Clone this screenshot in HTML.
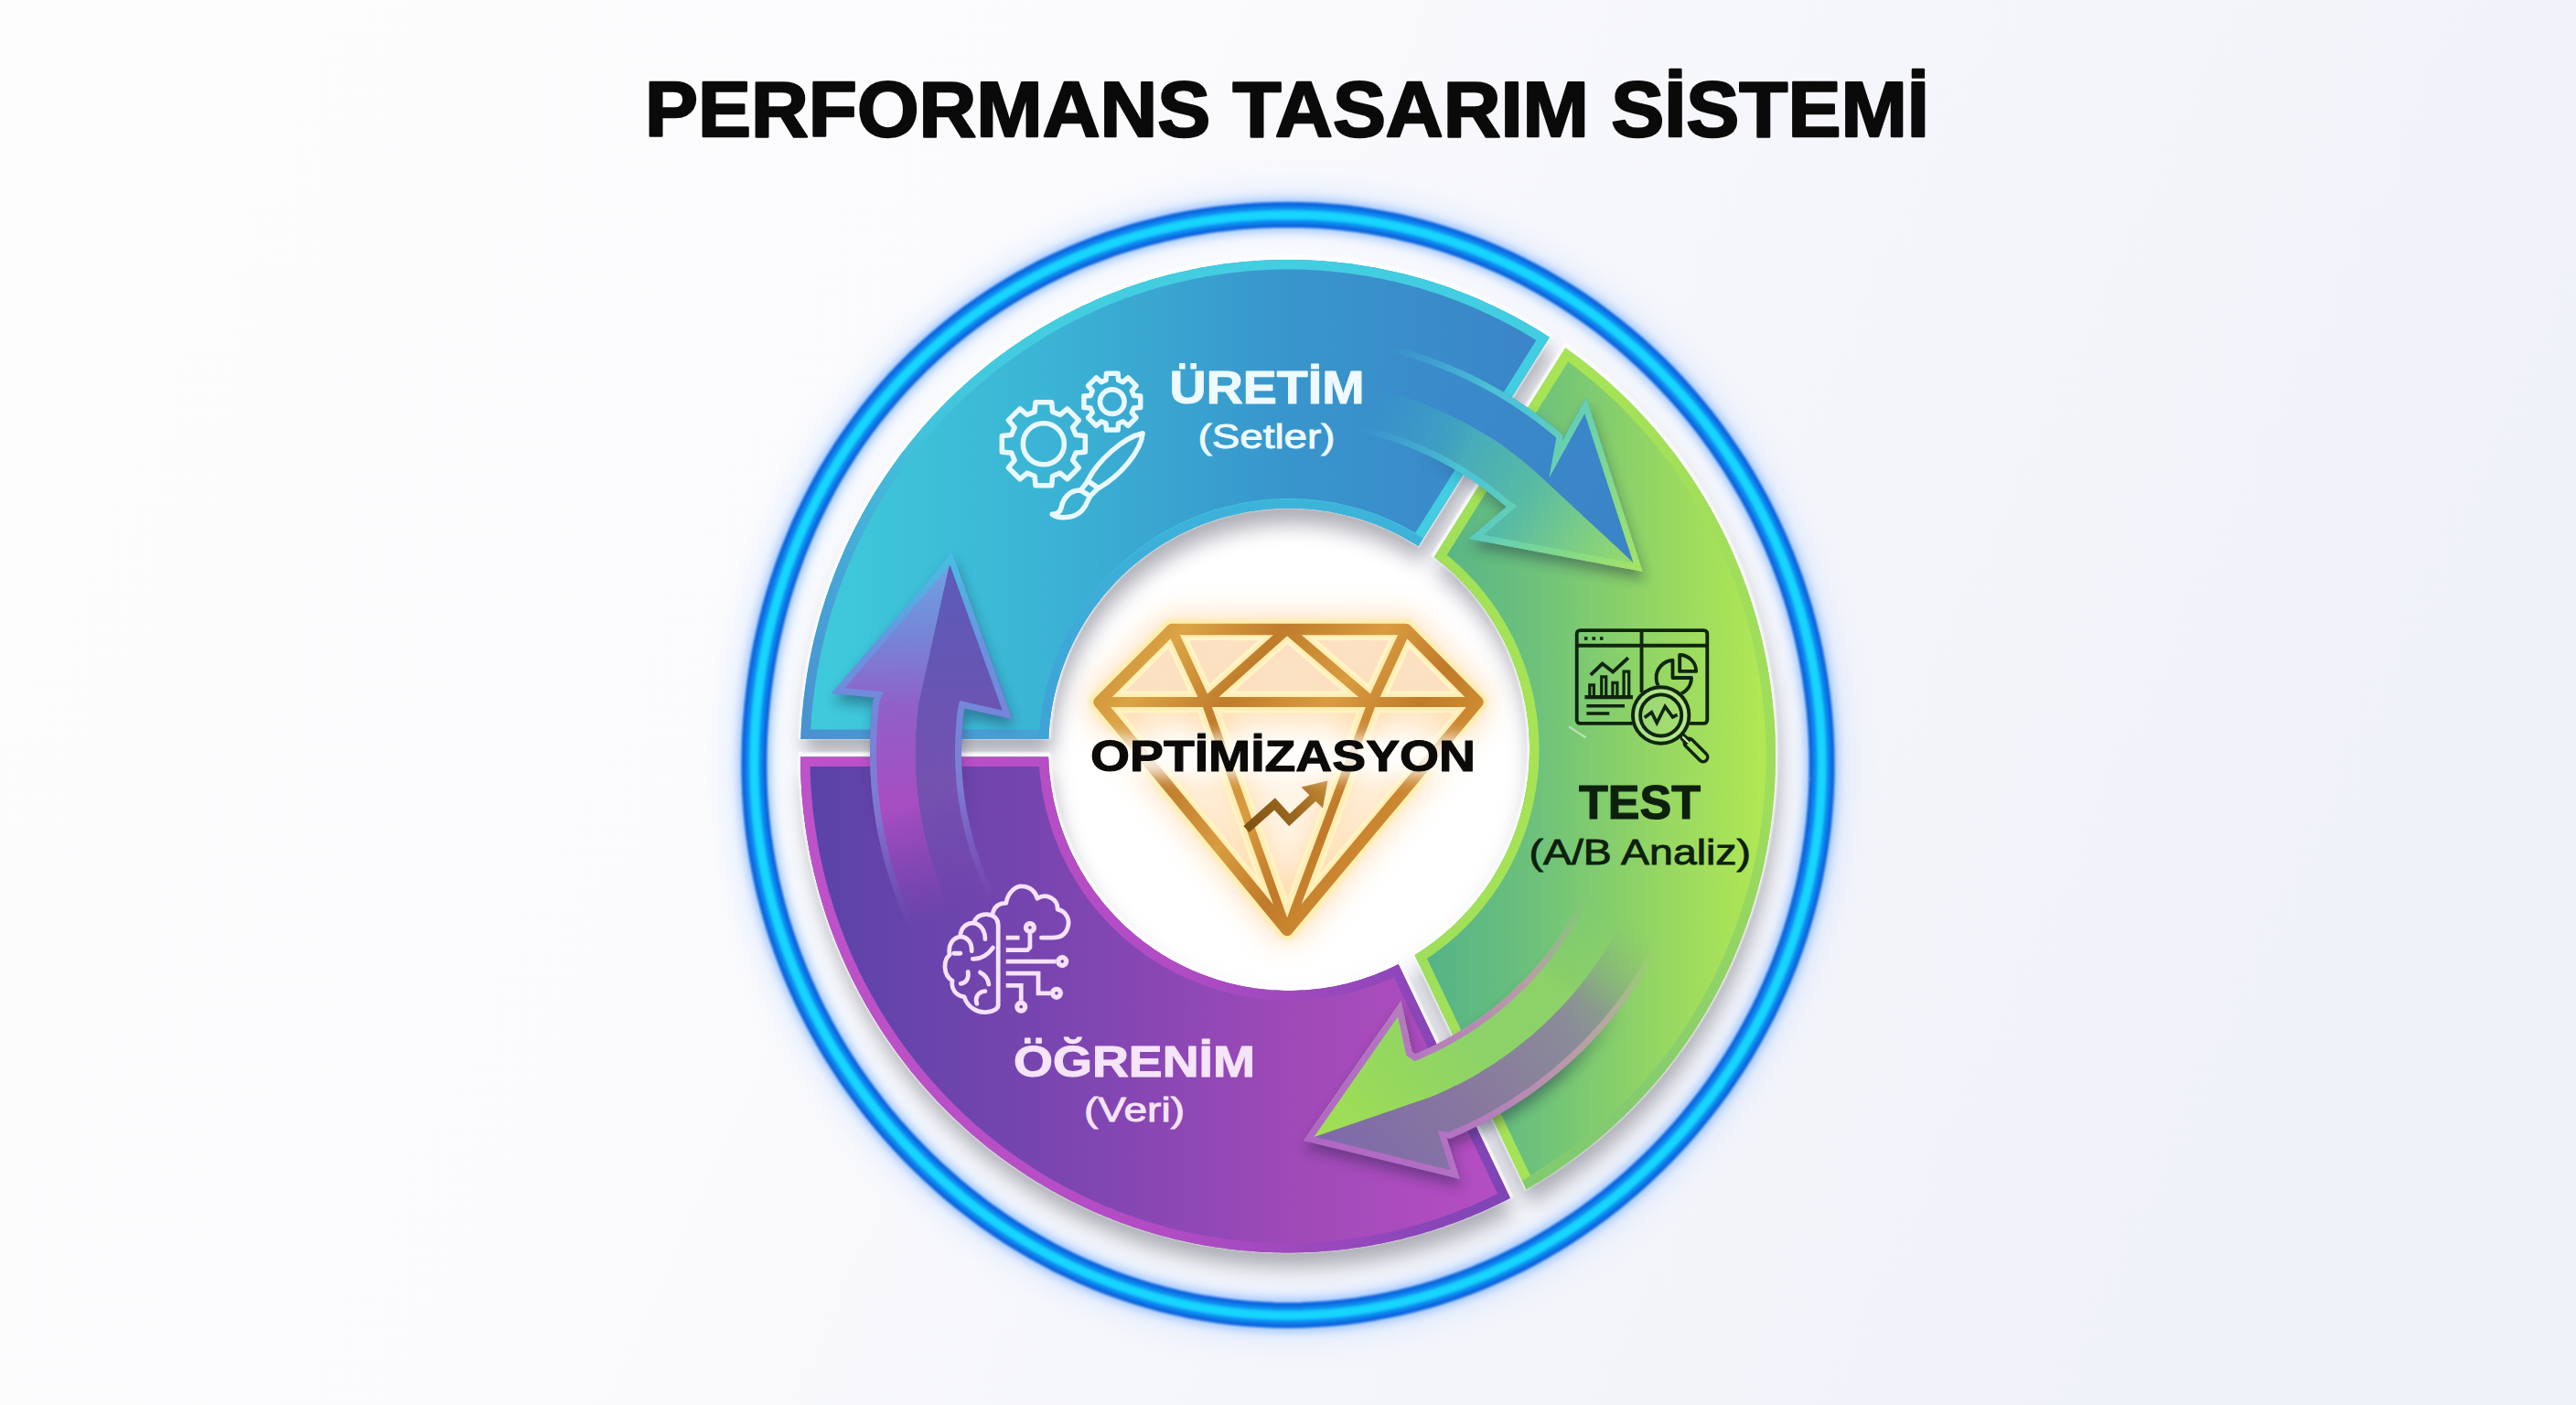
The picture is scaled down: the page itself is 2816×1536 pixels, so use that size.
<!DOCTYPE html><html><head><meta charset="utf-8"><title>Performans Tasarım Sistemi</title><style>html,body{margin:0;padding:0;background:#fafbfd;width:2816px;height:1536px;overflow:hidden;}svg{display:block;}text{font-family:"Liberation Sans",sans-serif;}</style></head><body><svg width="2816" height="1536" viewBox="0 0 2816 1536"><defs><linearGradient id="bg" x1="0" y1="0" x2="1" y2="0.25">
<stop offset="0" stop-color="#fdfdfe"/><stop offset="0.4" stop-color="#fbfbfd"/><stop offset="0.7" stop-color="#f5f6fb"/><stop offset="1" stop-color="#f0f2f9"/></linearGradient>
<filter id="glow" x="-20%" y="-20%" width="140%" height="140%"><feGaussianBlur stdDeviation="16"/></filter>
<filter id="glow2" x="-20%" y="-20%" width="140%" height="140%"><feGaussianBlur stdDeviation="5"/></filter>
<filter id="soft1" x="-5%" y="-5%" width="110%" height="110%"><feGaussianBlur stdDeviation="1.2"/></filter>
<filter id="blur8" x="-10%" y="-10%" width="120%" height="120%"><feGaussianBlur stdDeviation="9"/></filter>
<filter id="segsh" x="-10%" y="-10%" width="120%" height="125%"><feGaussianBlur stdDeviation="11"/></filter>
<linearGradient id="gTeal" gradientUnits="userSpaceOnUse" x1="880" y1="0" x2="1720" y2="0">
<stop offset="0" stop-color="#3fcbdb"/><stop offset="0.3" stop-color="#3bb5d5"/><stop offset="0.62" stop-color="#3896cc"/><stop offset="1" stop-color="#3b82c8"/></linearGradient>
<linearGradient id="gTealB" gradientUnits="userSpaceOnUse" x1="880" y1="830" x2="1180" y2="380">
<stop offset="0" stop-color="#4a8fd0"/><stop offset="0.3" stop-color="#47a2d6"/><stop offset="0.7" stop-color="#42c4dc"/><stop offset="1" stop-color="#43cde0"/></linearGradient>
<linearGradient id="gGreen" gradientUnits="userSpaceOnUse" x1="1540" y1="0" x2="1945" y2="0">
<stop offset="0" stop-color="#4fb08a"/><stop offset="0.35" stop-color="#6ec27a"/><stop offset="0.7" stop-color="#98d862"/><stop offset="1" stop-color="#b4ea52"/></linearGradient>
<linearGradient id="gGreenB" gradientUnits="userSpaceOnUse" x1="1540" y1="0" x2="1945" y2="0">
<stop offset="0" stop-color="#9ede5a"/><stop offset="0.4" stop-color="#a8e454"/><stop offset="1" stop-color="#9fdc5c"/></linearGradient>
<linearGradient id="gPurp" gradientUnits="userSpaceOnUse" x1="880" y1="0" x2="1660" y2="0">
<stop offset="0" stop-color="#5943a8"/><stop offset="0.35" stop-color="#7a45b0"/><stop offset="0.7" stop-color="#a04ab8"/><stop offset="1" stop-color="#b84ec4"/></linearGradient>
<linearGradient id="gPurpB" gradientUnits="userSpaceOnUse" x1="880" y1="0" x2="1660" y2="0">
<stop offset="0" stop-color="#be52c8"/><stop offset="0.5" stop-color="#b24cc4"/><stop offset="1" stop-color="#7c44b4"/></linearGradient>
<radialGradient id="gCentre" gradientUnits="userSpaceOnUse" cx="1409" cy="830" r="290">
<stop offset="0" stop-color="#ffffff"/><stop offset="0.8" stop-color="#ffffff"/><stop offset="1" stop-color="#f7f8fc"/></radialGradient>
<clipPath id="cp_teal"><path d="M1690.4,366.5 1686.5,364 1682.5,361.5 1678.5,359.1 1674.5,356.7 1670.5,354.4 1666.4,352 1662.3,349.8 1658.2,347.5 1654.1,345.3 1650,343.2 1645.8,341 1641.7,338.9 1637.5,336.9 1633.3,334.8 1629,332.9 1624.8,330.9 1620.5,329 1616.3,327.1 1612,325.3 1607.7,323.5 1603.3,321.8 1599,320 1594.7,318.4 1590.3,316.7 1585.9,315.1 1581.5,313.6 1577.1,312 1572.7,310.6 1568.3,309.1 1563.8,307.7 1559.4,306.3 1554.9,305 1550.4,303.7 1546,302.5 1541.5,301.3 1536.9,300.1 1532.4,299 1527.9,297.9 1523.4,296.9 1518.8,295.9 1514.3,294.9 1509.7,294 1505.1,293.1 1500.6,292.2 1496,291.4 1491.4,290.7 1486.8,290 1482.2,289.3 1477.6,288.6 1473,288 1468.3,287.5 1463.7,287 1459.1,286.5 1454.5,286.1 1449.8,285.7 1445.2,285.3 1440.5,285 1435.9,284.7 1431.2,284.5 1426.6,284.3 1422,284.2 1417.3,284.1 1412.7,284 1408,284 1403.3,284 1398.7,284.1 1394,284.2 1389.4,284.3 1384.8,284.5 1380.1,284.7 1375.5,285 1370.8,285.3 1366.2,285.7 1361.5,286.1 1356.9,286.5 1352.3,287 1347.7,287.5 1343,288 1338.4,288.6 1333.8,289.3 1329.2,290 1324.6,290.7 1320,291.4 1315.4,292.2 1310.9,293.1 1306.3,294 1301.7,294.9 1297.2,295.9 1292.6,296.9 1288.1,297.9 1283.6,299 1279.1,300.1 1274.5,301.3 1270,302.5 1265.6,303.7 1261.1,305 1256.6,306.3 1252.2,307.7 1247.7,309.1 1243.3,310.6 1238.9,312 1234.5,313.6 1230.1,315.1 1225.7,316.7 1221.3,318.4 1217,320 1212.7,321.8 1208.3,323.5 1204,325.3 1199.7,327.1 1195.5,329 1191.2,330.9 1187,332.9 1182.7,334.8 1178.5,336.9 1174.3,338.9 1170.2,341 1166,343.2 1161.9,345.3 1157.8,347.5 1153.7,349.8 1149.6,352 1145.5,354.4 1141.5,356.7 1137.5,359.1 1133.5,361.5 1129.5,364 1125.6,366.5 1121.6,369 1117.7,371.6 1113.8,374.2 1110,376.8 1106.1,379.4 1102.3,382.1 1098.5,384.9 1094.7,387.6 1091,390.4 1087.2,393.3 1083.5,396.1 1079.9,399 1076.2,402 1072.6,404.9 1069,407.9 1065.4,411 1061.8,414 1058.3,417.1 1054.8,420.2 1051.4,423.4 1047.9,426.6 1044.5,429.8 1041.1,433 1037.7,436.3 1034.4,439.6 1031.1,443 1027.8,446.3 1024.6,449.7 1021.4,453.1 1018.2,456.6 1015,460.1 1011.9,463.6 1008.8,467.1 1005.7,470.7 1002.7,474.2 999.7,477.9 996.7,481.5 993.8,485.2 990.9,488.9 988,492.6 985.1,496.3 982.3,500.1 979.5,503.9 976.8,507.7 974.1,511.6 971.4,515.4 968.7,519.3 966.1,523.2 963.5,527.2 961,531.1 958.5,535.1 956,539.1 953.5,543.1 951.1,547.2 948.8,551.3 946.4,555.3 944.1,559.5 941.8,563.6 939.6,567.7 937.4,571.9 935.2,576.1 933.1,580.3 931,584.5 928.9,588.8 926.9,593.1 924.9,597.3 923,601.6 921.1,606 919.2,610.3 917.4,614.7 915.6,619 913.8,623.4 912.1,627.8 910.4,632.2 908.8,636.6 907.1,641.1 905.6,645.5 904,650 902.5,654.5 901.1,659 899.7,663.5 898.3,668 896.9,672.6 895.6,677.1 894.4,681.7 893.2,686.2 892,690.8 890.8,695.4 889.7,700 888.7,704.6 887.6,709.2 886.6,713.9 885.7,718.5 884.8,723.1 883.9,727.8 883.1,732.5 882.3,737.1 881.6,741.8 880.9,746.5 880.2,751.2 879.6,755.9 879,760.6 878.4,765.3 877.9,770 877.5,774.7 877,779.4 876.6,784.1 876.3,788.8 876,793.6 875.7,798.3 875.5,803 875.3,807.8 875.3,808 1146.3,808 1146.4,805.5 1146.6,800.9 1147,796.3 1147.4,791.7 1148,787.2 1148.6,782.6 1149.2,778 1150,773.5 1150.8,769 1151.7,764.5 1152.7,760 1153.8,755.5 1155,751 1156.2,746.6 1157.5,742.2 1158.9,737.8 1160.3,733.4 1161.9,729.1 1163.5,724.8 1165.2,720.5 1166.9,716.3 1168.7,712 1170.6,707.9 1172.6,703.7 1174.7,699.6 1176.8,695.5 1179,691.5 1181.2,687.4 1183.6,683.5 1186,679.6 1188.4,675.7 1191,671.8 1193.6,668 1196.2,664.3 1199,660.6 1201.8,657 1204.6,653.3 1207.5,649.8 1210.5,646.3 1213.6,642.9 1216.7,639.5 1219.8,636.1 1223,632.8 1226.3,629.6 1229.6,626.4 1233,623.3 1236.5,620.3 1239.9,617.3 1243.5,614.4 1247.1,611.5 1250.7,608.7 1254.4,606 1258.1,603.3 1261.9,600.7 1265.8,598.1 1269.6,595.7 1273.5,593.3 1277.5,590.9 1281.5,588.7 1285.5,586.5 1289.6,584.3 1293.7,582.3 1297.9,580.3 1302,578.4 1306.2,576.6 1310.5,574.8 1314.7,573.1 1319,571.5 1323.4,570 1327.7,568.5 1332.1,567.1 1336.5,565.8 1340.9,564.6 1345.4,563.4 1349.8,562.4 1354.3,561.4 1358.8,560.4 1363.3,559.6 1367.9,558.8 1372.4,558.2 1376.9,557.6 1381.5,557 1386.1,556.6 1390.7,556.2 1395.2,556 1399.8,555.8 1404.4,555.6 1409,555.6 1413.6,555.6 1418.2,555.8 1422.8,556 1427.3,556.2 1431.9,556.6 1436.5,557 1441.1,557.6 1445.6,558.2 1450.1,558.8 1454.7,559.6 1459.2,560.4 1463.7,561.4 1468.2,562.4 1472.6,563.4 1477.1,564.6 1481.5,565.8 1485.9,567.1 1490.3,568.5 1494.6,570 1499,571.5 1503.3,573.1 1507.5,574.8 1511.8,576.6 1516,578.4 1520.1,580.3 1524.3,582.3 1528.4,584.3 1532.5,586.5 1536.5,588.7 1540.5,590.9 1544.5,593.3 1548.4,595.7 1550.5,597.1 1693.9,368.7Z"/></clipPath>
<clipPath id="cp_green"><path d="M1940.9,817.2 1940.8,812.5 1940.7,807.8 1940.5,803 1940.3,798.3 1940,793.6 1939.7,788.8 1939.4,784.1 1939,779.4 1938.5,774.7 1938.1,770 1937.6,765.3 1937,760.6 1936.4,755.9 1935.8,751.2 1935.1,746.5 1934.4,741.8 1933.7,737.1 1932.9,732.5 1932.1,727.8 1931.2,723.1 1930.3,718.5 1929.4,713.9 1928.4,709.2 1927.3,704.6 1926.3,700 1925.2,695.4 1924,690.8 1922.8,686.2 1921.6,681.7 1920.4,677.1 1919.1,672.6 1917.7,668 1916.3,663.5 1914.9,659 1913.5,654.5 1912,650 1910.4,645.5 1908.9,641.1 1907.2,636.6 1905.6,632.2 1903.9,627.8 1902.2,623.4 1900.4,619 1898.6,614.7 1896.8,610.3 1894.9,606 1893,601.6 1891.1,597.3 1889.1,593.1 1887.1,588.8 1885,584.5 1882.9,580.3 1880.8,576.1 1878.6,571.9 1876.4,567.7 1874.2,563.6 1871.9,559.5 1869.6,555.3 1867.2,551.3 1864.9,547.2 1862.5,543.1 1860,539.1 1857.5,535.1 1855,531.1 1852.5,527.2 1849.9,523.2 1847.3,519.3 1844.6,515.4 1841.9,511.6 1839.2,507.7 1836.5,503.9 1833.7,500.1 1830.9,496.3 1828,492.6 1825.1,488.9 1822.2,485.2 1819.3,481.5 1816.3,477.9 1813.3,474.2 1810.3,470.7 1807.2,467.1 1804.1,463.6 1801,460.1 1797.8,456.6 1794.6,453.1 1791.4,449.7 1788.2,446.3 1784.9,443 1781.6,439.6 1778.3,436.3 1774.9,433 1771.5,429.8 1768.1,426.6 1764.6,423.4 1761.2,420.2 1757.7,417.1 1754.2,414 1750.6,411 1747,407.9 1743.4,404.9 1739.8,402 1736.1,399 1732.5,396.1 1728.8,393.3 1725,390.4 1721.3,387.6 1717.5,384.9 1713.7,382.1 1711.2,380.3 1567.8,609.1 1570.9,611.5 1574.5,614.4 1578.1,617.3 1581.5,620.3 1585,623.3 1588.4,626.4 1591.7,629.6 1595,632.8 1598.2,636.1 1601.3,639.5 1604.4,642.9 1607.5,646.3 1610.5,649.8 1613.4,653.3 1616.2,657 1619,660.6 1621.8,664.3 1624.4,668 1627,671.8 1629.6,675.7 1632,679.6 1634.4,683.5 1636.8,687.4 1639,691.5 1641.2,695.5 1643.3,699.6 1645.4,703.7 1647.4,707.9 1649.3,712 1651.1,716.3 1652.8,720.5 1654.5,724.8 1656.1,729.1 1657.7,733.4 1659.1,737.8 1660.5,742.2 1661.8,746.6 1663,751 1664.2,755.5 1665.3,760 1666.3,764.5 1667.2,769 1668,773.5 1668.8,778 1669.4,782.6 1670,787.2 1670.6,791.7 1671,796.3 1671.4,800.9 1671.6,805.5 1671.8,810.1 1672,814.7 1672,819.3 1672,823.9 1671.8,828.5 1671.6,833.1 1671.4,837.7 1671,842.3 1670.6,846.9 1670,851.4 1669.4,856 1668.8,860.6 1668,865.1 1667.2,869.6 1666.3,874.1 1665.3,878.6 1664.2,883.1 1663,887.6 1661.8,892 1660.5,896.4 1659.1,900.8 1657.7,905.2 1656.1,909.5 1654.5,913.8 1652.8,918.1 1651.1,922.3 1649.3,926.6 1647.4,930.7 1645.4,934.9 1643.3,939 1641.2,943.1 1639,947.1 1636.8,951.1 1634.4,955.1 1632,959 1629.6,962.9 1627,966.8 1624.4,970.6 1621.8,974.3 1619,978 1616.2,981.6 1613.4,985.3 1610.5,988.8 1607.5,992.3 1604.4,995.7 1601.3,999.1 1598.2,1002.5 1595,1005.8 1591.7,1009 1588.4,1012.2 1585,1015.3 1581.5,1018.3 1578.1,1021.3 1574.5,1024.2 1570.9,1027.1 1567.3,1029.9 1563.6,1032.6 1559.9,1035.3 1556.1,1037.9 1552.2,1040.5 1548.4,1042.9 1546.5,1044.1 1668.5,1300.2 1670.5,1299 1674.5,1296.7 1678.5,1294.3 1682.5,1291.9 1686.5,1289.4 1690.4,1286.9 1694.4,1284.4 1698.3,1281.8 1702.2,1279.2 1706,1276.6 1709.9,1274 1713.7,1271.3 1717.5,1268.5 1721.3,1265.8 1725,1263 1728.8,1260.1 1732.5,1257.3 1736.1,1254.4 1739.8,1251.4 1743.4,1248.5 1747,1245.5 1750.6,1242.4 1754.2,1239.4 1757.7,1236.3 1761.2,1233.2 1764.6,1230 1768.1,1226.8 1771.5,1223.6 1774.9,1220.4 1778.3,1217.1 1781.6,1213.8 1784.9,1210.4 1788.2,1207.1 1791.4,1203.7 1794.6,1200.3 1797.8,1196.8 1801,1193.3 1804.1,1189.8 1807.2,1186.3 1810.3,1182.7 1813.3,1179.2 1816.3,1175.5 1819.3,1171.9 1822.2,1168.2 1825.1,1164.5 1828,1160.8 1830.9,1157.1 1833.7,1153.3 1836.5,1149.5 1839.2,1145.7 1841.9,1141.8 1844.6,1138 1847.3,1134.1 1849.9,1130.2 1852.5,1126.2 1855,1122.3 1857.5,1118.3 1860,1114.3 1862.5,1110.3 1864.9,1106.2 1867.2,1102.1 1869.6,1098 1871.9,1093.9 1874.2,1089.8 1876.4,1085.7 1878.6,1081.5 1880.8,1077.3 1882.9,1073.1 1885,1068.9 1887.1,1064.6 1889.1,1060.3 1891.1,1056.1 1893,1051.8 1894.9,1047.4 1896.8,1043.1 1898.6,1038.7 1900.4,1034.4 1902.2,1030 1903.9,1025.6 1905.6,1021.2 1907.2,1016.8 1908.9,1012.3 1910.4,1007.9 1912,1003.4 1913.5,998.9 1914.9,994.4 1916.3,989.9 1917.7,985.4 1919.1,980.8 1920.4,976.3 1921.6,971.7 1922.8,967.2 1924,962.6 1925.2,958 1926.3,953.4 1927.3,948.8 1928.4,944.2 1929.4,939.5 1930.3,934.9 1931.2,930.3 1932.1,925.6 1932.9,920.9 1933.7,916.3 1934.4,911.6 1935.1,906.9 1935.8,902.2 1936.4,897.5 1937,892.8 1937.6,888.1 1938.1,883.4 1938.5,878.7 1939,874 1939.4,869.3 1939.7,864.6 1940,859.8 1940.3,855.1 1940.5,850.4 1940.7,845.6 1940.8,840.9 1940.9,836.2 1941,831.4 1941,826.7 1941,822Z"/></clipPath>
<linearGradient id="gGreenLo" gradientUnits="userSpaceOnUse" x1="0" y1="880" x2="0" y2="1220"><stop offset="0" stop-color="#7cc674" stop-opacity="0"/><stop offset="1" stop-color="#7cc674" stop-opacity="0.85"/></linearGradient>
<clipPath id="cp_purp"><path d="M875,831.4 875.1,836.2 875.2,840.9 875.3,845.6 875.5,850.4 875.7,855.1 876,859.8 876.3,864.6 876.6,869.3 877,874 877.5,878.7 877.9,883.4 878.4,888.1 879,892.8 879.6,897.5 880.2,902.2 880.9,906.9 881.6,911.6 882.3,916.3 883.1,920.9 883.9,925.6 884.8,930.3 885.7,934.9 886.6,939.5 887.6,944.2 888.7,948.8 889.7,953.4 890.8,958 892,962.6 893.2,967.2 894.4,971.7 895.6,976.3 896.9,980.8 898.3,985.4 899.7,989.9 901.1,994.4 902.5,998.9 904,1003.4 905.6,1007.9 907.1,1012.3 908.8,1016.8 910.4,1021.2 912.1,1025.6 913.8,1030 915.6,1034.4 917.4,1038.7 919.2,1043.1 921.1,1047.4 923,1051.8 924.9,1056.1 926.9,1060.3 928.9,1064.6 931,1068.9 933.1,1073.1 935.2,1077.3 937.4,1081.5 939.6,1085.7 941.8,1089.8 944.1,1093.9 946.4,1098 948.8,1102.1 951.1,1106.2 953.5,1110.3 956,1114.3 958.5,1118.3 961,1122.3 963.5,1126.2 966.1,1130.2 968.7,1134.1 971.4,1138 974.1,1141.8 976.8,1145.7 979.5,1149.5 982.3,1153.3 985.1,1157.1 988,1160.8 990.9,1164.5 993.8,1168.2 996.7,1171.9 999.7,1175.5 1002.7,1179.2 1005.7,1182.7 1008.8,1186.3 1011.9,1189.8 1015,1193.3 1018.2,1196.8 1021.4,1200.3 1024.6,1203.7 1027.8,1207.1 1031.1,1210.4 1034.4,1213.8 1037.7,1217.1 1041.1,1220.4 1044.5,1223.6 1047.9,1226.8 1051.4,1230 1054.8,1233.2 1058.3,1236.3 1061.8,1239.4 1065.4,1242.4 1069,1245.5 1072.6,1248.5 1076.2,1251.4 1079.9,1254.4 1083.5,1257.3 1087.2,1260.1 1091,1263 1094.7,1265.8 1098.5,1268.5 1102.3,1271.3 1106.1,1274 1110,1276.6 1113.8,1279.2 1117.7,1281.8 1121.6,1284.4 1125.6,1286.9 1129.5,1289.4 1133.5,1291.9 1137.5,1294.3 1141.5,1296.7 1145.5,1299 1149.6,1301.4 1153.7,1303.6 1157.8,1305.9 1161.9,1308.1 1166,1310.2 1170.2,1312.4 1174.3,1314.5 1178.5,1316.5 1182.7,1318.6 1187,1320.5 1191.2,1322.5 1195.5,1324.4 1199.7,1326.3 1204,1328.1 1208.3,1329.9 1212.7,1331.6 1217,1333.4 1221.3,1335 1225.7,1336.7 1230.1,1338.3 1234.5,1339.8 1238.9,1341.4 1243.3,1342.8 1247.7,1344.3 1252.2,1345.7 1256.6,1347.1 1261.1,1348.4 1265.6,1349.7 1270,1350.9 1274.5,1352.1 1279.1,1353.3 1283.6,1354.4 1288.1,1355.5 1292.6,1356.5 1297.2,1357.5 1301.7,1358.5 1306.3,1359.4 1310.9,1360.3 1315.4,1361.2 1320,1362 1324.6,1362.7 1329.2,1363.4 1333.8,1364.1 1338.4,1364.8 1343,1365.4 1347.7,1365.9 1352.3,1366.4 1356.9,1366.9 1361.5,1367.3 1366.2,1367.7 1370.8,1368.1 1375.5,1368.4 1380.1,1368.7 1384.8,1368.9 1389.4,1369.1 1394,1369.2 1398.7,1369.3 1403.3,1369.4 1408,1369.4 1412.7,1369.4 1417.3,1369.3 1422,1369.2 1426.6,1369.1 1431.2,1368.9 1435.9,1368.7 1440.5,1368.4 1445.2,1368.1 1449.8,1367.7 1454.5,1367.3 1459.1,1366.9 1463.7,1366.4 1468.3,1365.9 1473,1365.4 1477.6,1364.8 1482.2,1364.1 1486.8,1363.4 1491.4,1362.7 1496,1362 1500.6,1361.2 1505.1,1360.3 1509.7,1359.4 1514.3,1358.5 1518.8,1357.5 1523.4,1356.5 1527.9,1355.5 1532.4,1354.4 1536.9,1353.3 1541.5,1352.1 1546,1350.9 1550.4,1349.7 1554.9,1348.4 1559.4,1347.1 1563.8,1345.7 1568.3,1344.3 1572.7,1342.8 1577.1,1341.4 1581.5,1339.8 1585.9,1338.3 1590.3,1336.7 1594.7,1335 1599,1333.4 1603.3,1331.6 1607.7,1329.9 1612,1328.1 1616.3,1326.3 1620.5,1324.4 1624.8,1322.5 1629,1320.5 1633.3,1318.6 1637.5,1316.5 1641.7,1314.5 1645.8,1312.4 1650,1310.2 1651,1309.7 1528.7,1054.1 1528.4,1054.3 1524.3,1056.3 1520.1,1058.3 1516,1060.2 1511.8,1062 1507.5,1063.8 1503.3,1065.5 1499,1067.1 1494.6,1068.6 1490.3,1070.1 1485.9,1071.5 1481.5,1072.8 1477.1,1074 1472.6,1075.2 1468.2,1076.2 1463.7,1077.2 1459.2,1078.2 1454.7,1079 1450.1,1079.8 1445.6,1080.4 1441.1,1081 1436.5,1081.6 1431.9,1082 1427.3,1082.4 1422.8,1082.6 1418.2,1082.8 1413.6,1083 1409,1083 1404.4,1083 1399.8,1082.8 1395.2,1082.6 1390.7,1082.4 1386.1,1082 1381.5,1081.6 1376.9,1081 1372.4,1080.4 1367.9,1079.8 1363.3,1079 1358.8,1078.2 1354.3,1077.2 1349.8,1076.2 1345.4,1075.2 1340.9,1074 1336.5,1072.8 1332.1,1071.5 1327.7,1070.1 1323.4,1068.6 1319,1067.1 1314.7,1065.5 1310.5,1063.8 1306.2,1062 1302,1060.2 1297.9,1058.3 1293.7,1056.3 1289.6,1054.3 1285.5,1052.1 1281.5,1049.9 1277.5,1047.7 1273.5,1045.3 1269.6,1042.9 1265.8,1040.5 1261.9,1037.9 1258.1,1035.3 1254.4,1032.6 1250.7,1029.9 1247.1,1027.1 1243.5,1024.2 1239.9,1021.3 1236.5,1018.3 1233,1015.3 1229.6,1012.2 1226.3,1009 1223,1005.8 1219.8,1002.5 1216.7,999.1 1213.6,995.7 1210.5,992.3 1207.5,988.8 1204.6,985.3 1201.8,981.6 1199,978 1196.2,974.3 1193.6,970.6 1191,966.8 1188.4,962.9 1186,959 1183.6,955.1 1181.2,951.1 1179,947.1 1176.8,943.1 1174.7,939 1172.6,934.9 1170.6,930.7 1168.7,926.6 1166.9,922.3 1165.2,918.1 1163.5,913.8 1161.9,909.5 1160.3,905.2 1158.9,900.8 1157.5,896.4 1156.2,892 1155,887.6 1153.8,883.1 1152.7,878.6 1151.7,874.1 1150.8,869.6 1150,865.1 1149.2,860.6 1148.6,856 1148,851.4 1147.4,846.9 1147,842.3 1146.6,837.7 1146.4,833.1 1146.2,828.5 1146.1,827.5 875,827.5Z"/></clipPath>
<filter id="arsh" x="-20%" y="-20%" width="140%" height="140%"><feGaussianBlur stdDeviation="7"/></filter>
<linearGradient id="ao_a1" gradientUnits="userSpaceOnUse" x1="1479.8" y1="420.2" x2="1796" y2="625"><stop offset="0" stop-color="#3c8fce"/><stop offset="0.5" stop-color="#3a87c9"/><stop offset="1" stop-color="#3a84c6"/></linearGradient>
<linearGradient id="ai_a1" gradientUnits="userSpaceOnUse" x1="1479.8" y1="420.2" x2="1796" y2="625"><stop offset="0" stop-color="#3c9ccc"/><stop offset="0.3" stop-color="#41a6c2"/><stop offset="0.6" stop-color="#58bba4"/><stop offset="0.85" stop-color="#86d27c"/><stop offset="1" stop-color="#9cdc66"/></linearGradient>
<linearGradient id="ab_a1" gradientUnits="userSpaceOnUse" x1="1479.8" y1="420.2" x2="1796" y2="625"><stop offset="0" stop-color="#45b8d8"/><stop offset="0.45" stop-color="#4cc6d4"/><stop offset="0.75" stop-color="#7fd890"/><stop offset="1" stop-color="#a8e460"/></linearGradient>
<linearGradient id="am_a1" gradientUnits="userSpaceOnUse" x1="1479.8" y1="420.2" x2="1613" y2="468.7"><stop offset="0" stop-color="#000"/><stop offset="0.15" stop-color="#000"/><stop offset="1" stop-color="#fff"/></linearGradient>
<linearGradient id="as_a1" gradientUnits="userSpaceOnUse" x1="1581.4" y1="452.2" x2="1682" y2="518.8"><stop offset="0" stop-color="#000"/><stop offset="1" stop-color="#fff"/></linearGradient>
<mask id="ms_a1" maskUnits="userSpaceOnUse" x="0" y="0" width="2816" height="1536"><rect width="2816" height="1536" fill="url(#as_a1)"/></mask>
<mask id="mk_a1" maskUnits="userSpaceOnUse" x="0" y="0" width="2816" height="1536"><rect width="2816" height="1536" fill="url(#am_a1)"/></mask>
<clipPath id="cpa_a1"><path d="M1488.5,371 1496.6,372.5 1504.7,374.1 1512.7,375.9 1520.7,377.8 1528.7,379.9 1536.6,382.1 1544.5,384.5 1552.4,387 1560.2,389.7 1567.9,392.5 1575.6,395.4 1583.3,398.4 1590.9,401.7 1598.4,405 1605.8,408.5 1613.3,412.1 1620.6,415.8 1627.9,419.7 1635.1,423.7 1642.2,427.8 1649.2,432.1 1656.2,436.4 1663.1,441 1669.9,445.6 1676.6,450.3 1683.3,455.2 1689.8,460.2 1696.3,465.3 1702.7,470.5 1708.9,475.9 1707.8,482 1734,434.6 1796,625 1605.7,589 1646.8,554 1644.7,552.6 1640,548.5 1635.1,544.5 1630.2,540.5 1625.2,536.7 1620.2,532.9 1615.1,529.3 1609.9,525.7 1604.7,522.2 1599.4,518.8 1594,515.5 1588.6,512.3 1583.2,509.2 1577.7,506.2 1572.1,503.3 1566.5,500.5 1560.8,497.8 1555.1,495.2 1549.3,492.6 1543.5,490.2 1537.7,487.9 1531.8,485.7 1525.9,483.6 1519.9,481.6 1513.9,479.7 1507.9,477.9 1501.8,476.2 1495.8,474.7 1489.6,473.2 1483.5,471.8 1477.3,470.6 1471.2,469.4Z"/></clipPath>
<linearGradient id="ao_a2" gradientUnits="userSpaceOnUse" x1="1781.7" y1="987.9" x2="1425" y2="1247"><stop offset="0" stop-color="#8cc070"/><stop offset="0.3" stop-color="#8a8c98"/><stop offset="0.6" stop-color="#88789e"/><stop offset="1" stop-color="#7d68ac"/></linearGradient>
<linearGradient id="ai_a2" gradientUnits="userSpaceOnUse" x1="1781.7" y1="987.9" x2="1425" y2="1247"><stop offset="0" stop-color="#8ed268"/><stop offset="0.5" stop-color="#8cd268"/><stop offset="1" stop-color="#a2e052"/></linearGradient>
<linearGradient id="ab_a2" gradientUnits="userSpaceOnUse" x1="1781.7" y1="987.9" x2="1425" y2="1247"><stop offset="0" stop-color="#b0c090"/><stop offset="0.35" stop-color="#b89aa8"/><stop offset="0.7" stop-color="#b472c4"/><stop offset="1" stop-color="#b066c4"/></linearGradient>
<linearGradient id="am_a2" gradientUnits="userSpaceOnUse" x1="1781.7" y1="987.9" x2="1716.9" y2="1089.7"><stop offset="0" stop-color="#000"/><stop offset="0.15" stop-color="#000"/><stop offset="1" stop-color="#fff"/></linearGradient>
<linearGradient id="as_a2" gradientUnits="userSpaceOnUse" x1="1735.9" y1="1066.1" x2="1664.7" y2="1140"><stop offset="0" stop-color="#000"/><stop offset="1" stop-color="#fff"/></linearGradient>
<mask id="ms_a2" maskUnits="userSpaceOnUse" x="0" y="0" width="2816" height="1536"><rect width="2816" height="1536" fill="url(#as_a2)"/></mask>
<mask id="mk_a2" maskUnits="userSpaceOnUse" x="0" y="0" width="2816" height="1536"><rect width="2816" height="1536" fill="url(#am_a2)"/></mask>
<clipPath id="cpa_a2"><path d="M1827.4,1008.3 1824.1,1015.6 1820.6,1022.9 1817,1030.1 1813.3,1037.3 1809.4,1044.3 1805.4,1051.4 1801.3,1058.3 1797.1,1065.2 1792.8,1072 1788.3,1078.7 1783.7,1085.3 1779.1,1091.9 1774.2,1098.3 1769.3,1104.7 1764.3,1111 1759.2,1117.2 1753.9,1123.3 1748.5,1129.4 1743.1,1135.3 1737.5,1141.1 1731.9,1146.9 1726.1,1152.5 1720.2,1158 1714.3,1163.4 1708.2,1168.8 1702.1,1174 1695.8,1179.1 1689.5,1184.1 1683.1,1188.9 1676.6,1193.7 1670,1198.4 1663.3,1202.9 1656.6,1207.3 1649.8,1211.6 1642.9,1215.8 1635.9,1219.8 1628.9,1223.8 1621.8,1227.6 1614.6,1231.3 1607.3,1234.8 1600.1,1238.2 1592.7,1241.5 1585.3,1244.7 1581.7,1244.4 1596,1289 1425,1247 1531.6,1094.3 1543.5,1149.6 1547.3,1152.2 1553.1,1149.7 1558.8,1147.2 1564.5,1144.5 1570.1,1141.7 1575.7,1138.8 1581.2,1135.8 1586.7,1132.8 1592.2,1129.6 1597.5,1126.3 1602.9,1123 1608.1,1119.5 1613.3,1116 1618.4,1112.3 1623.5,1108.6 1628.5,1104.8 1633.4,1100.9 1638.3,1096.9 1643.1,1092.8 1647.8,1088.7 1652.5,1084.5 1657,1080.1 1661.5,1075.7 1666,1071.3 1670.3,1066.7 1674.6,1062.1 1678.7,1057.4 1682.8,1052.6 1686.8,1047.8 1690.8,1042.9 1694.6,1037.9 1698.3,1032.8 1702,1027.7 1705.6,1022.5 1709,1017.3 1712.4,1012 1715.7,1006.6 1718.9,1001.2 1722,995.7 1725,990.2 1727.9,984.6 1730.7,979 1733.4,973.3 1736,967.6Z"/></clipPath>
<linearGradient id="ao_a3" gradientUnits="userSpaceOnUse" x1="1052.2" y1="1019.8" x2="1041" y2="604"><stop offset="0" stop-color="#9a48b8"/><stop offset="0.35" stop-color="#a64ec2"/><stop offset="0.6" stop-color="#9060c8"/><stop offset="0.8" stop-color="#7488d8"/><stop offset="1" stop-color="#6ea6e4"/></linearGradient>
<linearGradient id="ai_a3" gradientUnits="userSpaceOnUse" x1="1052.2" y1="1019.8" x2="1041" y2="604"><stop offset="0" stop-color="#7a4ab0"/><stop offset="0.4" stop-color="#7452b0"/><stop offset="0.7" stop-color="#6656b4"/><stop offset="1" stop-color="#5a5cba"/></linearGradient>
<linearGradient id="ab_a3" gradientUnits="userSpaceOnUse" x1="1052.2" y1="1019.8" x2="1041" y2="604"><stop offset="0" stop-color="#8c60c8"/><stop offset="0.4" stop-color="#7c7cd4"/><stop offset="0.75" stop-color="#6a92e0"/><stop offset="1" stop-color="#46c0e2"/></linearGradient>
<linearGradient id="am_a3" gradientUnits="userSpaceOnUse" x1="1052.2" y1="1019.8" x2="1005" y2="878.8"><stop offset="0" stop-color="#000"/><stop offset="0.15" stop-color="#000"/><stop offset="1" stop-color="#fff"/></linearGradient>
<linearGradient id="as_a3" gradientUnits="userSpaceOnUse" x1="1011.9" y1="915.5" x2="1002.3" y2="789.3"><stop offset="0" stop-color="#000"/><stop offset="1" stop-color="#fff"/></linearGradient>
<mask id="ms_a3" maskUnits="userSpaceOnUse" x="0" y="0" width="2816" height="1536"><rect width="2816" height="1536" fill="url(#as_a3)"/></mask>
<mask id="mk_a3" maskUnits="userSpaceOnUse" x="0" y="0" width="2816" height="1536"><rect width="2816" height="1536" fill="url(#am_a3)"/></mask>
<clipPath id="cpa_a3"><path d="M1008.4,1044 1004.6,1037 1000.9,1029.9 997.3,1022.7 993.9,1015.5 990.6,1008.2 987.4,1000.8 984.3,993.4 981.4,986 978.6,978.5 975.9,970.9 973.3,963.3 970.9,955.7 968.7,948 966.5,940.3 964.5,932.5 962.7,924.7 960.9,916.9 959.3,909 957.9,901.2 956.6,893.3 955.4,885.3 954.4,877.4 953.5,869.4 952.7,861.4 952.1,853.4 951.6,845.4 951.3,837.4 951.1,829.4 951,821.4 951.1,813.4 951.3,805.4 951.7,797.4 952.2,789.4 952.8,781.4 953.6,773.4 954.5,765.5 955.7,762.4 909.3,758 1041,604 1106.7,786.3 1054.4,774.4 1053.9,776.8 1053.1,783.1 1052.5,789.4 1052,795.6 1051.6,801.9 1051.3,808.2 1051.1,814.5 1051,820.8 1051,827.1 1051.2,833.3 1051.4,839.6 1051.8,845.9 1052.3,852.2 1052.9,858.4 1053.6,864.7 1054.4,870.9 1055.3,877.2 1056.3,883.4 1057.4,889.6 1058.7,895.7 1060,901.9 1061.5,908 1063,914.1 1064.7,920.1 1066.5,926.2 1068.4,932.2 1070.4,938.2 1072.5,944.1 1074.7,950 1077,955.8 1079.4,961.6 1081.9,967.4 1084.5,973.1 1087.2,978.8 1090,984.5 1092.9,990 1095.9,995.6Z"/></clipPath>
<filter id="dglow" x="-30%" y="-30%" width="160%" height="160%"><feGaussianBlur stdDeviation="17"/></filter>
<filter id="dglow2" x="-30%" y="-30%" width="160%" height="160%"><feGaussianBlur stdDeviation="1.6"/></filter>
<linearGradient id="gold" gradientUnits="userSpaceOnUse" x1="1200" y1="690" x2="1620" y2="1010">
<stop offset="0" stop-color="#c98a34"/><stop offset="0.14" stop-color="#dba444"/><stop offset="0.3" stop-color="#bf7c2c"/><stop offset="0.47" stop-color="#d99c40"/>
<stop offset="0.62" stop-color="#c07a2a"/><stop offset="0.8" stop-color="#d89636"/><stop offset="1" stop-color="#c6842e"/></linearGradient>
<linearGradient id="gold2" gradientUnits="userSpaceOnUse" x1="1360" y1="908" x2="1452" y2="854">
<stop offset="0" stop-color="#7c5014"/><stop offset="0.55" stop-color="#9a6820"/><stop offset="1" stop-color="#c48a32"/></linearGradient>
<mask id="mkMag" maskUnits="userSpaceOnUse" x="0" y="0" width="1405" height="1405"><rect width="1405" height="1405" fill="#fff"/><circle cx="825" cy="835" r="255" fill="#000"/></mask>
<filter id="thalo" x="-10%" y="-60%" width="120%" height="220%"><feGaussianBlur stdDeviation="9"/></filter></defs>
<rect width="2816" height="1536" fill="url(#bg)"/>
<path d="M824.4,836.3 824.6,820.6 825.1,804.8 826.1,789.1 827.4,773.4 829.1,757.7 831.1,742.1 833.5,726.5 836.3,711 839.5,695.6 843.1,680.3 847,665 851.3,649.8 856,634.8 861.1,619.9 866.5,605.1 872.3,590.5 878.5,576 885.1,561.7 892.1,547.5 899.4,533.6 907,519.8 915.1,506.3 923.5,493 932.2,480 941.3,467.2 950.8,454.6 960.6,442.4 970.7,430.4 981.1,418.7 991.9,407.3 1002.9,396.2 1014.2,385.5 1025.9,375.1 1037.8,365 1049.9,355.3 1062.4,345.9 1075,336.9 1087.9,328.2 1101,319.9 1114.4,312 1127.9,304.5 1141.6,297.3 1155.5,290.6 1169.5,284.2 1183.7,278.2 1198.1,272.6 1212.5,267.3 1227.1,262.5 1241.8,258 1256.6,254 1271.5,250.3 1286.5,247 1301.5,244.1 1316.6,241.6 1331.8,239.5 1347,237.8 1362.2,236.4 1377.5,235.5 1392.7,234.9 1408,234.7 1423.3,234.9 1438.5,235.5 1453.8,236.6 1469,238 1484.2,239.9 1499.3,242.2 1514.3,244.9 1529.3,248 1544.2,251.5 1559,255.4 1573.7,259.8 1588.2,264.5 1602.7,269.6 1617,275.1 1631.1,281 1645.2,287.2 1659,293.9 1672.7,300.9 1686.1,308.2 1699.4,316 1712.5,324 1725.4,332.5 1738.1,341.2 1750.5,350.3 1762.7,359.8 1774.7,369.5 1786.4,379.6 1797.9,390 1809,400.6 1820,411.6 1830.6,422.9 1841,434.4 1851,446.2 1860.8,458.3 1870.3,470.6 1879.4,483.2 1888.2,496.1 1896.8,509.1 1904.9,522.4 1912.8,535.9 1920.3,549.6 1927.4,563.5 1934.2,577.6 1940.6,591.8 1946.7,606.3 1952.4,620.9 1957.8,635.6 1962.7,650.5 1967.3,665.5 1971.5,680.7 1975.3,695.9 1978.7,711.3 1981.7,726.7 1984.3,742.2 1986.5,757.8 1988.4,773.4 1989.8,789.1 1990.8,804.8 1991.4,820.6 1991.6,836.3 1991.4,852 1990.8,867.8 1989.7,883.5 1988.3,899.2 1986.4,914.8 1984.1,930.4 1981.4,945.9 1978.4,961.3 1974.9,976.6 1971,991.8 1966.7,1006.9 1962.1,1021.9 1957,1036.7 1951.6,1051.4 1945.8,1065.9 1939.6,1080.3 1933.1,1094.5 1926.3,1108.5 1919,1122.3 1911.5,1135.9 1903.6,1149.4 1895.4,1162.6 1886.8,1175.5 1878,1188.3 1868.8,1200.8 1859.3,1213.1 1849.6,1225.1 1839.5,1236.8 1829.2,1248.3 1818.6,1259.5 1807.7,1270.5 1796.6,1281.1 1785.2,1291.5 1773.5,1301.6 1761.6,1311.3 1749.5,1320.8 1737.1,1329.9 1724.5,1338.7 1711.7,1347.2 1698.7,1355.3 1685.5,1363.1 1672.1,1370.6 1658.5,1377.7 1644.7,1384.4 1630.8,1390.7 1616.7,1396.7 1602.4,1402.3 1588,1407.5 1573.5,1412.3 1558.9,1416.7 1544.1,1420.7 1529.2,1424.3 1514.3,1427.4 1499.3,1430.2 1484.1,1432.6 1469,1434.5 1453.8,1436 1438.5,1437 1423.3,1437.7 1408,1437.9 1392.7,1437.7 1377.5,1437 1362.2,1436 1347,1434.5 1331.9,1432.5 1316.8,1430.2 1301.7,1427.4 1286.8,1424.2 1271.9,1420.6 1257.2,1416.6 1242.5,1412.1 1228,1407.3 1213.6,1402.1 1199.4,1396.5 1185.3,1390.5 1171.4,1384.1 1157.6,1377.4 1144.1,1370.3 1130.7,1362.8 1117.5,1355 1104.5,1346.9 1091.7,1338.4 1079.1,1329.6 1066.8,1320.4 1054.7,1311 1042.8,1301.2 1031.2,1291.1 1019.8,1280.8 1008.6,1270.1 997.8,1259.2 987.2,1248 976.8,1236.5 966.8,1224.8 957,1212.8 947.6,1200.5 938.4,1188 929.5,1175.3 921,1162.3 912.7,1149.2 904.8,1135.8 897.3,1122.2 890,1108.4 883.1,1094.4 876.6,1080.2 870.4,1065.8 864.6,1051.3 859.2,1036.6 854.1,1021.8 849.4,1006.9 845.1,991.8 841.2,976.6 837.7,961.3 834.6,945.8 831.9,930.4 829.6,914.8 827.7,899.2 826.3,883.5 825.2,867.8 824.6,852Z" fill="none" stroke="#a4c8ff" stroke-width="54" opacity="0.3" filter="url(#glow)"/>
<ellipse cx="1408" cy="827" rx="549" ry="558" fill="none" stroke="#ffffff" stroke-width="34" opacity="0.4" filter="url(#blur8)"/>
<path d="M824.4,836.3 824.6,820.6 825.1,804.8 826.1,789.1 827.4,773.4 829.1,757.7 831.1,742.1 833.5,726.5 836.3,711 839.5,695.6 843.1,680.3 847,665 851.3,649.8 856,634.8 861.1,619.9 866.5,605.1 872.3,590.5 878.5,576 885.1,561.7 892.1,547.5 899.4,533.6 907,519.8 915.1,506.3 923.5,493 932.2,480 941.3,467.2 950.8,454.6 960.6,442.4 970.7,430.4 981.1,418.7 991.9,407.3 1002.9,396.2 1014.2,385.5 1025.9,375.1 1037.8,365 1049.9,355.3 1062.4,345.9 1075,336.9 1087.9,328.2 1101,319.9 1114.4,312 1127.9,304.5 1141.6,297.3 1155.5,290.6 1169.5,284.2 1183.7,278.2 1198.1,272.6 1212.5,267.3 1227.1,262.5 1241.8,258 1256.6,254 1271.5,250.3 1286.5,247 1301.5,244.1 1316.6,241.6 1331.8,239.5 1347,237.8 1362.2,236.4 1377.5,235.5 1392.7,234.9 1408,234.7 1423.3,234.9 1438.5,235.5 1453.8,236.6 1469,238 1484.2,239.9 1499.3,242.2 1514.3,244.9 1529.3,248 1544.2,251.5 1559,255.4 1573.7,259.8 1588.2,264.5 1602.7,269.6 1617,275.1 1631.1,281 1645.2,287.2 1659,293.9 1672.7,300.9 1686.1,308.2 1699.4,316 1712.5,324 1725.4,332.5 1738.1,341.2 1750.5,350.3 1762.7,359.8 1774.7,369.5 1786.4,379.6 1797.9,390 1809,400.6 1820,411.6 1830.6,422.9 1841,434.4 1851,446.2 1860.8,458.3 1870.3,470.6 1879.4,483.2 1888.2,496.1 1896.8,509.1 1904.9,522.4 1912.8,535.9 1920.3,549.6 1927.4,563.5 1934.2,577.6 1940.6,591.8 1946.7,606.3 1952.4,620.9 1957.8,635.6 1962.7,650.5 1967.3,665.5 1971.5,680.7 1975.3,695.9 1978.7,711.3 1981.7,726.7 1984.3,742.2 1986.5,757.8 1988.4,773.4 1989.8,789.1 1990.8,804.8 1991.4,820.6 1991.6,836.3 1991.4,852 1990.8,867.8 1989.7,883.5 1988.3,899.2 1986.4,914.8 1984.1,930.4 1981.4,945.9 1978.4,961.3 1974.9,976.6 1971,991.8 1966.7,1006.9 1962.1,1021.9 1957,1036.7 1951.6,1051.4 1945.8,1065.9 1939.6,1080.3 1933.1,1094.5 1926.3,1108.5 1919,1122.3 1911.5,1135.9 1903.6,1149.4 1895.4,1162.6 1886.8,1175.5 1878,1188.3 1868.8,1200.8 1859.3,1213.1 1849.6,1225.1 1839.5,1236.8 1829.2,1248.3 1818.6,1259.5 1807.7,1270.5 1796.6,1281.1 1785.2,1291.5 1773.5,1301.6 1761.6,1311.3 1749.5,1320.8 1737.1,1329.9 1724.5,1338.7 1711.7,1347.2 1698.7,1355.3 1685.5,1363.1 1672.1,1370.6 1658.5,1377.7 1644.7,1384.4 1630.8,1390.7 1616.7,1396.7 1602.4,1402.3 1588,1407.5 1573.5,1412.3 1558.9,1416.7 1544.1,1420.7 1529.2,1424.3 1514.3,1427.4 1499.3,1430.2 1484.1,1432.6 1469,1434.5 1453.8,1436 1438.5,1437 1423.3,1437.7 1408,1437.9 1392.7,1437.7 1377.5,1437 1362.2,1436 1347,1434.5 1331.9,1432.5 1316.8,1430.2 1301.7,1427.4 1286.8,1424.2 1271.9,1420.6 1257.2,1416.6 1242.5,1412.1 1228,1407.3 1213.6,1402.1 1199.4,1396.5 1185.3,1390.5 1171.4,1384.1 1157.6,1377.4 1144.1,1370.3 1130.7,1362.8 1117.5,1355 1104.5,1346.9 1091.7,1338.4 1079.1,1329.6 1066.8,1320.4 1054.7,1311 1042.8,1301.2 1031.2,1291.1 1019.8,1280.8 1008.6,1270.1 997.8,1259.2 987.2,1248 976.8,1236.5 966.8,1224.8 957,1212.8 947.6,1200.5 938.4,1188 929.5,1175.3 921,1162.3 912.7,1149.2 904.8,1135.8 897.3,1122.2 890,1108.4 883.1,1094.4 876.6,1080.2 870.4,1065.8 864.6,1051.3 859.2,1036.6 854.1,1021.8 849.4,1006.9 845.1,991.8 841.2,976.6 837.7,961.3 834.6,945.8 831.9,930.4 829.6,914.8 827.7,899.2 826.3,883.5 825.2,867.8 824.6,852Z" fill="none" stroke="#7fb2ff" stroke-width="36" opacity="0.65" filter="url(#glow2)"/>
<g filter="url(#soft1)"><path d="M824.4,836.3 824.6,820.6 825.1,804.8 826.1,789.1 827.4,773.4 829.1,757.7 831.1,742.1 833.5,726.5 836.3,711 839.5,695.6 843.1,680.3 847,665 851.3,649.8 856,634.8 861.1,619.9 866.5,605.1 872.3,590.5 878.5,576 885.1,561.7 892.1,547.5 899.4,533.6 907,519.8 915.1,506.3 923.5,493 932.2,480 941.3,467.2 950.8,454.6 960.6,442.4 970.7,430.4 981.1,418.7 991.9,407.3 1002.9,396.2 1014.2,385.5 1025.9,375.1 1037.8,365 1049.9,355.3 1062.4,345.9 1075,336.9 1087.9,328.2 1101,319.9 1114.4,312 1127.9,304.5 1141.6,297.3 1155.5,290.6 1169.5,284.2 1183.7,278.2 1198.1,272.6 1212.5,267.3 1227.1,262.5 1241.8,258 1256.6,254 1271.5,250.3 1286.5,247 1301.5,244.1 1316.6,241.6 1331.8,239.5 1347,237.8 1362.2,236.4 1377.5,235.5 1392.7,234.9 1408,234.7 1423.3,234.9 1438.5,235.5 1453.8,236.6 1469,238 1484.2,239.9 1499.3,242.2 1514.3,244.9 1529.3,248 1544.2,251.5 1559,255.4 1573.7,259.8 1588.2,264.5 1602.7,269.6 1617,275.1 1631.1,281 1645.2,287.2 1659,293.9 1672.7,300.9 1686.1,308.2 1699.4,316 1712.5,324 1725.4,332.5 1738.1,341.2 1750.5,350.3 1762.7,359.8 1774.7,369.5 1786.4,379.6 1797.9,390 1809,400.6 1820,411.6 1830.6,422.9 1841,434.4 1851,446.2 1860.8,458.3 1870.3,470.6 1879.4,483.2 1888.2,496.1 1896.8,509.1 1904.9,522.4 1912.8,535.9 1920.3,549.6 1927.4,563.5 1934.2,577.6 1940.6,591.8 1946.7,606.3 1952.4,620.9 1957.8,635.6 1962.7,650.5 1967.3,665.5 1971.5,680.7 1975.3,695.9 1978.7,711.3 1981.7,726.7 1984.3,742.2 1986.5,757.8 1988.4,773.4 1989.8,789.1 1990.8,804.8 1991.4,820.6 1991.6,836.3 1991.4,852 1990.8,867.8 1989.7,883.5 1988.3,899.2 1986.4,914.8 1984.1,930.4 1981.4,945.9 1978.4,961.3 1974.9,976.6 1971,991.8 1966.7,1006.9 1962.1,1021.9 1957,1036.7 1951.6,1051.4 1945.8,1065.9 1939.6,1080.3 1933.1,1094.5 1926.3,1108.5 1919,1122.3 1911.5,1135.9 1903.6,1149.4 1895.4,1162.6 1886.8,1175.5 1878,1188.3 1868.8,1200.8 1859.3,1213.1 1849.6,1225.1 1839.5,1236.8 1829.2,1248.3 1818.6,1259.5 1807.7,1270.5 1796.6,1281.1 1785.2,1291.5 1773.5,1301.6 1761.6,1311.3 1749.5,1320.8 1737.1,1329.9 1724.5,1338.7 1711.7,1347.2 1698.7,1355.3 1685.5,1363.1 1672.1,1370.6 1658.5,1377.7 1644.7,1384.4 1630.8,1390.7 1616.7,1396.7 1602.4,1402.3 1588,1407.5 1573.5,1412.3 1558.9,1416.7 1544.1,1420.7 1529.2,1424.3 1514.3,1427.4 1499.3,1430.2 1484.1,1432.6 1469,1434.5 1453.8,1436 1438.5,1437 1423.3,1437.7 1408,1437.9 1392.7,1437.7 1377.5,1437 1362.2,1436 1347,1434.5 1331.9,1432.5 1316.8,1430.2 1301.7,1427.4 1286.8,1424.2 1271.9,1420.6 1257.2,1416.6 1242.5,1412.1 1228,1407.3 1213.6,1402.1 1199.4,1396.5 1185.3,1390.5 1171.4,1384.1 1157.6,1377.4 1144.1,1370.3 1130.7,1362.8 1117.5,1355 1104.5,1346.9 1091.7,1338.4 1079.1,1329.6 1066.8,1320.4 1054.7,1311 1042.8,1301.2 1031.2,1291.1 1019.8,1280.8 1008.6,1270.1 997.8,1259.2 987.2,1248 976.8,1236.5 966.8,1224.8 957,1212.8 947.6,1200.5 938.4,1188 929.5,1175.3 921,1162.3 912.7,1149.2 904.8,1135.8 897.3,1122.2 890,1108.4 883.1,1094.4 876.6,1080.2 870.4,1065.8 864.6,1051.3 859.2,1036.6 854.1,1021.8 849.4,1006.9 845.1,991.8 841.2,976.6 837.7,961.3 834.6,945.8 831.9,930.4 829.6,914.8 827.7,899.2 826.3,883.5 825.2,867.8 824.6,852Z" fill="none" stroke="#0c68de" stroke-width="28"/>
<path d="M824.4,836.3 824.6,820.6 825.1,804.8 826.1,789.1 827.4,773.4 829.1,757.7 831.1,742.1 833.5,726.5 836.3,711 839.5,695.6 843.1,680.3 847,665 851.3,649.8 856,634.8 861.1,619.9 866.5,605.1 872.3,590.5 878.5,576 885.1,561.7 892.1,547.5 899.4,533.6 907,519.8 915.1,506.3 923.5,493 932.2,480 941.3,467.2 950.8,454.6 960.6,442.4 970.7,430.4 981.1,418.7 991.9,407.3 1002.9,396.2 1014.2,385.5 1025.9,375.1 1037.8,365 1049.9,355.3 1062.4,345.9 1075,336.9 1087.9,328.2 1101,319.9 1114.4,312 1127.9,304.5 1141.6,297.3 1155.5,290.6 1169.5,284.2 1183.7,278.2 1198.1,272.6 1212.5,267.3 1227.1,262.5 1241.8,258 1256.6,254 1271.5,250.3 1286.5,247 1301.5,244.1 1316.6,241.6 1331.8,239.5 1347,237.8 1362.2,236.4 1377.5,235.5 1392.7,234.9 1408,234.7 1423.3,234.9 1438.5,235.5 1453.8,236.6 1469,238 1484.2,239.9 1499.3,242.2 1514.3,244.9 1529.3,248 1544.2,251.5 1559,255.4 1573.7,259.8 1588.2,264.5 1602.7,269.6 1617,275.1 1631.1,281 1645.2,287.2 1659,293.9 1672.7,300.9 1686.1,308.2 1699.4,316 1712.5,324 1725.4,332.5 1738.1,341.2 1750.5,350.3 1762.7,359.8 1774.7,369.5 1786.4,379.6 1797.9,390 1809,400.6 1820,411.6 1830.6,422.9 1841,434.4 1851,446.2 1860.8,458.3 1870.3,470.6 1879.4,483.2 1888.2,496.1 1896.8,509.1 1904.9,522.4 1912.8,535.9 1920.3,549.6 1927.4,563.5 1934.2,577.6 1940.6,591.8 1946.7,606.3 1952.4,620.9 1957.8,635.6 1962.7,650.5 1967.3,665.5 1971.5,680.7 1975.3,695.9 1978.7,711.3 1981.7,726.7 1984.3,742.2 1986.5,757.8 1988.4,773.4 1989.8,789.1 1990.8,804.8 1991.4,820.6 1991.6,836.3 1991.4,852 1990.8,867.8 1989.7,883.5 1988.3,899.2 1986.4,914.8 1984.1,930.4 1981.4,945.9 1978.4,961.3 1974.9,976.6 1971,991.8 1966.7,1006.9 1962.1,1021.9 1957,1036.7 1951.6,1051.4 1945.8,1065.9 1939.6,1080.3 1933.1,1094.5 1926.3,1108.5 1919,1122.3 1911.5,1135.9 1903.6,1149.4 1895.4,1162.6 1886.8,1175.5 1878,1188.3 1868.8,1200.8 1859.3,1213.1 1849.6,1225.1 1839.5,1236.8 1829.2,1248.3 1818.6,1259.5 1807.7,1270.5 1796.6,1281.1 1785.2,1291.5 1773.5,1301.6 1761.6,1311.3 1749.5,1320.8 1737.1,1329.9 1724.5,1338.7 1711.7,1347.2 1698.7,1355.3 1685.5,1363.1 1672.1,1370.6 1658.5,1377.7 1644.7,1384.4 1630.8,1390.7 1616.7,1396.7 1602.4,1402.3 1588,1407.5 1573.5,1412.3 1558.9,1416.7 1544.1,1420.7 1529.2,1424.3 1514.3,1427.4 1499.3,1430.2 1484.1,1432.6 1469,1434.5 1453.8,1436 1438.5,1437 1423.3,1437.7 1408,1437.9 1392.7,1437.7 1377.5,1437 1362.2,1436 1347,1434.5 1331.9,1432.5 1316.8,1430.2 1301.7,1427.4 1286.8,1424.2 1271.9,1420.6 1257.2,1416.6 1242.5,1412.1 1228,1407.3 1213.6,1402.1 1199.4,1396.5 1185.3,1390.5 1171.4,1384.1 1157.6,1377.4 1144.1,1370.3 1130.7,1362.8 1117.5,1355 1104.5,1346.9 1091.7,1338.4 1079.1,1329.6 1066.8,1320.4 1054.7,1311 1042.8,1301.2 1031.2,1291.1 1019.8,1280.8 1008.6,1270.1 997.8,1259.2 987.2,1248 976.8,1236.5 966.8,1224.8 957,1212.8 947.6,1200.5 938.4,1188 929.5,1175.3 921,1162.3 912.7,1149.2 904.8,1135.8 897.3,1122.2 890,1108.4 883.1,1094.4 876.6,1080.2 870.4,1065.8 864.6,1051.3 859.2,1036.6 854.1,1021.8 849.4,1006.9 845.1,991.8 841.2,976.6 837.7,961.3 834.6,945.8 831.9,930.4 829.6,914.8 827.7,899.2 826.3,883.5 825.2,867.8 824.6,852Z" fill="none" stroke="#0b86ee" stroke-width="19"/>
<path d="M824.4,836.3 824.6,820.6 825.1,804.8 826.1,789.1 827.4,773.4 829.1,757.7 831.1,742.1 833.5,726.5 836.3,711 839.5,695.6 843.1,680.3 847,665 851.3,649.8 856,634.8 861.1,619.9 866.5,605.1 872.3,590.5 878.5,576 885.1,561.7 892.1,547.5 899.4,533.6 907,519.8 915.1,506.3 923.5,493 932.2,480 941.3,467.2 950.8,454.6 960.6,442.4 970.7,430.4 981.1,418.7 991.9,407.3 1002.9,396.2 1014.2,385.5 1025.9,375.1 1037.8,365 1049.9,355.3 1062.4,345.9 1075,336.9 1087.9,328.2 1101,319.9 1114.4,312 1127.9,304.5 1141.6,297.3 1155.5,290.6 1169.5,284.2 1183.7,278.2 1198.1,272.6 1212.5,267.3 1227.1,262.5 1241.8,258 1256.6,254 1271.5,250.3 1286.5,247 1301.5,244.1 1316.6,241.6 1331.8,239.5 1347,237.8 1362.2,236.4 1377.5,235.5 1392.7,234.9 1408,234.7 1423.3,234.9 1438.5,235.5 1453.8,236.6 1469,238 1484.2,239.9 1499.3,242.2 1514.3,244.9 1529.3,248 1544.2,251.5 1559,255.4 1573.7,259.8 1588.2,264.5 1602.7,269.6 1617,275.1 1631.1,281 1645.2,287.2 1659,293.9 1672.7,300.9 1686.1,308.2 1699.4,316 1712.5,324 1725.4,332.5 1738.1,341.2 1750.5,350.3 1762.7,359.8 1774.7,369.5 1786.4,379.6 1797.9,390 1809,400.6 1820,411.6 1830.6,422.9 1841,434.4 1851,446.2 1860.8,458.3 1870.3,470.6 1879.4,483.2 1888.2,496.1 1896.8,509.1 1904.9,522.4 1912.8,535.9 1920.3,549.6 1927.4,563.5 1934.2,577.6 1940.6,591.8 1946.7,606.3 1952.4,620.9 1957.8,635.6 1962.7,650.5 1967.3,665.5 1971.5,680.7 1975.3,695.9 1978.7,711.3 1981.7,726.7 1984.3,742.2 1986.5,757.8 1988.4,773.4 1989.8,789.1 1990.8,804.8 1991.4,820.6 1991.6,836.3 1991.4,852 1990.8,867.8 1989.7,883.5 1988.3,899.2 1986.4,914.8 1984.1,930.4 1981.4,945.9 1978.4,961.3 1974.9,976.6 1971,991.8 1966.7,1006.9 1962.1,1021.9 1957,1036.7 1951.6,1051.4 1945.8,1065.9 1939.6,1080.3 1933.1,1094.5 1926.3,1108.5 1919,1122.3 1911.5,1135.9 1903.6,1149.4 1895.4,1162.6 1886.8,1175.5 1878,1188.3 1868.8,1200.8 1859.3,1213.1 1849.6,1225.1 1839.5,1236.8 1829.2,1248.3 1818.6,1259.5 1807.7,1270.5 1796.6,1281.1 1785.2,1291.5 1773.5,1301.6 1761.6,1311.3 1749.5,1320.8 1737.1,1329.9 1724.5,1338.7 1711.7,1347.2 1698.7,1355.3 1685.5,1363.1 1672.1,1370.6 1658.5,1377.7 1644.7,1384.4 1630.8,1390.7 1616.7,1396.7 1602.4,1402.3 1588,1407.5 1573.5,1412.3 1558.9,1416.7 1544.1,1420.7 1529.2,1424.3 1514.3,1427.4 1499.3,1430.2 1484.1,1432.6 1469,1434.5 1453.8,1436 1438.5,1437 1423.3,1437.7 1408,1437.9 1392.7,1437.7 1377.5,1437 1362.2,1436 1347,1434.5 1331.9,1432.5 1316.8,1430.2 1301.7,1427.4 1286.8,1424.2 1271.9,1420.6 1257.2,1416.6 1242.5,1412.1 1228,1407.3 1213.6,1402.1 1199.4,1396.5 1185.3,1390.5 1171.4,1384.1 1157.6,1377.4 1144.1,1370.3 1130.7,1362.8 1117.5,1355 1104.5,1346.9 1091.7,1338.4 1079.1,1329.6 1066.8,1320.4 1054.7,1311 1042.8,1301.2 1031.2,1291.1 1019.8,1280.8 1008.6,1270.1 997.8,1259.2 987.2,1248 976.8,1236.5 966.8,1224.8 957,1212.8 947.6,1200.5 938.4,1188 929.5,1175.3 921,1162.3 912.7,1149.2 904.8,1135.8 897.3,1122.2 890,1108.4 883.1,1094.4 876.6,1080.2 870.4,1065.8 864.6,1051.3 859.2,1036.6 854.1,1021.8 849.4,1006.9 845.1,991.8 841.2,976.6 837.7,961.3 834.6,945.8 831.9,930.4 829.6,914.8 827.7,899.2 826.3,883.5 825.2,867.8 824.6,852Z" fill="none" stroke="#12b4f8" stroke-width="12"/>
<path d="M824.4,836.3 824.6,820.6 825.1,804.8 826.1,789.1 827.4,773.4 829.1,757.7 831.1,742.1 833.5,726.5 836.3,711 839.5,695.6 843.1,680.3 847,665 851.3,649.8 856,634.8 861.1,619.9 866.5,605.1 872.3,590.5 878.5,576 885.1,561.7 892.1,547.5 899.4,533.6 907,519.8 915.1,506.3 923.5,493 932.2,480 941.3,467.2 950.8,454.6 960.6,442.4 970.7,430.4 981.1,418.7 991.9,407.3 1002.9,396.2 1014.2,385.5 1025.9,375.1 1037.8,365 1049.9,355.3 1062.4,345.9 1075,336.9 1087.9,328.2 1101,319.9 1114.4,312 1127.9,304.5 1141.6,297.3 1155.5,290.6 1169.5,284.2 1183.7,278.2 1198.1,272.6 1212.5,267.3 1227.1,262.5 1241.8,258 1256.6,254 1271.5,250.3 1286.5,247 1301.5,244.1 1316.6,241.6 1331.8,239.5 1347,237.8 1362.2,236.4 1377.5,235.5 1392.7,234.9 1408,234.7 1423.3,234.9 1438.5,235.5 1453.8,236.6 1469,238 1484.2,239.9 1499.3,242.2 1514.3,244.9 1529.3,248 1544.2,251.5 1559,255.4 1573.7,259.8 1588.2,264.5 1602.7,269.6 1617,275.1 1631.1,281 1645.2,287.2 1659,293.9 1672.7,300.9 1686.1,308.2 1699.4,316 1712.5,324 1725.4,332.5 1738.1,341.2 1750.5,350.3 1762.7,359.8 1774.7,369.5 1786.4,379.6 1797.9,390 1809,400.6 1820,411.6 1830.6,422.9 1841,434.4 1851,446.2 1860.8,458.3 1870.3,470.6 1879.4,483.2 1888.2,496.1 1896.8,509.1 1904.9,522.4 1912.8,535.9 1920.3,549.6 1927.4,563.5 1934.2,577.6 1940.6,591.8 1946.7,606.3 1952.4,620.9 1957.8,635.6 1962.7,650.5 1967.3,665.5 1971.5,680.7 1975.3,695.9 1978.7,711.3 1981.7,726.7 1984.3,742.2 1986.5,757.8 1988.4,773.4 1989.8,789.1 1990.8,804.8 1991.4,820.6 1991.6,836.3 1991.4,852 1990.8,867.8 1989.7,883.5 1988.3,899.2 1986.4,914.8 1984.1,930.4 1981.4,945.9 1978.4,961.3 1974.9,976.6 1971,991.8 1966.7,1006.9 1962.1,1021.9 1957,1036.7 1951.6,1051.4 1945.8,1065.9 1939.6,1080.3 1933.1,1094.5 1926.3,1108.5 1919,1122.3 1911.5,1135.9 1903.6,1149.4 1895.4,1162.6 1886.8,1175.5 1878,1188.3 1868.8,1200.8 1859.3,1213.1 1849.6,1225.1 1839.5,1236.8 1829.2,1248.3 1818.6,1259.5 1807.7,1270.5 1796.6,1281.1 1785.2,1291.5 1773.5,1301.6 1761.6,1311.3 1749.5,1320.8 1737.1,1329.9 1724.5,1338.7 1711.7,1347.2 1698.7,1355.3 1685.5,1363.1 1672.1,1370.6 1658.5,1377.7 1644.7,1384.4 1630.8,1390.7 1616.7,1396.7 1602.4,1402.3 1588,1407.5 1573.5,1412.3 1558.9,1416.7 1544.1,1420.7 1529.2,1424.3 1514.3,1427.4 1499.3,1430.2 1484.1,1432.6 1469,1434.5 1453.8,1436 1438.5,1437 1423.3,1437.7 1408,1437.9 1392.7,1437.7 1377.5,1437 1362.2,1436 1347,1434.5 1331.9,1432.5 1316.8,1430.2 1301.7,1427.4 1286.8,1424.2 1271.9,1420.6 1257.2,1416.6 1242.5,1412.1 1228,1407.3 1213.6,1402.1 1199.4,1396.5 1185.3,1390.5 1171.4,1384.1 1157.6,1377.4 1144.1,1370.3 1130.7,1362.8 1117.5,1355 1104.5,1346.9 1091.7,1338.4 1079.1,1329.6 1066.8,1320.4 1054.7,1311 1042.8,1301.2 1031.2,1291.1 1019.8,1280.8 1008.6,1270.1 997.8,1259.2 987.2,1248 976.8,1236.5 966.8,1224.8 957,1212.8 947.6,1200.5 938.4,1188 929.5,1175.3 921,1162.3 912.7,1149.2 904.8,1135.8 897.3,1122.2 890,1108.4 883.1,1094.4 876.6,1080.2 870.4,1065.8 864.6,1051.3 859.2,1036.6 854.1,1021.8 849.4,1006.9 845.1,991.8 841.2,976.6 837.7,961.3 834.6,945.8 831.9,930.4 829.6,914.8 827.7,899.2 826.3,883.5 825.2,867.8 824.6,852Z" fill="none" stroke="#18d6ff" stroke-width="7.5"/></g>
<circle cx="1409" cy="820" r="285" fill="url(#gCentre)"/>
<path d="M1690.4,366.5 1686.5,364 1682.5,361.5 1678.5,359.1 1674.5,356.7 1670.5,354.4 1666.4,352 1662.3,349.8 1658.2,347.5 1654.1,345.3 1650,343.2 1645.8,341 1641.7,338.9 1637.5,336.9 1633.3,334.8 1629,332.9 1624.8,330.9 1620.5,329 1616.3,327.1 1612,325.3 1607.7,323.5 1603.3,321.8 1599,320 1594.7,318.4 1590.3,316.7 1585.9,315.1 1581.5,313.6 1577.1,312 1572.7,310.6 1568.3,309.1 1563.8,307.7 1559.4,306.3 1554.9,305 1550.4,303.7 1546,302.5 1541.5,301.3 1536.9,300.1 1532.4,299 1527.9,297.9 1523.4,296.9 1518.8,295.9 1514.3,294.9 1509.7,294 1505.1,293.1 1500.6,292.2 1496,291.4 1491.4,290.7 1486.8,290 1482.2,289.3 1477.6,288.6 1473,288 1468.3,287.5 1463.7,287 1459.1,286.5 1454.5,286.1 1449.8,285.7 1445.2,285.3 1440.5,285 1435.9,284.7 1431.2,284.5 1426.6,284.3 1422,284.2 1417.3,284.1 1412.7,284 1408,284 1403.3,284 1398.7,284.1 1394,284.2 1389.4,284.3 1384.8,284.5 1380.1,284.7 1375.5,285 1370.8,285.3 1366.2,285.7 1361.5,286.1 1356.9,286.5 1352.3,287 1347.7,287.5 1343,288 1338.4,288.6 1333.8,289.3 1329.2,290 1324.6,290.7 1320,291.4 1315.4,292.2 1310.9,293.1 1306.3,294 1301.7,294.9 1297.2,295.9 1292.6,296.9 1288.1,297.9 1283.6,299 1279.1,300.1 1274.5,301.3 1270,302.5 1265.6,303.7 1261.1,305 1256.6,306.3 1252.2,307.7 1247.7,309.1 1243.3,310.6 1238.9,312 1234.5,313.6 1230.1,315.1 1225.7,316.7 1221.3,318.4 1217,320 1212.7,321.8 1208.3,323.5 1204,325.3 1199.7,327.1 1195.5,329 1191.2,330.9 1187,332.9 1182.7,334.8 1178.5,336.9 1174.3,338.9 1170.2,341 1166,343.2 1161.9,345.3 1157.8,347.5 1153.7,349.8 1149.6,352 1145.5,354.4 1141.5,356.7 1137.5,359.1 1133.5,361.5 1129.5,364 1125.6,366.5 1121.6,369 1117.7,371.6 1113.8,374.2 1110,376.8 1106.1,379.4 1102.3,382.1 1098.5,384.9 1094.7,387.6 1091,390.4 1087.2,393.3 1083.5,396.1 1079.9,399 1076.2,402 1072.6,404.9 1069,407.9 1065.4,411 1061.8,414 1058.3,417.1 1054.8,420.2 1051.4,423.4 1047.9,426.6 1044.5,429.8 1041.1,433 1037.7,436.3 1034.4,439.6 1031.1,443 1027.8,446.3 1024.6,449.7 1021.4,453.1 1018.2,456.6 1015,460.1 1011.9,463.6 1008.8,467.1 1005.7,470.7 1002.7,474.2 999.7,477.9 996.7,481.5 993.8,485.2 990.9,488.9 988,492.6 985.1,496.3 982.3,500.1 979.5,503.9 976.8,507.7 974.1,511.6 971.4,515.4 968.7,519.3 966.1,523.2 963.5,527.2 961,531.1 958.5,535.1 956,539.1 953.5,543.1 951.1,547.2 948.8,551.3 946.4,555.3 944.1,559.5 941.8,563.6 939.6,567.7 937.4,571.9 935.2,576.1 933.1,580.3 931,584.5 928.9,588.8 926.9,593.1 924.9,597.3 923,601.6 921.1,606 919.2,610.3 917.4,614.7 915.6,619 913.8,623.4 912.1,627.8 910.4,632.2 908.8,636.6 907.1,641.1 905.6,645.5 904,650 902.5,654.5 901.1,659 899.7,663.5 898.3,668 896.9,672.6 895.6,677.1 894.4,681.7 893.2,686.2 892,690.8 890.8,695.4 889.7,700 888.7,704.6 887.6,709.2 886.6,713.9 885.7,718.5 884.8,723.1 883.9,727.8 883.1,732.5 882.3,737.1 881.6,741.8 880.9,746.5 880.2,751.2 879.6,755.9 879,760.6 878.4,765.3 877.9,770 877.5,774.7 877,779.4 876.6,784.1 876.3,788.8 876,793.6 875.7,798.3 875.5,803 875.3,807.8 875.3,808 1146.3,808 1146.4,805.5 1146.6,800.9 1147,796.3 1147.4,791.7 1148,787.2 1148.6,782.6 1149.2,778 1150,773.5 1150.8,769 1151.7,764.5 1152.7,760 1153.8,755.5 1155,751 1156.2,746.6 1157.5,742.2 1158.9,737.8 1160.3,733.4 1161.9,729.1 1163.5,724.8 1165.2,720.5 1166.9,716.3 1168.7,712 1170.6,707.9 1172.6,703.7 1174.7,699.6 1176.8,695.5 1179,691.5 1181.2,687.4 1183.6,683.5 1186,679.6 1188.4,675.7 1191,671.8 1193.6,668 1196.2,664.3 1199,660.6 1201.8,657 1204.6,653.3 1207.5,649.8 1210.5,646.3 1213.6,642.9 1216.7,639.5 1219.8,636.1 1223,632.8 1226.3,629.6 1229.6,626.4 1233,623.3 1236.5,620.3 1239.9,617.3 1243.5,614.4 1247.1,611.5 1250.7,608.7 1254.4,606 1258.1,603.3 1261.9,600.7 1265.8,598.1 1269.6,595.7 1273.5,593.3 1277.5,590.9 1281.5,588.7 1285.5,586.5 1289.6,584.3 1293.7,582.3 1297.9,580.3 1302,578.4 1306.2,576.6 1310.5,574.8 1314.7,573.1 1319,571.5 1323.4,570 1327.7,568.5 1332.1,567.1 1336.5,565.8 1340.9,564.6 1345.4,563.4 1349.8,562.4 1354.3,561.4 1358.8,560.4 1363.3,559.6 1367.9,558.8 1372.4,558.2 1376.9,557.6 1381.5,557 1386.1,556.6 1390.7,556.2 1395.2,556 1399.8,555.8 1404.4,555.6 1409,555.6 1413.6,555.6 1418.2,555.8 1422.8,556 1427.3,556.2 1431.9,556.6 1436.5,557 1441.1,557.6 1445.6,558.2 1450.1,558.8 1454.7,559.6 1459.2,560.4 1463.7,561.4 1468.2,562.4 1472.6,563.4 1477.1,564.6 1481.5,565.8 1485.9,567.1 1490.3,568.5 1494.6,570 1499,571.5 1503.3,573.1 1507.5,574.8 1511.8,576.6 1516,578.4 1520.1,580.3 1524.3,582.3 1528.4,584.3 1532.5,586.5 1536.5,588.7 1540.5,590.9 1544.5,593.3 1548.4,595.7 1550.5,597.1 1693.9,368.7Z" fill="#70707c" opacity="0.55" transform="translate(3,17)" filter="url(#segsh)"/>
<path d="M1940.9,817.2 1940.8,812.5 1940.7,807.8 1940.5,803 1940.3,798.3 1940,793.6 1939.7,788.8 1939.4,784.1 1939,779.4 1938.5,774.7 1938.1,770 1937.6,765.3 1937,760.6 1936.4,755.9 1935.8,751.2 1935.1,746.5 1934.4,741.8 1933.7,737.1 1932.9,732.5 1932.1,727.8 1931.2,723.1 1930.3,718.5 1929.4,713.9 1928.4,709.2 1927.3,704.6 1926.3,700 1925.2,695.4 1924,690.8 1922.8,686.2 1921.6,681.7 1920.4,677.1 1919.1,672.6 1917.7,668 1916.3,663.5 1914.9,659 1913.5,654.5 1912,650 1910.4,645.5 1908.9,641.1 1907.2,636.6 1905.6,632.2 1903.9,627.8 1902.2,623.4 1900.4,619 1898.6,614.7 1896.8,610.3 1894.9,606 1893,601.6 1891.1,597.3 1889.1,593.1 1887.1,588.8 1885,584.5 1882.9,580.3 1880.8,576.1 1878.6,571.9 1876.4,567.7 1874.2,563.6 1871.9,559.5 1869.6,555.3 1867.2,551.3 1864.9,547.2 1862.5,543.1 1860,539.1 1857.5,535.1 1855,531.1 1852.5,527.2 1849.9,523.2 1847.3,519.3 1844.6,515.4 1841.9,511.6 1839.2,507.7 1836.5,503.9 1833.7,500.1 1830.9,496.3 1828,492.6 1825.1,488.9 1822.2,485.2 1819.3,481.5 1816.3,477.9 1813.3,474.2 1810.3,470.7 1807.2,467.1 1804.1,463.6 1801,460.1 1797.8,456.6 1794.6,453.1 1791.4,449.7 1788.2,446.3 1784.9,443 1781.6,439.6 1778.3,436.3 1774.9,433 1771.5,429.8 1768.1,426.6 1764.6,423.4 1761.2,420.2 1757.7,417.1 1754.2,414 1750.6,411 1747,407.9 1743.4,404.9 1739.8,402 1736.1,399 1732.5,396.1 1728.8,393.3 1725,390.4 1721.3,387.6 1717.5,384.9 1713.7,382.1 1711.2,380.3 1567.8,609.1 1570.9,611.5 1574.5,614.4 1578.1,617.3 1581.5,620.3 1585,623.3 1588.4,626.4 1591.7,629.6 1595,632.8 1598.2,636.1 1601.3,639.5 1604.4,642.9 1607.5,646.3 1610.5,649.8 1613.4,653.3 1616.2,657 1619,660.6 1621.8,664.3 1624.4,668 1627,671.8 1629.6,675.7 1632,679.6 1634.4,683.5 1636.8,687.4 1639,691.5 1641.2,695.5 1643.3,699.6 1645.4,703.7 1647.4,707.9 1649.3,712 1651.1,716.3 1652.8,720.5 1654.5,724.8 1656.1,729.1 1657.7,733.4 1659.1,737.8 1660.5,742.2 1661.8,746.6 1663,751 1664.2,755.5 1665.3,760 1666.3,764.5 1667.2,769 1668,773.5 1668.8,778 1669.4,782.6 1670,787.2 1670.6,791.7 1671,796.3 1671.4,800.9 1671.6,805.5 1671.8,810.1 1672,814.7 1672,819.3 1672,823.9 1671.8,828.5 1671.6,833.1 1671.4,837.7 1671,842.3 1670.6,846.9 1670,851.4 1669.4,856 1668.8,860.6 1668,865.1 1667.2,869.6 1666.3,874.1 1665.3,878.6 1664.2,883.1 1663,887.6 1661.8,892 1660.5,896.4 1659.1,900.8 1657.7,905.2 1656.1,909.5 1654.5,913.8 1652.8,918.1 1651.1,922.3 1649.3,926.6 1647.4,930.7 1645.4,934.9 1643.3,939 1641.2,943.1 1639,947.1 1636.8,951.1 1634.4,955.1 1632,959 1629.6,962.9 1627,966.8 1624.4,970.6 1621.8,974.3 1619,978 1616.2,981.6 1613.4,985.3 1610.5,988.8 1607.5,992.3 1604.4,995.7 1601.3,999.1 1598.2,1002.5 1595,1005.8 1591.7,1009 1588.4,1012.2 1585,1015.3 1581.5,1018.3 1578.1,1021.3 1574.5,1024.2 1570.9,1027.1 1567.3,1029.9 1563.6,1032.6 1559.9,1035.3 1556.1,1037.9 1552.2,1040.5 1548.4,1042.9 1546.5,1044.1 1668.5,1300.2 1670.5,1299 1674.5,1296.7 1678.5,1294.3 1682.5,1291.9 1686.5,1289.4 1690.4,1286.9 1694.4,1284.4 1698.3,1281.8 1702.2,1279.2 1706,1276.6 1709.9,1274 1713.7,1271.3 1717.5,1268.5 1721.3,1265.8 1725,1263 1728.8,1260.1 1732.5,1257.3 1736.1,1254.4 1739.8,1251.4 1743.4,1248.5 1747,1245.5 1750.6,1242.4 1754.2,1239.4 1757.7,1236.3 1761.2,1233.2 1764.6,1230 1768.1,1226.8 1771.5,1223.6 1774.9,1220.4 1778.3,1217.1 1781.6,1213.8 1784.9,1210.4 1788.2,1207.1 1791.4,1203.7 1794.6,1200.3 1797.8,1196.8 1801,1193.3 1804.1,1189.8 1807.2,1186.3 1810.3,1182.7 1813.3,1179.2 1816.3,1175.5 1819.3,1171.9 1822.2,1168.2 1825.1,1164.5 1828,1160.8 1830.9,1157.1 1833.7,1153.3 1836.5,1149.5 1839.2,1145.7 1841.9,1141.8 1844.6,1138 1847.3,1134.1 1849.9,1130.2 1852.5,1126.2 1855,1122.3 1857.5,1118.3 1860,1114.3 1862.5,1110.3 1864.9,1106.2 1867.2,1102.1 1869.6,1098 1871.9,1093.9 1874.2,1089.8 1876.4,1085.7 1878.6,1081.5 1880.8,1077.3 1882.9,1073.1 1885,1068.9 1887.1,1064.6 1889.1,1060.3 1891.1,1056.1 1893,1051.8 1894.9,1047.4 1896.8,1043.1 1898.6,1038.7 1900.4,1034.4 1902.2,1030 1903.9,1025.6 1905.6,1021.2 1907.2,1016.8 1908.9,1012.3 1910.4,1007.9 1912,1003.4 1913.5,998.9 1914.9,994.4 1916.3,989.9 1917.7,985.4 1919.1,980.8 1920.4,976.3 1921.6,971.7 1922.8,967.2 1924,962.6 1925.2,958 1926.3,953.4 1927.3,948.8 1928.4,944.2 1929.4,939.5 1930.3,934.9 1931.2,930.3 1932.1,925.6 1932.9,920.9 1933.7,916.3 1934.4,911.6 1935.1,906.9 1935.8,902.2 1936.4,897.5 1937,892.8 1937.6,888.1 1938.1,883.4 1938.5,878.7 1939,874 1939.4,869.3 1939.7,864.6 1940,859.8 1940.3,855.1 1940.5,850.4 1940.7,845.6 1940.8,840.9 1940.9,836.2 1941,831.4 1941,826.7 1941,822Z" fill="#70707c" opacity="0.55" transform="translate(3,17)" filter="url(#segsh)"/>
<path d="M875,831.4 875.1,836.2 875.2,840.9 875.3,845.6 875.5,850.4 875.7,855.1 876,859.8 876.3,864.6 876.6,869.3 877,874 877.5,878.7 877.9,883.4 878.4,888.1 879,892.8 879.6,897.5 880.2,902.2 880.9,906.9 881.6,911.6 882.3,916.3 883.1,920.9 883.9,925.6 884.8,930.3 885.7,934.9 886.6,939.5 887.6,944.2 888.7,948.8 889.7,953.4 890.8,958 892,962.6 893.2,967.2 894.4,971.7 895.6,976.3 896.9,980.8 898.3,985.4 899.7,989.9 901.1,994.4 902.5,998.9 904,1003.4 905.6,1007.9 907.1,1012.3 908.8,1016.8 910.4,1021.2 912.1,1025.6 913.8,1030 915.6,1034.4 917.4,1038.7 919.2,1043.1 921.1,1047.4 923,1051.8 924.9,1056.1 926.9,1060.3 928.9,1064.6 931,1068.9 933.1,1073.1 935.2,1077.3 937.4,1081.5 939.6,1085.7 941.8,1089.8 944.1,1093.9 946.4,1098 948.8,1102.1 951.1,1106.2 953.5,1110.3 956,1114.3 958.5,1118.3 961,1122.3 963.5,1126.2 966.1,1130.2 968.7,1134.1 971.4,1138 974.1,1141.8 976.8,1145.7 979.5,1149.5 982.3,1153.3 985.1,1157.1 988,1160.8 990.9,1164.5 993.8,1168.2 996.7,1171.9 999.7,1175.5 1002.7,1179.2 1005.7,1182.7 1008.8,1186.3 1011.9,1189.8 1015,1193.3 1018.2,1196.8 1021.4,1200.3 1024.6,1203.7 1027.8,1207.1 1031.1,1210.4 1034.4,1213.8 1037.7,1217.1 1041.1,1220.4 1044.5,1223.6 1047.9,1226.8 1051.4,1230 1054.8,1233.2 1058.3,1236.3 1061.8,1239.4 1065.4,1242.4 1069,1245.5 1072.6,1248.5 1076.2,1251.4 1079.9,1254.4 1083.5,1257.3 1087.2,1260.1 1091,1263 1094.7,1265.8 1098.5,1268.5 1102.3,1271.3 1106.1,1274 1110,1276.6 1113.8,1279.2 1117.7,1281.8 1121.6,1284.4 1125.6,1286.9 1129.5,1289.4 1133.5,1291.9 1137.5,1294.3 1141.5,1296.7 1145.5,1299 1149.6,1301.4 1153.7,1303.6 1157.8,1305.9 1161.9,1308.1 1166,1310.2 1170.2,1312.4 1174.3,1314.5 1178.5,1316.5 1182.7,1318.6 1187,1320.5 1191.2,1322.5 1195.5,1324.4 1199.7,1326.3 1204,1328.1 1208.3,1329.9 1212.7,1331.6 1217,1333.4 1221.3,1335 1225.7,1336.7 1230.1,1338.3 1234.5,1339.8 1238.9,1341.4 1243.3,1342.8 1247.7,1344.3 1252.2,1345.7 1256.6,1347.1 1261.1,1348.4 1265.6,1349.7 1270,1350.9 1274.5,1352.1 1279.1,1353.3 1283.6,1354.4 1288.1,1355.5 1292.6,1356.5 1297.2,1357.5 1301.7,1358.5 1306.3,1359.4 1310.9,1360.3 1315.4,1361.2 1320,1362 1324.6,1362.7 1329.2,1363.4 1333.8,1364.1 1338.4,1364.8 1343,1365.4 1347.7,1365.9 1352.3,1366.4 1356.9,1366.9 1361.5,1367.3 1366.2,1367.7 1370.8,1368.1 1375.5,1368.4 1380.1,1368.7 1384.8,1368.9 1389.4,1369.1 1394,1369.2 1398.7,1369.3 1403.3,1369.4 1408,1369.4 1412.7,1369.4 1417.3,1369.3 1422,1369.2 1426.6,1369.1 1431.2,1368.9 1435.9,1368.7 1440.5,1368.4 1445.2,1368.1 1449.8,1367.7 1454.5,1367.3 1459.1,1366.9 1463.7,1366.4 1468.3,1365.9 1473,1365.4 1477.6,1364.8 1482.2,1364.1 1486.8,1363.4 1491.4,1362.7 1496,1362 1500.6,1361.2 1505.1,1360.3 1509.7,1359.4 1514.3,1358.5 1518.8,1357.5 1523.4,1356.5 1527.9,1355.5 1532.4,1354.4 1536.9,1353.3 1541.5,1352.1 1546,1350.9 1550.4,1349.7 1554.9,1348.4 1559.4,1347.1 1563.8,1345.7 1568.3,1344.3 1572.7,1342.8 1577.1,1341.4 1581.5,1339.8 1585.9,1338.3 1590.3,1336.7 1594.7,1335 1599,1333.4 1603.3,1331.6 1607.7,1329.9 1612,1328.1 1616.3,1326.3 1620.5,1324.4 1624.8,1322.5 1629,1320.5 1633.3,1318.6 1637.5,1316.5 1641.7,1314.5 1645.8,1312.4 1650,1310.2 1651,1309.7 1528.7,1054.1 1528.4,1054.3 1524.3,1056.3 1520.1,1058.3 1516,1060.2 1511.8,1062 1507.5,1063.8 1503.3,1065.5 1499,1067.1 1494.6,1068.6 1490.3,1070.1 1485.9,1071.5 1481.5,1072.8 1477.1,1074 1472.6,1075.2 1468.2,1076.2 1463.7,1077.2 1459.2,1078.2 1454.7,1079 1450.1,1079.8 1445.6,1080.4 1441.1,1081 1436.5,1081.6 1431.9,1082 1427.3,1082.4 1422.8,1082.6 1418.2,1082.8 1413.6,1083 1409,1083 1404.4,1083 1399.8,1082.8 1395.2,1082.6 1390.7,1082.4 1386.1,1082 1381.5,1081.6 1376.9,1081 1372.4,1080.4 1367.9,1079.8 1363.3,1079 1358.8,1078.2 1354.3,1077.2 1349.8,1076.2 1345.4,1075.2 1340.9,1074 1336.5,1072.8 1332.1,1071.5 1327.7,1070.1 1323.4,1068.6 1319,1067.1 1314.7,1065.5 1310.5,1063.8 1306.2,1062 1302,1060.2 1297.9,1058.3 1293.7,1056.3 1289.6,1054.3 1285.5,1052.1 1281.5,1049.9 1277.5,1047.7 1273.5,1045.3 1269.6,1042.9 1265.8,1040.5 1261.9,1037.9 1258.1,1035.3 1254.4,1032.6 1250.7,1029.9 1247.1,1027.1 1243.5,1024.2 1239.9,1021.3 1236.5,1018.3 1233,1015.3 1229.6,1012.2 1226.3,1009 1223,1005.8 1219.8,1002.5 1216.7,999.1 1213.6,995.7 1210.5,992.3 1207.5,988.8 1204.6,985.3 1201.8,981.6 1199,978 1196.2,974.3 1193.6,970.6 1191,966.8 1188.4,962.9 1186,959 1183.6,955.1 1181.2,951.1 1179,947.1 1176.8,943.1 1174.7,939 1172.6,934.9 1170.6,930.7 1168.7,926.6 1166.9,922.3 1165.2,918.1 1163.5,913.8 1161.9,909.5 1160.3,905.2 1158.9,900.8 1157.5,896.4 1156.2,892 1155,887.6 1153.8,883.1 1152.7,878.6 1151.7,874.1 1150.8,869.6 1150,865.1 1149.2,860.6 1148.6,856 1148,851.4 1147.4,846.9 1147,842.3 1146.6,837.7 1146.4,833.1 1146.2,828.5 1146.1,827.5 875,827.5Z" fill="#70707c" opacity="0.55" transform="translate(3,17)" filter="url(#segsh)"/>
<path d="M1690.4,366.5 1686.5,364 1682.5,361.5 1678.5,359.1 1674.5,356.7 1670.5,354.4 1666.4,352 1662.3,349.8 1658.2,347.5 1654.1,345.3 1650,343.2 1645.8,341 1641.7,338.9 1637.5,336.9 1633.3,334.8 1629,332.9 1624.8,330.9 1620.5,329 1616.3,327.1 1612,325.3 1607.7,323.5 1603.3,321.8 1599,320 1594.7,318.4 1590.3,316.7 1585.9,315.1 1581.5,313.6 1577.1,312 1572.7,310.6 1568.3,309.1 1563.8,307.7 1559.4,306.3 1554.9,305 1550.4,303.7 1546,302.5 1541.5,301.3 1536.9,300.1 1532.4,299 1527.9,297.9 1523.4,296.9 1518.8,295.9 1514.3,294.9 1509.7,294 1505.1,293.1 1500.6,292.2 1496,291.4 1491.4,290.7 1486.8,290 1482.2,289.3 1477.6,288.6 1473,288 1468.3,287.5 1463.7,287 1459.1,286.5 1454.5,286.1 1449.8,285.7 1445.2,285.3 1440.5,285 1435.9,284.7 1431.2,284.5 1426.6,284.3 1422,284.2 1417.3,284.1 1412.7,284 1408,284 1403.3,284 1398.7,284.1 1394,284.2 1389.4,284.3 1384.8,284.5 1380.1,284.7 1375.5,285 1370.8,285.3 1366.2,285.7 1361.5,286.1 1356.9,286.5 1352.3,287 1347.7,287.5 1343,288 1338.4,288.6 1333.8,289.3 1329.2,290 1324.6,290.7 1320,291.4 1315.4,292.2 1310.9,293.1 1306.3,294 1301.7,294.9 1297.2,295.9 1292.6,296.9 1288.1,297.9 1283.6,299 1279.1,300.1 1274.5,301.3 1270,302.5 1265.6,303.7 1261.1,305 1256.6,306.3 1252.2,307.7 1247.7,309.1 1243.3,310.6 1238.9,312 1234.5,313.6 1230.1,315.1 1225.7,316.7 1221.3,318.4 1217,320 1212.7,321.8 1208.3,323.5 1204,325.3 1199.7,327.1 1195.5,329 1191.2,330.9 1187,332.9 1182.7,334.8 1178.5,336.9 1174.3,338.9 1170.2,341 1166,343.2 1161.9,345.3 1157.8,347.5 1153.7,349.8 1149.6,352 1145.5,354.4 1141.5,356.7 1137.5,359.1 1133.5,361.5 1129.5,364 1125.6,366.5 1121.6,369 1117.7,371.6 1113.8,374.2 1110,376.8 1106.1,379.4 1102.3,382.1 1098.5,384.9 1094.7,387.6 1091,390.4 1087.2,393.3 1083.5,396.1 1079.9,399 1076.2,402 1072.6,404.9 1069,407.9 1065.4,411 1061.8,414 1058.3,417.1 1054.8,420.2 1051.4,423.4 1047.9,426.6 1044.5,429.8 1041.1,433 1037.7,436.3 1034.4,439.6 1031.1,443 1027.8,446.3 1024.6,449.7 1021.4,453.1 1018.2,456.6 1015,460.1 1011.9,463.6 1008.8,467.1 1005.7,470.7 1002.7,474.2 999.7,477.9 996.7,481.5 993.8,485.2 990.9,488.9 988,492.6 985.1,496.3 982.3,500.1 979.5,503.9 976.8,507.7 974.1,511.6 971.4,515.4 968.7,519.3 966.1,523.2 963.5,527.2 961,531.1 958.5,535.1 956,539.1 953.5,543.1 951.1,547.2 948.8,551.3 946.4,555.3 944.1,559.5 941.8,563.6 939.6,567.7 937.4,571.9 935.2,576.1 933.1,580.3 931,584.5 928.9,588.8 926.9,593.1 924.9,597.3 923,601.6 921.1,606 919.2,610.3 917.4,614.7 915.6,619 913.8,623.4 912.1,627.8 910.4,632.2 908.8,636.6 907.1,641.1 905.6,645.5 904,650 902.5,654.5 901.1,659 899.7,663.5 898.3,668 896.9,672.6 895.6,677.1 894.4,681.7 893.2,686.2 892,690.8 890.8,695.4 889.7,700 888.7,704.6 887.6,709.2 886.6,713.9 885.7,718.5 884.8,723.1 883.9,727.8 883.1,732.5 882.3,737.1 881.6,741.8 880.9,746.5 880.2,751.2 879.6,755.9 879,760.6 878.4,765.3 877.9,770 877.5,774.7 877,779.4 876.6,784.1 876.3,788.8 876,793.6 875.7,798.3 875.5,803 875.3,807.8 875.3,808 1146.3,808 1146.4,805.5 1146.6,800.9 1147,796.3 1147.4,791.7 1148,787.2 1148.6,782.6 1149.2,778 1150,773.5 1150.8,769 1151.7,764.5 1152.7,760 1153.8,755.5 1155,751 1156.2,746.6 1157.5,742.2 1158.9,737.8 1160.3,733.4 1161.9,729.1 1163.5,724.8 1165.2,720.5 1166.9,716.3 1168.7,712 1170.6,707.9 1172.6,703.7 1174.7,699.6 1176.8,695.5 1179,691.5 1181.2,687.4 1183.6,683.5 1186,679.6 1188.4,675.7 1191,671.8 1193.6,668 1196.2,664.3 1199,660.6 1201.8,657 1204.6,653.3 1207.5,649.8 1210.5,646.3 1213.6,642.9 1216.7,639.5 1219.8,636.1 1223,632.8 1226.3,629.6 1229.6,626.4 1233,623.3 1236.5,620.3 1239.9,617.3 1243.5,614.4 1247.1,611.5 1250.7,608.7 1254.4,606 1258.1,603.3 1261.9,600.7 1265.8,598.1 1269.6,595.7 1273.5,593.3 1277.5,590.9 1281.5,588.7 1285.5,586.5 1289.6,584.3 1293.7,582.3 1297.9,580.3 1302,578.4 1306.2,576.6 1310.5,574.8 1314.7,573.1 1319,571.5 1323.4,570 1327.7,568.5 1332.1,567.1 1336.5,565.8 1340.9,564.6 1345.4,563.4 1349.8,562.4 1354.3,561.4 1358.8,560.4 1363.3,559.6 1367.9,558.8 1372.4,558.2 1376.9,557.6 1381.5,557 1386.1,556.6 1390.7,556.2 1395.2,556 1399.8,555.8 1404.4,555.6 1409,555.6 1413.6,555.6 1418.2,555.8 1422.8,556 1427.3,556.2 1431.9,556.6 1436.5,557 1441.1,557.6 1445.6,558.2 1450.1,558.8 1454.7,559.6 1459.2,560.4 1463.7,561.4 1468.2,562.4 1472.6,563.4 1477.1,564.6 1481.5,565.8 1485.9,567.1 1490.3,568.5 1494.6,570 1499,571.5 1503.3,573.1 1507.5,574.8 1511.8,576.6 1516,578.4 1520.1,580.3 1524.3,582.3 1528.4,584.3 1532.5,586.5 1536.5,588.7 1540.5,590.9 1544.5,593.3 1548.4,595.7 1550.5,597.1 1693.9,368.7Z" fill="none" stroke="#ffffff" stroke-width="5" opacity="0.9" transform="translate(0,-2.5)" filter="url(#soft1)"/>
<path d="M1940.9,817.2 1940.8,812.5 1940.7,807.8 1940.5,803 1940.3,798.3 1940,793.6 1939.7,788.8 1939.4,784.1 1939,779.4 1938.5,774.7 1938.1,770 1937.6,765.3 1937,760.6 1936.4,755.9 1935.8,751.2 1935.1,746.5 1934.4,741.8 1933.7,737.1 1932.9,732.5 1932.1,727.8 1931.2,723.1 1930.3,718.5 1929.4,713.9 1928.4,709.2 1927.3,704.6 1926.3,700 1925.2,695.4 1924,690.8 1922.8,686.2 1921.6,681.7 1920.4,677.1 1919.1,672.6 1917.7,668 1916.3,663.5 1914.9,659 1913.5,654.5 1912,650 1910.4,645.5 1908.9,641.1 1907.2,636.6 1905.6,632.2 1903.9,627.8 1902.2,623.4 1900.4,619 1898.6,614.7 1896.8,610.3 1894.9,606 1893,601.6 1891.1,597.3 1889.1,593.1 1887.1,588.8 1885,584.5 1882.9,580.3 1880.8,576.1 1878.6,571.9 1876.4,567.7 1874.2,563.6 1871.9,559.5 1869.6,555.3 1867.2,551.3 1864.9,547.2 1862.5,543.1 1860,539.1 1857.5,535.1 1855,531.1 1852.5,527.2 1849.9,523.2 1847.3,519.3 1844.6,515.4 1841.9,511.6 1839.2,507.7 1836.5,503.9 1833.7,500.1 1830.9,496.3 1828,492.6 1825.1,488.9 1822.2,485.2 1819.3,481.5 1816.3,477.9 1813.3,474.2 1810.3,470.7 1807.2,467.1 1804.1,463.6 1801,460.1 1797.8,456.6 1794.6,453.1 1791.4,449.7 1788.2,446.3 1784.9,443 1781.6,439.6 1778.3,436.3 1774.9,433 1771.5,429.8 1768.1,426.6 1764.6,423.4 1761.2,420.2 1757.7,417.1 1754.2,414 1750.6,411 1747,407.9 1743.4,404.9 1739.8,402 1736.1,399 1732.5,396.1 1728.8,393.3 1725,390.4 1721.3,387.6 1717.5,384.9 1713.7,382.1 1711.2,380.3 1567.8,609.1 1570.9,611.5 1574.5,614.4 1578.1,617.3 1581.5,620.3 1585,623.3 1588.4,626.4 1591.7,629.6 1595,632.8 1598.2,636.1 1601.3,639.5 1604.4,642.9 1607.5,646.3 1610.5,649.8 1613.4,653.3 1616.2,657 1619,660.6 1621.8,664.3 1624.4,668 1627,671.8 1629.6,675.7 1632,679.6 1634.4,683.5 1636.8,687.4 1639,691.5 1641.2,695.5 1643.3,699.6 1645.4,703.7 1647.4,707.9 1649.3,712 1651.1,716.3 1652.8,720.5 1654.5,724.8 1656.1,729.1 1657.7,733.4 1659.1,737.8 1660.5,742.2 1661.8,746.6 1663,751 1664.2,755.5 1665.3,760 1666.3,764.5 1667.2,769 1668,773.5 1668.8,778 1669.4,782.6 1670,787.2 1670.6,791.7 1671,796.3 1671.4,800.9 1671.6,805.5 1671.8,810.1 1672,814.7 1672,819.3 1672,823.9 1671.8,828.5 1671.6,833.1 1671.4,837.7 1671,842.3 1670.6,846.9 1670,851.4 1669.4,856 1668.8,860.6 1668,865.1 1667.2,869.6 1666.3,874.1 1665.3,878.6 1664.2,883.1 1663,887.6 1661.8,892 1660.5,896.4 1659.1,900.8 1657.7,905.2 1656.1,909.5 1654.5,913.8 1652.8,918.1 1651.1,922.3 1649.3,926.6 1647.4,930.7 1645.4,934.9 1643.3,939 1641.2,943.1 1639,947.1 1636.8,951.1 1634.4,955.1 1632,959 1629.6,962.9 1627,966.8 1624.4,970.6 1621.8,974.3 1619,978 1616.2,981.6 1613.4,985.3 1610.5,988.8 1607.5,992.3 1604.4,995.7 1601.3,999.1 1598.2,1002.5 1595,1005.8 1591.7,1009 1588.4,1012.2 1585,1015.3 1581.5,1018.3 1578.1,1021.3 1574.5,1024.2 1570.9,1027.1 1567.3,1029.9 1563.6,1032.6 1559.9,1035.3 1556.1,1037.9 1552.2,1040.5 1548.4,1042.9 1546.5,1044.1 1668.5,1300.2 1670.5,1299 1674.5,1296.7 1678.5,1294.3 1682.5,1291.9 1686.5,1289.4 1690.4,1286.9 1694.4,1284.4 1698.3,1281.8 1702.2,1279.2 1706,1276.6 1709.9,1274 1713.7,1271.3 1717.5,1268.5 1721.3,1265.8 1725,1263 1728.8,1260.1 1732.5,1257.3 1736.1,1254.4 1739.8,1251.4 1743.4,1248.5 1747,1245.5 1750.6,1242.4 1754.2,1239.4 1757.7,1236.3 1761.2,1233.2 1764.6,1230 1768.1,1226.8 1771.5,1223.6 1774.9,1220.4 1778.3,1217.1 1781.6,1213.8 1784.9,1210.4 1788.2,1207.1 1791.4,1203.7 1794.6,1200.3 1797.8,1196.8 1801,1193.3 1804.1,1189.8 1807.2,1186.3 1810.3,1182.7 1813.3,1179.2 1816.3,1175.5 1819.3,1171.9 1822.2,1168.2 1825.1,1164.5 1828,1160.8 1830.9,1157.1 1833.7,1153.3 1836.5,1149.5 1839.2,1145.7 1841.9,1141.8 1844.6,1138 1847.3,1134.1 1849.9,1130.2 1852.5,1126.2 1855,1122.3 1857.5,1118.3 1860,1114.3 1862.5,1110.3 1864.9,1106.2 1867.2,1102.1 1869.6,1098 1871.9,1093.9 1874.2,1089.8 1876.4,1085.7 1878.6,1081.5 1880.8,1077.3 1882.9,1073.1 1885,1068.9 1887.1,1064.6 1889.1,1060.3 1891.1,1056.1 1893,1051.8 1894.9,1047.4 1896.8,1043.1 1898.6,1038.7 1900.4,1034.4 1902.2,1030 1903.9,1025.6 1905.6,1021.2 1907.2,1016.8 1908.9,1012.3 1910.4,1007.9 1912,1003.4 1913.5,998.9 1914.9,994.4 1916.3,989.9 1917.7,985.4 1919.1,980.8 1920.4,976.3 1921.6,971.7 1922.8,967.2 1924,962.6 1925.2,958 1926.3,953.4 1927.3,948.8 1928.4,944.2 1929.4,939.5 1930.3,934.9 1931.2,930.3 1932.1,925.6 1932.9,920.9 1933.7,916.3 1934.4,911.6 1935.1,906.9 1935.8,902.2 1936.4,897.5 1937,892.8 1937.6,888.1 1938.1,883.4 1938.5,878.7 1939,874 1939.4,869.3 1939.7,864.6 1940,859.8 1940.3,855.1 1940.5,850.4 1940.7,845.6 1940.8,840.9 1940.9,836.2 1941,831.4 1941,826.7 1941,822Z" fill="none" stroke="#ffffff" stroke-width="5" opacity="0.9" transform="translate(0,-2.5)" filter="url(#soft1)"/>
<path d="M875,831.4 875.1,836.2 875.2,840.9 875.3,845.6 875.5,850.4 875.7,855.1 876,859.8 876.3,864.6 876.6,869.3 877,874 877.5,878.7 877.9,883.4 878.4,888.1 879,892.8 879.6,897.5 880.2,902.2 880.9,906.9 881.6,911.6 882.3,916.3 883.1,920.9 883.9,925.6 884.8,930.3 885.7,934.9 886.6,939.5 887.6,944.2 888.7,948.8 889.7,953.4 890.8,958 892,962.6 893.2,967.2 894.4,971.7 895.6,976.3 896.9,980.8 898.3,985.4 899.7,989.9 901.1,994.4 902.5,998.9 904,1003.4 905.6,1007.9 907.1,1012.3 908.8,1016.8 910.4,1021.2 912.1,1025.6 913.8,1030 915.6,1034.4 917.4,1038.7 919.2,1043.1 921.1,1047.4 923,1051.8 924.9,1056.1 926.9,1060.3 928.9,1064.6 931,1068.9 933.1,1073.1 935.2,1077.3 937.4,1081.5 939.6,1085.7 941.8,1089.8 944.1,1093.9 946.4,1098 948.8,1102.1 951.1,1106.2 953.5,1110.3 956,1114.3 958.5,1118.3 961,1122.3 963.5,1126.2 966.1,1130.2 968.7,1134.1 971.4,1138 974.1,1141.8 976.8,1145.7 979.5,1149.5 982.3,1153.3 985.1,1157.1 988,1160.8 990.9,1164.5 993.8,1168.2 996.7,1171.9 999.7,1175.5 1002.7,1179.2 1005.7,1182.7 1008.8,1186.3 1011.9,1189.8 1015,1193.3 1018.2,1196.8 1021.4,1200.3 1024.6,1203.7 1027.8,1207.1 1031.1,1210.4 1034.4,1213.8 1037.7,1217.1 1041.1,1220.4 1044.5,1223.6 1047.9,1226.8 1051.4,1230 1054.8,1233.2 1058.3,1236.3 1061.8,1239.4 1065.4,1242.4 1069,1245.5 1072.6,1248.5 1076.2,1251.4 1079.9,1254.4 1083.5,1257.3 1087.2,1260.1 1091,1263 1094.7,1265.8 1098.5,1268.5 1102.3,1271.3 1106.1,1274 1110,1276.6 1113.8,1279.2 1117.7,1281.8 1121.6,1284.4 1125.6,1286.9 1129.5,1289.4 1133.5,1291.9 1137.5,1294.3 1141.5,1296.7 1145.5,1299 1149.6,1301.4 1153.7,1303.6 1157.8,1305.9 1161.9,1308.1 1166,1310.2 1170.2,1312.4 1174.3,1314.5 1178.5,1316.5 1182.7,1318.6 1187,1320.5 1191.2,1322.5 1195.5,1324.4 1199.7,1326.3 1204,1328.1 1208.3,1329.9 1212.7,1331.6 1217,1333.4 1221.3,1335 1225.7,1336.7 1230.1,1338.3 1234.5,1339.8 1238.9,1341.4 1243.3,1342.8 1247.7,1344.3 1252.2,1345.7 1256.6,1347.1 1261.1,1348.4 1265.6,1349.7 1270,1350.9 1274.5,1352.1 1279.1,1353.3 1283.6,1354.4 1288.1,1355.5 1292.6,1356.5 1297.2,1357.5 1301.7,1358.5 1306.3,1359.4 1310.9,1360.3 1315.4,1361.2 1320,1362 1324.6,1362.7 1329.2,1363.4 1333.8,1364.1 1338.4,1364.8 1343,1365.4 1347.7,1365.9 1352.3,1366.4 1356.9,1366.9 1361.5,1367.3 1366.2,1367.7 1370.8,1368.1 1375.5,1368.4 1380.1,1368.7 1384.8,1368.9 1389.4,1369.1 1394,1369.2 1398.7,1369.3 1403.3,1369.4 1408,1369.4 1412.7,1369.4 1417.3,1369.3 1422,1369.2 1426.6,1369.1 1431.2,1368.9 1435.9,1368.7 1440.5,1368.4 1445.2,1368.1 1449.8,1367.7 1454.5,1367.3 1459.1,1366.9 1463.7,1366.4 1468.3,1365.9 1473,1365.4 1477.6,1364.8 1482.2,1364.1 1486.8,1363.4 1491.4,1362.7 1496,1362 1500.6,1361.2 1505.1,1360.3 1509.7,1359.4 1514.3,1358.5 1518.8,1357.5 1523.4,1356.5 1527.9,1355.5 1532.4,1354.4 1536.9,1353.3 1541.5,1352.1 1546,1350.9 1550.4,1349.7 1554.9,1348.4 1559.4,1347.1 1563.8,1345.7 1568.3,1344.3 1572.7,1342.8 1577.1,1341.4 1581.5,1339.8 1585.9,1338.3 1590.3,1336.7 1594.7,1335 1599,1333.4 1603.3,1331.6 1607.7,1329.9 1612,1328.1 1616.3,1326.3 1620.5,1324.4 1624.8,1322.5 1629,1320.5 1633.3,1318.6 1637.5,1316.5 1641.7,1314.5 1645.8,1312.4 1650,1310.2 1651,1309.7 1528.7,1054.1 1528.4,1054.3 1524.3,1056.3 1520.1,1058.3 1516,1060.2 1511.8,1062 1507.5,1063.8 1503.3,1065.5 1499,1067.1 1494.6,1068.6 1490.3,1070.1 1485.9,1071.5 1481.5,1072.8 1477.1,1074 1472.6,1075.2 1468.2,1076.2 1463.7,1077.2 1459.2,1078.2 1454.7,1079 1450.1,1079.8 1445.6,1080.4 1441.1,1081 1436.5,1081.6 1431.9,1082 1427.3,1082.4 1422.8,1082.6 1418.2,1082.8 1413.6,1083 1409,1083 1404.4,1083 1399.8,1082.8 1395.2,1082.6 1390.7,1082.4 1386.1,1082 1381.5,1081.6 1376.9,1081 1372.4,1080.4 1367.9,1079.8 1363.3,1079 1358.8,1078.2 1354.3,1077.2 1349.8,1076.2 1345.4,1075.2 1340.9,1074 1336.5,1072.8 1332.1,1071.5 1327.7,1070.1 1323.4,1068.6 1319,1067.1 1314.7,1065.5 1310.5,1063.8 1306.2,1062 1302,1060.2 1297.9,1058.3 1293.7,1056.3 1289.6,1054.3 1285.5,1052.1 1281.5,1049.9 1277.5,1047.7 1273.5,1045.3 1269.6,1042.9 1265.8,1040.5 1261.9,1037.9 1258.1,1035.3 1254.4,1032.6 1250.7,1029.9 1247.1,1027.1 1243.5,1024.2 1239.9,1021.3 1236.5,1018.3 1233,1015.3 1229.6,1012.2 1226.3,1009 1223,1005.8 1219.8,1002.5 1216.7,999.1 1213.6,995.7 1210.5,992.3 1207.5,988.8 1204.6,985.3 1201.8,981.6 1199,978 1196.2,974.3 1193.6,970.6 1191,966.8 1188.4,962.9 1186,959 1183.6,955.1 1181.2,951.1 1179,947.1 1176.8,943.1 1174.7,939 1172.6,934.9 1170.6,930.7 1168.7,926.6 1166.9,922.3 1165.2,918.1 1163.5,913.8 1161.9,909.5 1160.3,905.2 1158.9,900.8 1157.5,896.4 1156.2,892 1155,887.6 1153.8,883.1 1152.7,878.6 1151.7,874.1 1150.8,869.6 1150,865.1 1149.2,860.6 1148.6,856 1148,851.4 1147.4,846.9 1147,842.3 1146.6,837.7 1146.4,833.1 1146.2,828.5 1146.1,827.5 875,827.5Z" fill="none" stroke="#ffffff" stroke-width="5" opacity="0.9" transform="translate(0,-2.5)" filter="url(#soft1)"/>
<path d="M1690.4,366.5 1686.5,364 1682.5,361.5 1678.5,359.1 1674.5,356.7 1670.5,354.4 1666.4,352 1662.3,349.8 1658.2,347.5 1654.1,345.3 1650,343.2 1645.8,341 1641.7,338.9 1637.5,336.9 1633.3,334.8 1629,332.9 1624.8,330.9 1620.5,329 1616.3,327.1 1612,325.3 1607.7,323.5 1603.3,321.8 1599,320 1594.7,318.4 1590.3,316.7 1585.9,315.1 1581.5,313.6 1577.1,312 1572.7,310.6 1568.3,309.1 1563.8,307.7 1559.4,306.3 1554.9,305 1550.4,303.7 1546,302.5 1541.5,301.3 1536.9,300.1 1532.4,299 1527.9,297.9 1523.4,296.9 1518.8,295.9 1514.3,294.9 1509.7,294 1505.1,293.1 1500.6,292.2 1496,291.4 1491.4,290.7 1486.8,290 1482.2,289.3 1477.6,288.6 1473,288 1468.3,287.5 1463.7,287 1459.1,286.5 1454.5,286.1 1449.8,285.7 1445.2,285.3 1440.5,285 1435.9,284.7 1431.2,284.5 1426.6,284.3 1422,284.2 1417.3,284.1 1412.7,284 1408,284 1403.3,284 1398.7,284.1 1394,284.2 1389.4,284.3 1384.8,284.5 1380.1,284.7 1375.5,285 1370.8,285.3 1366.2,285.7 1361.5,286.1 1356.9,286.5 1352.3,287 1347.7,287.5 1343,288 1338.4,288.6 1333.8,289.3 1329.2,290 1324.6,290.7 1320,291.4 1315.4,292.2 1310.9,293.1 1306.3,294 1301.7,294.9 1297.2,295.9 1292.6,296.9 1288.1,297.9 1283.6,299 1279.1,300.1 1274.5,301.3 1270,302.5 1265.6,303.7 1261.1,305 1256.6,306.3 1252.2,307.7 1247.7,309.1 1243.3,310.6 1238.9,312 1234.5,313.6 1230.1,315.1 1225.7,316.7 1221.3,318.4 1217,320 1212.7,321.8 1208.3,323.5 1204,325.3 1199.7,327.1 1195.5,329 1191.2,330.9 1187,332.9 1182.7,334.8 1178.5,336.9 1174.3,338.9 1170.2,341 1166,343.2 1161.9,345.3 1157.8,347.5 1153.7,349.8 1149.6,352 1145.5,354.4 1141.5,356.7 1137.5,359.1 1133.5,361.5 1129.5,364 1125.6,366.5 1121.6,369 1117.7,371.6 1113.8,374.2 1110,376.8 1106.1,379.4 1102.3,382.1 1098.5,384.9 1094.7,387.6 1091,390.4 1087.2,393.3 1083.5,396.1 1079.9,399 1076.2,402 1072.6,404.9 1069,407.9 1065.4,411 1061.8,414 1058.3,417.1 1054.8,420.2 1051.4,423.4 1047.9,426.6 1044.5,429.8 1041.1,433 1037.7,436.3 1034.4,439.6 1031.1,443 1027.8,446.3 1024.6,449.7 1021.4,453.1 1018.2,456.6 1015,460.1 1011.9,463.6 1008.8,467.1 1005.7,470.7 1002.7,474.2 999.7,477.9 996.7,481.5 993.8,485.2 990.9,488.9 988,492.6 985.1,496.3 982.3,500.1 979.5,503.9 976.8,507.7 974.1,511.6 971.4,515.4 968.7,519.3 966.1,523.2 963.5,527.2 961,531.1 958.5,535.1 956,539.1 953.5,543.1 951.1,547.2 948.8,551.3 946.4,555.3 944.1,559.5 941.8,563.6 939.6,567.7 937.4,571.9 935.2,576.1 933.1,580.3 931,584.5 928.9,588.8 926.9,593.1 924.9,597.3 923,601.6 921.1,606 919.2,610.3 917.4,614.7 915.6,619 913.8,623.4 912.1,627.8 910.4,632.2 908.8,636.6 907.1,641.1 905.6,645.5 904,650 902.5,654.5 901.1,659 899.7,663.5 898.3,668 896.9,672.6 895.6,677.1 894.4,681.7 893.2,686.2 892,690.8 890.8,695.4 889.7,700 888.7,704.6 887.6,709.2 886.6,713.9 885.7,718.5 884.8,723.1 883.9,727.8 883.1,732.5 882.3,737.1 881.6,741.8 880.9,746.5 880.2,751.2 879.6,755.9 879,760.6 878.4,765.3 877.9,770 877.5,774.7 877,779.4 876.6,784.1 876.3,788.8 876,793.6 875.7,798.3 875.5,803 875.3,807.8 875.3,808 1146.3,808 1146.4,805.5 1146.6,800.9 1147,796.3 1147.4,791.7 1148,787.2 1148.6,782.6 1149.2,778 1150,773.5 1150.8,769 1151.7,764.5 1152.7,760 1153.8,755.5 1155,751 1156.2,746.6 1157.5,742.2 1158.9,737.8 1160.3,733.4 1161.9,729.1 1163.5,724.8 1165.2,720.5 1166.9,716.3 1168.7,712 1170.6,707.9 1172.6,703.7 1174.7,699.6 1176.8,695.5 1179,691.5 1181.2,687.4 1183.6,683.5 1186,679.6 1188.4,675.7 1191,671.8 1193.6,668 1196.2,664.3 1199,660.6 1201.8,657 1204.6,653.3 1207.5,649.8 1210.5,646.3 1213.6,642.9 1216.7,639.5 1219.8,636.1 1223,632.8 1226.3,629.6 1229.6,626.4 1233,623.3 1236.5,620.3 1239.9,617.3 1243.5,614.4 1247.1,611.5 1250.7,608.7 1254.4,606 1258.1,603.3 1261.9,600.7 1265.8,598.1 1269.6,595.7 1273.5,593.3 1277.5,590.9 1281.5,588.7 1285.5,586.5 1289.6,584.3 1293.7,582.3 1297.9,580.3 1302,578.4 1306.2,576.6 1310.5,574.8 1314.7,573.1 1319,571.5 1323.4,570 1327.7,568.5 1332.1,567.1 1336.5,565.8 1340.9,564.6 1345.4,563.4 1349.8,562.4 1354.3,561.4 1358.8,560.4 1363.3,559.6 1367.9,558.8 1372.4,558.2 1376.9,557.6 1381.5,557 1386.1,556.6 1390.7,556.2 1395.2,556 1399.8,555.8 1404.4,555.6 1409,555.6 1413.6,555.6 1418.2,555.8 1422.8,556 1427.3,556.2 1431.9,556.6 1436.5,557 1441.1,557.6 1445.6,558.2 1450.1,558.8 1454.7,559.6 1459.2,560.4 1463.7,561.4 1468.2,562.4 1472.6,563.4 1477.1,564.6 1481.5,565.8 1485.9,567.1 1490.3,568.5 1494.6,570 1499,571.5 1503.3,573.1 1507.5,574.8 1511.8,576.6 1516,578.4 1520.1,580.3 1524.3,582.3 1528.4,584.3 1532.5,586.5 1536.5,588.7 1540.5,590.9 1544.5,593.3 1548.4,595.7 1550.5,597.1 1693.9,368.7Z" fill="url(#gTeal)"/>
<path d="M1690.4,366.5 1686.5,364 1682.5,361.5 1678.5,359.1 1674.5,356.7 1670.5,354.4 1666.4,352 1662.3,349.8 1658.2,347.5 1654.1,345.3 1650,343.2 1645.8,341 1641.7,338.9 1637.5,336.9 1633.3,334.8 1629,332.9 1624.8,330.9 1620.5,329 1616.3,327.1 1612,325.3 1607.7,323.5 1603.3,321.8 1599,320 1594.7,318.4 1590.3,316.7 1585.9,315.1 1581.5,313.6 1577.1,312 1572.7,310.6 1568.3,309.1 1563.8,307.7 1559.4,306.3 1554.9,305 1550.4,303.7 1546,302.5 1541.5,301.3 1536.9,300.1 1532.4,299 1527.9,297.9 1523.4,296.9 1518.8,295.9 1514.3,294.9 1509.7,294 1505.1,293.1 1500.6,292.2 1496,291.4 1491.4,290.7 1486.8,290 1482.2,289.3 1477.6,288.6 1473,288 1468.3,287.5 1463.7,287 1459.1,286.5 1454.5,286.1 1449.8,285.7 1445.2,285.3 1440.5,285 1435.9,284.7 1431.2,284.5 1426.6,284.3 1422,284.2 1417.3,284.1 1412.7,284 1408,284 1403.3,284 1398.7,284.1 1394,284.2 1389.4,284.3 1384.8,284.5 1380.1,284.7 1375.5,285 1370.8,285.3 1366.2,285.7 1361.5,286.1 1356.9,286.5 1352.3,287 1347.7,287.5 1343,288 1338.4,288.6 1333.8,289.3 1329.2,290 1324.6,290.7 1320,291.4 1315.4,292.2 1310.9,293.1 1306.3,294 1301.7,294.9 1297.2,295.9 1292.6,296.9 1288.1,297.9 1283.6,299 1279.1,300.1 1274.5,301.3 1270,302.5 1265.6,303.7 1261.1,305 1256.6,306.3 1252.2,307.7 1247.7,309.1 1243.3,310.6 1238.9,312 1234.5,313.6 1230.1,315.1 1225.7,316.7 1221.3,318.4 1217,320 1212.7,321.8 1208.3,323.5 1204,325.3 1199.7,327.1 1195.5,329 1191.2,330.9 1187,332.9 1182.7,334.8 1178.5,336.9 1174.3,338.9 1170.2,341 1166,343.2 1161.9,345.3 1157.8,347.5 1153.7,349.8 1149.6,352 1145.5,354.4 1141.5,356.7 1137.5,359.1 1133.5,361.5 1129.5,364 1125.6,366.5 1121.6,369 1117.7,371.6 1113.8,374.2 1110,376.8 1106.1,379.4 1102.3,382.1 1098.5,384.9 1094.7,387.6 1091,390.4 1087.2,393.3 1083.5,396.1 1079.9,399 1076.2,402 1072.6,404.9 1069,407.9 1065.4,411 1061.8,414 1058.3,417.1 1054.8,420.2 1051.4,423.4 1047.9,426.6 1044.5,429.8 1041.1,433 1037.7,436.3 1034.4,439.6 1031.1,443 1027.8,446.3 1024.6,449.7 1021.4,453.1 1018.2,456.6 1015,460.1 1011.9,463.6 1008.8,467.1 1005.7,470.7 1002.7,474.2 999.7,477.9 996.7,481.5 993.8,485.2 990.9,488.9 988,492.6 985.1,496.3 982.3,500.1 979.5,503.9 976.8,507.7 974.1,511.6 971.4,515.4 968.7,519.3 966.1,523.2 963.5,527.2 961,531.1 958.5,535.1 956,539.1 953.5,543.1 951.1,547.2 948.8,551.3 946.4,555.3 944.1,559.5 941.8,563.6 939.6,567.7 937.4,571.9 935.2,576.1 933.1,580.3 931,584.5 928.9,588.8 926.9,593.1 924.9,597.3 923,601.6 921.1,606 919.2,610.3 917.4,614.7 915.6,619 913.8,623.4 912.1,627.8 910.4,632.2 908.8,636.6 907.1,641.1 905.6,645.5 904,650 902.5,654.5 901.1,659 899.7,663.5 898.3,668 896.9,672.6 895.6,677.1 894.4,681.7 893.2,686.2 892,690.8 890.8,695.4 889.7,700 888.7,704.6 887.6,709.2 886.6,713.9 885.7,718.5 884.8,723.1 883.9,727.8 883.1,732.5 882.3,737.1 881.6,741.8 880.9,746.5 880.2,751.2 879.6,755.9 879,760.6 878.4,765.3 877.9,770 877.5,774.7 877,779.4 876.6,784.1 876.3,788.8 876,793.6 875.7,798.3 875.5,803 875.3,807.8 875.3,808 1146.3,808 1146.4,805.5 1146.6,800.9 1147,796.3 1147.4,791.7 1148,787.2 1148.6,782.6 1149.2,778 1150,773.5 1150.8,769 1151.7,764.5 1152.7,760 1153.8,755.5 1155,751 1156.2,746.6 1157.5,742.2 1158.9,737.8 1160.3,733.4 1161.9,729.1 1163.5,724.8 1165.2,720.5 1166.9,716.3 1168.7,712 1170.6,707.9 1172.6,703.7 1174.7,699.6 1176.8,695.5 1179,691.5 1181.2,687.4 1183.6,683.5 1186,679.6 1188.4,675.7 1191,671.8 1193.6,668 1196.2,664.3 1199,660.6 1201.8,657 1204.6,653.3 1207.5,649.8 1210.5,646.3 1213.6,642.9 1216.7,639.5 1219.8,636.1 1223,632.8 1226.3,629.6 1229.6,626.4 1233,623.3 1236.5,620.3 1239.9,617.3 1243.5,614.4 1247.1,611.5 1250.7,608.7 1254.4,606 1258.1,603.3 1261.9,600.7 1265.8,598.1 1269.6,595.7 1273.5,593.3 1277.5,590.9 1281.5,588.7 1285.5,586.5 1289.6,584.3 1293.7,582.3 1297.9,580.3 1302,578.4 1306.2,576.6 1310.5,574.8 1314.7,573.1 1319,571.5 1323.4,570 1327.7,568.5 1332.1,567.1 1336.5,565.8 1340.9,564.6 1345.4,563.4 1349.8,562.4 1354.3,561.4 1358.8,560.4 1363.3,559.6 1367.9,558.8 1372.4,558.2 1376.9,557.6 1381.5,557 1386.1,556.6 1390.7,556.2 1395.2,556 1399.8,555.8 1404.4,555.6 1409,555.6 1413.6,555.6 1418.2,555.8 1422.8,556 1427.3,556.2 1431.9,556.6 1436.5,557 1441.1,557.6 1445.6,558.2 1450.1,558.8 1454.7,559.6 1459.2,560.4 1463.7,561.4 1468.2,562.4 1472.6,563.4 1477.1,564.6 1481.5,565.8 1485.9,567.1 1490.3,568.5 1494.6,570 1499,571.5 1503.3,573.1 1507.5,574.8 1511.8,576.6 1516,578.4 1520.1,580.3 1524.3,582.3 1528.4,584.3 1532.5,586.5 1536.5,588.7 1540.5,590.9 1544.5,593.3 1548.4,595.7 1550.5,597.1 1693.9,368.7Z" fill="none" stroke="url(#gTealB)" stroke-width="21.0" stroke-linejoin="miter" clip-path="url(#cp_teal)"/>
<circle cx="1409" cy="819.3" r="263" fill="none" stroke="#3aa3d6" stroke-opacity="0.62" stroke-width="21" clip-path="url(#cp_teal)"/>
<path d="M1940.9,817.2 1940.8,812.5 1940.7,807.8 1940.5,803 1940.3,798.3 1940,793.6 1939.7,788.8 1939.4,784.1 1939,779.4 1938.5,774.7 1938.1,770 1937.6,765.3 1937,760.6 1936.4,755.9 1935.8,751.2 1935.1,746.5 1934.4,741.8 1933.7,737.1 1932.9,732.5 1932.1,727.8 1931.2,723.1 1930.3,718.5 1929.4,713.9 1928.4,709.2 1927.3,704.6 1926.3,700 1925.2,695.4 1924,690.8 1922.8,686.2 1921.6,681.7 1920.4,677.1 1919.1,672.6 1917.7,668 1916.3,663.5 1914.9,659 1913.5,654.5 1912,650 1910.4,645.5 1908.9,641.1 1907.2,636.6 1905.6,632.2 1903.9,627.8 1902.2,623.4 1900.4,619 1898.6,614.7 1896.8,610.3 1894.9,606 1893,601.6 1891.1,597.3 1889.1,593.1 1887.1,588.8 1885,584.5 1882.9,580.3 1880.8,576.1 1878.6,571.9 1876.4,567.7 1874.2,563.6 1871.9,559.5 1869.6,555.3 1867.2,551.3 1864.9,547.2 1862.5,543.1 1860,539.1 1857.5,535.1 1855,531.1 1852.5,527.2 1849.9,523.2 1847.3,519.3 1844.6,515.4 1841.9,511.6 1839.2,507.7 1836.5,503.9 1833.7,500.1 1830.9,496.3 1828,492.6 1825.1,488.9 1822.2,485.2 1819.3,481.5 1816.3,477.9 1813.3,474.2 1810.3,470.7 1807.2,467.1 1804.1,463.6 1801,460.1 1797.8,456.6 1794.6,453.1 1791.4,449.7 1788.2,446.3 1784.9,443 1781.6,439.6 1778.3,436.3 1774.9,433 1771.5,429.8 1768.1,426.6 1764.6,423.4 1761.2,420.2 1757.7,417.1 1754.2,414 1750.6,411 1747,407.9 1743.4,404.9 1739.8,402 1736.1,399 1732.5,396.1 1728.8,393.3 1725,390.4 1721.3,387.6 1717.5,384.9 1713.7,382.1 1711.2,380.3 1567.8,609.1 1570.9,611.5 1574.5,614.4 1578.1,617.3 1581.5,620.3 1585,623.3 1588.4,626.4 1591.7,629.6 1595,632.8 1598.2,636.1 1601.3,639.5 1604.4,642.9 1607.5,646.3 1610.5,649.8 1613.4,653.3 1616.2,657 1619,660.6 1621.8,664.3 1624.4,668 1627,671.8 1629.6,675.7 1632,679.6 1634.4,683.5 1636.8,687.4 1639,691.5 1641.2,695.5 1643.3,699.6 1645.4,703.7 1647.4,707.9 1649.3,712 1651.1,716.3 1652.8,720.5 1654.5,724.8 1656.1,729.1 1657.7,733.4 1659.1,737.8 1660.5,742.2 1661.8,746.6 1663,751 1664.2,755.5 1665.3,760 1666.3,764.5 1667.2,769 1668,773.5 1668.8,778 1669.4,782.6 1670,787.2 1670.6,791.7 1671,796.3 1671.4,800.9 1671.6,805.5 1671.8,810.1 1672,814.7 1672,819.3 1672,823.9 1671.8,828.5 1671.6,833.1 1671.4,837.7 1671,842.3 1670.6,846.9 1670,851.4 1669.4,856 1668.8,860.6 1668,865.1 1667.2,869.6 1666.3,874.1 1665.3,878.6 1664.2,883.1 1663,887.6 1661.8,892 1660.5,896.4 1659.1,900.8 1657.7,905.2 1656.1,909.5 1654.5,913.8 1652.8,918.1 1651.1,922.3 1649.3,926.6 1647.4,930.7 1645.4,934.9 1643.3,939 1641.2,943.1 1639,947.1 1636.8,951.1 1634.4,955.1 1632,959 1629.6,962.9 1627,966.8 1624.4,970.6 1621.8,974.3 1619,978 1616.2,981.6 1613.4,985.3 1610.5,988.8 1607.5,992.3 1604.4,995.7 1601.3,999.1 1598.2,1002.5 1595,1005.8 1591.7,1009 1588.4,1012.2 1585,1015.3 1581.5,1018.3 1578.1,1021.3 1574.5,1024.2 1570.9,1027.1 1567.3,1029.9 1563.6,1032.6 1559.9,1035.3 1556.1,1037.9 1552.2,1040.5 1548.4,1042.9 1546.5,1044.1 1668.5,1300.2 1670.5,1299 1674.5,1296.7 1678.5,1294.3 1682.5,1291.9 1686.5,1289.4 1690.4,1286.9 1694.4,1284.4 1698.3,1281.8 1702.2,1279.2 1706,1276.6 1709.9,1274 1713.7,1271.3 1717.5,1268.5 1721.3,1265.8 1725,1263 1728.8,1260.1 1732.5,1257.3 1736.1,1254.4 1739.8,1251.4 1743.4,1248.5 1747,1245.5 1750.6,1242.4 1754.2,1239.4 1757.7,1236.3 1761.2,1233.2 1764.6,1230 1768.1,1226.8 1771.5,1223.6 1774.9,1220.4 1778.3,1217.1 1781.6,1213.8 1784.9,1210.4 1788.2,1207.1 1791.4,1203.7 1794.6,1200.3 1797.8,1196.8 1801,1193.3 1804.1,1189.8 1807.2,1186.3 1810.3,1182.7 1813.3,1179.2 1816.3,1175.5 1819.3,1171.9 1822.2,1168.2 1825.1,1164.5 1828,1160.8 1830.9,1157.1 1833.7,1153.3 1836.5,1149.5 1839.2,1145.7 1841.9,1141.8 1844.6,1138 1847.3,1134.1 1849.9,1130.2 1852.5,1126.2 1855,1122.3 1857.5,1118.3 1860,1114.3 1862.5,1110.3 1864.9,1106.2 1867.2,1102.1 1869.6,1098 1871.9,1093.9 1874.2,1089.8 1876.4,1085.7 1878.6,1081.5 1880.8,1077.3 1882.9,1073.1 1885,1068.9 1887.1,1064.6 1889.1,1060.3 1891.1,1056.1 1893,1051.8 1894.9,1047.4 1896.8,1043.1 1898.6,1038.7 1900.4,1034.4 1902.2,1030 1903.9,1025.6 1905.6,1021.2 1907.2,1016.8 1908.9,1012.3 1910.4,1007.9 1912,1003.4 1913.5,998.9 1914.9,994.4 1916.3,989.9 1917.7,985.4 1919.1,980.8 1920.4,976.3 1921.6,971.7 1922.8,967.2 1924,962.6 1925.2,958 1926.3,953.4 1927.3,948.8 1928.4,944.2 1929.4,939.5 1930.3,934.9 1931.2,930.3 1932.1,925.6 1932.9,920.9 1933.7,916.3 1934.4,911.6 1935.1,906.9 1935.8,902.2 1936.4,897.5 1937,892.8 1937.6,888.1 1938.1,883.4 1938.5,878.7 1939,874 1939.4,869.3 1939.7,864.6 1940,859.8 1940.3,855.1 1940.5,850.4 1940.7,845.6 1940.8,840.9 1940.9,836.2 1941,831.4 1941,826.7 1941,822Z" fill="url(#gGreen)"/>
<path d="M1940.9,817.2 1940.8,812.5 1940.7,807.8 1940.5,803 1940.3,798.3 1940,793.6 1939.7,788.8 1939.4,784.1 1939,779.4 1938.5,774.7 1938.1,770 1937.6,765.3 1937,760.6 1936.4,755.9 1935.8,751.2 1935.1,746.5 1934.4,741.8 1933.7,737.1 1932.9,732.5 1932.1,727.8 1931.2,723.1 1930.3,718.5 1929.4,713.9 1928.4,709.2 1927.3,704.6 1926.3,700 1925.2,695.4 1924,690.8 1922.8,686.2 1921.6,681.7 1920.4,677.1 1919.1,672.6 1917.7,668 1916.3,663.5 1914.9,659 1913.5,654.5 1912,650 1910.4,645.5 1908.9,641.1 1907.2,636.6 1905.6,632.2 1903.9,627.8 1902.2,623.4 1900.4,619 1898.6,614.7 1896.8,610.3 1894.9,606 1893,601.6 1891.1,597.3 1889.1,593.1 1887.1,588.8 1885,584.5 1882.9,580.3 1880.8,576.1 1878.6,571.9 1876.4,567.7 1874.2,563.6 1871.9,559.5 1869.6,555.3 1867.2,551.3 1864.9,547.2 1862.5,543.1 1860,539.1 1857.5,535.1 1855,531.1 1852.5,527.2 1849.9,523.2 1847.3,519.3 1844.6,515.4 1841.9,511.6 1839.2,507.7 1836.5,503.9 1833.7,500.1 1830.9,496.3 1828,492.6 1825.1,488.9 1822.2,485.2 1819.3,481.5 1816.3,477.9 1813.3,474.2 1810.3,470.7 1807.2,467.1 1804.1,463.6 1801,460.1 1797.8,456.6 1794.6,453.1 1791.4,449.7 1788.2,446.3 1784.9,443 1781.6,439.6 1778.3,436.3 1774.9,433 1771.5,429.8 1768.1,426.6 1764.6,423.4 1761.2,420.2 1757.7,417.1 1754.2,414 1750.6,411 1747,407.9 1743.4,404.9 1739.8,402 1736.1,399 1732.5,396.1 1728.8,393.3 1725,390.4 1721.3,387.6 1717.5,384.9 1713.7,382.1 1711.2,380.3 1567.8,609.1 1570.9,611.5 1574.5,614.4 1578.1,617.3 1581.5,620.3 1585,623.3 1588.4,626.4 1591.7,629.6 1595,632.8 1598.2,636.1 1601.3,639.5 1604.4,642.9 1607.5,646.3 1610.5,649.8 1613.4,653.3 1616.2,657 1619,660.6 1621.8,664.3 1624.4,668 1627,671.8 1629.6,675.7 1632,679.6 1634.4,683.5 1636.8,687.4 1639,691.5 1641.2,695.5 1643.3,699.6 1645.4,703.7 1647.4,707.9 1649.3,712 1651.1,716.3 1652.8,720.5 1654.5,724.8 1656.1,729.1 1657.7,733.4 1659.1,737.8 1660.5,742.2 1661.8,746.6 1663,751 1664.2,755.5 1665.3,760 1666.3,764.5 1667.2,769 1668,773.5 1668.8,778 1669.4,782.6 1670,787.2 1670.6,791.7 1671,796.3 1671.4,800.9 1671.6,805.5 1671.8,810.1 1672,814.7 1672,819.3 1672,823.9 1671.8,828.5 1671.6,833.1 1671.4,837.7 1671,842.3 1670.6,846.9 1670,851.4 1669.4,856 1668.8,860.6 1668,865.1 1667.2,869.6 1666.3,874.1 1665.3,878.6 1664.2,883.1 1663,887.6 1661.8,892 1660.5,896.4 1659.1,900.8 1657.7,905.2 1656.1,909.5 1654.5,913.8 1652.8,918.1 1651.1,922.3 1649.3,926.6 1647.4,930.7 1645.4,934.9 1643.3,939 1641.2,943.1 1639,947.1 1636.8,951.1 1634.4,955.1 1632,959 1629.6,962.9 1627,966.8 1624.4,970.6 1621.8,974.3 1619,978 1616.2,981.6 1613.4,985.3 1610.5,988.8 1607.5,992.3 1604.4,995.7 1601.3,999.1 1598.2,1002.5 1595,1005.8 1591.7,1009 1588.4,1012.2 1585,1015.3 1581.5,1018.3 1578.1,1021.3 1574.5,1024.2 1570.9,1027.1 1567.3,1029.9 1563.6,1032.6 1559.9,1035.3 1556.1,1037.9 1552.2,1040.5 1548.4,1042.9 1546.5,1044.1 1668.5,1300.2 1670.5,1299 1674.5,1296.7 1678.5,1294.3 1682.5,1291.9 1686.5,1289.4 1690.4,1286.9 1694.4,1284.4 1698.3,1281.8 1702.2,1279.2 1706,1276.6 1709.9,1274 1713.7,1271.3 1717.5,1268.5 1721.3,1265.8 1725,1263 1728.8,1260.1 1732.5,1257.3 1736.1,1254.4 1739.8,1251.4 1743.4,1248.5 1747,1245.5 1750.6,1242.4 1754.2,1239.4 1757.7,1236.3 1761.2,1233.2 1764.6,1230 1768.1,1226.8 1771.5,1223.6 1774.9,1220.4 1778.3,1217.1 1781.6,1213.8 1784.9,1210.4 1788.2,1207.1 1791.4,1203.7 1794.6,1200.3 1797.8,1196.8 1801,1193.3 1804.1,1189.8 1807.2,1186.3 1810.3,1182.7 1813.3,1179.2 1816.3,1175.5 1819.3,1171.9 1822.2,1168.2 1825.1,1164.5 1828,1160.8 1830.9,1157.1 1833.7,1153.3 1836.5,1149.5 1839.2,1145.7 1841.9,1141.8 1844.6,1138 1847.3,1134.1 1849.9,1130.2 1852.5,1126.2 1855,1122.3 1857.5,1118.3 1860,1114.3 1862.5,1110.3 1864.9,1106.2 1867.2,1102.1 1869.6,1098 1871.9,1093.9 1874.2,1089.8 1876.4,1085.7 1878.6,1081.5 1880.8,1077.3 1882.9,1073.1 1885,1068.9 1887.1,1064.6 1889.1,1060.3 1891.1,1056.1 1893,1051.8 1894.9,1047.4 1896.8,1043.1 1898.6,1038.7 1900.4,1034.4 1902.2,1030 1903.9,1025.6 1905.6,1021.2 1907.2,1016.8 1908.9,1012.3 1910.4,1007.9 1912,1003.4 1913.5,998.9 1914.9,994.4 1916.3,989.9 1917.7,985.4 1919.1,980.8 1920.4,976.3 1921.6,971.7 1922.8,967.2 1924,962.6 1925.2,958 1926.3,953.4 1927.3,948.8 1928.4,944.2 1929.4,939.5 1930.3,934.9 1931.2,930.3 1932.1,925.6 1932.9,920.9 1933.7,916.3 1934.4,911.6 1935.1,906.9 1935.8,902.2 1936.4,897.5 1937,892.8 1937.6,888.1 1938.1,883.4 1938.5,878.7 1939,874 1939.4,869.3 1939.7,864.6 1940,859.8 1940.3,855.1 1940.5,850.4 1940.7,845.6 1940.8,840.9 1940.9,836.2 1941,831.4 1941,826.7 1941,822Z" fill="none" stroke="url(#gGreenB)" stroke-width="21.0" stroke-linejoin="miter" clip-path="url(#cp_green)"/>
<ellipse cx="1408" cy="826.7" rx="533" ry="542.7" fill="none" stroke="url(#gGreenLo)" stroke-width="21" clip-path="url(#cp_green)"/>
<path d="M875,831.4 875.1,836.2 875.2,840.9 875.3,845.6 875.5,850.4 875.7,855.1 876,859.8 876.3,864.6 876.6,869.3 877,874 877.5,878.7 877.9,883.4 878.4,888.1 879,892.8 879.6,897.5 880.2,902.2 880.9,906.9 881.6,911.6 882.3,916.3 883.1,920.9 883.9,925.6 884.8,930.3 885.7,934.9 886.6,939.5 887.6,944.2 888.7,948.8 889.7,953.4 890.8,958 892,962.6 893.2,967.2 894.4,971.7 895.6,976.3 896.9,980.8 898.3,985.4 899.7,989.9 901.1,994.4 902.5,998.9 904,1003.4 905.6,1007.9 907.1,1012.3 908.8,1016.8 910.4,1021.2 912.1,1025.6 913.8,1030 915.6,1034.4 917.4,1038.7 919.2,1043.1 921.1,1047.4 923,1051.8 924.9,1056.1 926.9,1060.3 928.9,1064.6 931,1068.9 933.1,1073.1 935.2,1077.3 937.4,1081.5 939.6,1085.7 941.8,1089.8 944.1,1093.9 946.4,1098 948.8,1102.1 951.1,1106.2 953.5,1110.3 956,1114.3 958.5,1118.3 961,1122.3 963.5,1126.2 966.1,1130.2 968.7,1134.1 971.4,1138 974.1,1141.8 976.8,1145.7 979.5,1149.5 982.3,1153.3 985.1,1157.1 988,1160.8 990.9,1164.5 993.8,1168.2 996.7,1171.9 999.7,1175.5 1002.7,1179.2 1005.7,1182.7 1008.8,1186.3 1011.9,1189.8 1015,1193.3 1018.2,1196.8 1021.4,1200.3 1024.6,1203.7 1027.8,1207.1 1031.1,1210.4 1034.4,1213.8 1037.7,1217.1 1041.1,1220.4 1044.5,1223.6 1047.9,1226.8 1051.4,1230 1054.8,1233.2 1058.3,1236.3 1061.8,1239.4 1065.4,1242.4 1069,1245.5 1072.6,1248.5 1076.2,1251.4 1079.9,1254.4 1083.5,1257.3 1087.2,1260.1 1091,1263 1094.7,1265.8 1098.5,1268.5 1102.3,1271.3 1106.1,1274 1110,1276.6 1113.8,1279.2 1117.7,1281.8 1121.6,1284.4 1125.6,1286.9 1129.5,1289.4 1133.5,1291.9 1137.5,1294.3 1141.5,1296.7 1145.5,1299 1149.6,1301.4 1153.7,1303.6 1157.8,1305.9 1161.9,1308.1 1166,1310.2 1170.2,1312.4 1174.3,1314.5 1178.5,1316.5 1182.7,1318.6 1187,1320.5 1191.2,1322.5 1195.5,1324.4 1199.7,1326.3 1204,1328.1 1208.3,1329.9 1212.7,1331.6 1217,1333.4 1221.3,1335 1225.7,1336.7 1230.1,1338.3 1234.5,1339.8 1238.9,1341.4 1243.3,1342.8 1247.7,1344.3 1252.2,1345.7 1256.6,1347.1 1261.1,1348.4 1265.6,1349.7 1270,1350.9 1274.5,1352.1 1279.1,1353.3 1283.6,1354.4 1288.1,1355.5 1292.6,1356.5 1297.2,1357.5 1301.7,1358.5 1306.3,1359.4 1310.9,1360.3 1315.4,1361.2 1320,1362 1324.6,1362.7 1329.2,1363.4 1333.8,1364.1 1338.4,1364.8 1343,1365.4 1347.7,1365.9 1352.3,1366.4 1356.9,1366.9 1361.5,1367.3 1366.2,1367.7 1370.8,1368.1 1375.5,1368.4 1380.1,1368.7 1384.8,1368.9 1389.4,1369.1 1394,1369.2 1398.7,1369.3 1403.3,1369.4 1408,1369.4 1412.7,1369.4 1417.3,1369.3 1422,1369.2 1426.6,1369.1 1431.2,1368.9 1435.9,1368.7 1440.5,1368.4 1445.2,1368.1 1449.8,1367.7 1454.5,1367.3 1459.1,1366.9 1463.7,1366.4 1468.3,1365.9 1473,1365.4 1477.6,1364.8 1482.2,1364.1 1486.8,1363.4 1491.4,1362.7 1496,1362 1500.6,1361.2 1505.1,1360.3 1509.7,1359.4 1514.3,1358.5 1518.8,1357.5 1523.4,1356.5 1527.9,1355.5 1532.4,1354.4 1536.9,1353.3 1541.5,1352.1 1546,1350.9 1550.4,1349.7 1554.9,1348.4 1559.4,1347.1 1563.8,1345.7 1568.3,1344.3 1572.7,1342.8 1577.1,1341.4 1581.5,1339.8 1585.9,1338.3 1590.3,1336.7 1594.7,1335 1599,1333.4 1603.3,1331.6 1607.7,1329.9 1612,1328.1 1616.3,1326.3 1620.5,1324.4 1624.8,1322.5 1629,1320.5 1633.3,1318.6 1637.5,1316.5 1641.7,1314.5 1645.8,1312.4 1650,1310.2 1651,1309.7 1528.7,1054.1 1528.4,1054.3 1524.3,1056.3 1520.1,1058.3 1516,1060.2 1511.8,1062 1507.5,1063.8 1503.3,1065.5 1499,1067.1 1494.6,1068.6 1490.3,1070.1 1485.9,1071.5 1481.5,1072.8 1477.1,1074 1472.6,1075.2 1468.2,1076.2 1463.7,1077.2 1459.2,1078.2 1454.7,1079 1450.1,1079.8 1445.6,1080.4 1441.1,1081 1436.5,1081.6 1431.9,1082 1427.3,1082.4 1422.8,1082.6 1418.2,1082.8 1413.6,1083 1409,1083 1404.4,1083 1399.8,1082.8 1395.2,1082.6 1390.7,1082.4 1386.1,1082 1381.5,1081.6 1376.9,1081 1372.4,1080.4 1367.9,1079.8 1363.3,1079 1358.8,1078.2 1354.3,1077.2 1349.8,1076.2 1345.4,1075.2 1340.9,1074 1336.5,1072.8 1332.1,1071.5 1327.7,1070.1 1323.4,1068.6 1319,1067.1 1314.7,1065.5 1310.5,1063.8 1306.2,1062 1302,1060.2 1297.9,1058.3 1293.7,1056.3 1289.6,1054.3 1285.5,1052.1 1281.5,1049.9 1277.5,1047.7 1273.5,1045.3 1269.6,1042.9 1265.8,1040.5 1261.9,1037.9 1258.1,1035.3 1254.4,1032.6 1250.7,1029.9 1247.1,1027.1 1243.5,1024.2 1239.9,1021.3 1236.5,1018.3 1233,1015.3 1229.6,1012.2 1226.3,1009 1223,1005.8 1219.8,1002.5 1216.7,999.1 1213.6,995.7 1210.5,992.3 1207.5,988.8 1204.6,985.3 1201.8,981.6 1199,978 1196.2,974.3 1193.6,970.6 1191,966.8 1188.4,962.9 1186,959 1183.6,955.1 1181.2,951.1 1179,947.1 1176.8,943.1 1174.7,939 1172.6,934.9 1170.6,930.7 1168.7,926.6 1166.9,922.3 1165.2,918.1 1163.5,913.8 1161.9,909.5 1160.3,905.2 1158.9,900.8 1157.5,896.4 1156.2,892 1155,887.6 1153.8,883.1 1152.7,878.6 1151.7,874.1 1150.8,869.6 1150,865.1 1149.2,860.6 1148.6,856 1148,851.4 1147.4,846.9 1147,842.3 1146.6,837.7 1146.4,833.1 1146.2,828.5 1146.1,827.5 875,827.5Z" fill="url(#gPurp)"/>
<path d="M875,831.4 875.1,836.2 875.2,840.9 875.3,845.6 875.5,850.4 875.7,855.1 876,859.8 876.3,864.6 876.6,869.3 877,874 877.5,878.7 877.9,883.4 878.4,888.1 879,892.8 879.6,897.5 880.2,902.2 880.9,906.9 881.6,911.6 882.3,916.3 883.1,920.9 883.9,925.6 884.8,930.3 885.7,934.9 886.6,939.5 887.6,944.2 888.7,948.8 889.7,953.4 890.8,958 892,962.6 893.2,967.2 894.4,971.7 895.6,976.3 896.9,980.8 898.3,985.4 899.7,989.9 901.1,994.4 902.5,998.9 904,1003.4 905.6,1007.9 907.1,1012.3 908.8,1016.8 910.4,1021.2 912.1,1025.6 913.8,1030 915.6,1034.4 917.4,1038.7 919.2,1043.1 921.1,1047.4 923,1051.8 924.9,1056.1 926.9,1060.3 928.9,1064.6 931,1068.9 933.1,1073.1 935.2,1077.3 937.4,1081.5 939.6,1085.7 941.8,1089.8 944.1,1093.9 946.4,1098 948.8,1102.1 951.1,1106.2 953.5,1110.3 956,1114.3 958.5,1118.3 961,1122.3 963.5,1126.2 966.1,1130.2 968.7,1134.1 971.4,1138 974.1,1141.8 976.8,1145.7 979.5,1149.5 982.3,1153.3 985.1,1157.1 988,1160.8 990.9,1164.5 993.8,1168.2 996.7,1171.9 999.7,1175.5 1002.7,1179.2 1005.7,1182.7 1008.8,1186.3 1011.9,1189.8 1015,1193.3 1018.2,1196.8 1021.4,1200.3 1024.6,1203.7 1027.8,1207.1 1031.1,1210.4 1034.4,1213.8 1037.7,1217.1 1041.1,1220.4 1044.5,1223.6 1047.9,1226.8 1051.4,1230 1054.8,1233.2 1058.3,1236.3 1061.8,1239.4 1065.4,1242.4 1069,1245.5 1072.6,1248.5 1076.2,1251.4 1079.9,1254.4 1083.5,1257.3 1087.2,1260.1 1091,1263 1094.7,1265.8 1098.5,1268.5 1102.3,1271.3 1106.1,1274 1110,1276.6 1113.8,1279.2 1117.7,1281.8 1121.6,1284.4 1125.6,1286.9 1129.5,1289.4 1133.5,1291.9 1137.5,1294.3 1141.5,1296.7 1145.5,1299 1149.6,1301.4 1153.7,1303.6 1157.8,1305.9 1161.9,1308.1 1166,1310.2 1170.2,1312.4 1174.3,1314.5 1178.5,1316.5 1182.7,1318.6 1187,1320.5 1191.2,1322.5 1195.5,1324.4 1199.7,1326.3 1204,1328.1 1208.3,1329.9 1212.7,1331.6 1217,1333.4 1221.3,1335 1225.7,1336.7 1230.1,1338.3 1234.5,1339.8 1238.9,1341.4 1243.3,1342.8 1247.7,1344.3 1252.2,1345.7 1256.6,1347.1 1261.1,1348.4 1265.6,1349.7 1270,1350.9 1274.5,1352.1 1279.1,1353.3 1283.6,1354.4 1288.1,1355.5 1292.6,1356.5 1297.2,1357.5 1301.7,1358.5 1306.3,1359.4 1310.9,1360.3 1315.4,1361.2 1320,1362 1324.6,1362.7 1329.2,1363.4 1333.8,1364.1 1338.4,1364.8 1343,1365.4 1347.7,1365.9 1352.3,1366.4 1356.9,1366.9 1361.5,1367.3 1366.2,1367.7 1370.8,1368.1 1375.5,1368.4 1380.1,1368.7 1384.8,1368.9 1389.4,1369.1 1394,1369.2 1398.7,1369.3 1403.3,1369.4 1408,1369.4 1412.7,1369.4 1417.3,1369.3 1422,1369.2 1426.6,1369.1 1431.2,1368.9 1435.9,1368.7 1440.5,1368.4 1445.2,1368.1 1449.8,1367.7 1454.5,1367.3 1459.1,1366.9 1463.7,1366.4 1468.3,1365.9 1473,1365.4 1477.6,1364.8 1482.2,1364.1 1486.8,1363.4 1491.4,1362.7 1496,1362 1500.6,1361.2 1505.1,1360.3 1509.7,1359.4 1514.3,1358.5 1518.8,1357.5 1523.4,1356.5 1527.9,1355.5 1532.4,1354.4 1536.9,1353.3 1541.5,1352.1 1546,1350.9 1550.4,1349.7 1554.9,1348.4 1559.4,1347.1 1563.8,1345.7 1568.3,1344.3 1572.7,1342.8 1577.1,1341.4 1581.5,1339.8 1585.9,1338.3 1590.3,1336.7 1594.7,1335 1599,1333.4 1603.3,1331.6 1607.7,1329.9 1612,1328.1 1616.3,1326.3 1620.5,1324.4 1624.8,1322.5 1629,1320.5 1633.3,1318.6 1637.5,1316.5 1641.7,1314.5 1645.8,1312.4 1650,1310.2 1651,1309.7 1528.7,1054.1 1528.4,1054.3 1524.3,1056.3 1520.1,1058.3 1516,1060.2 1511.8,1062 1507.5,1063.8 1503.3,1065.5 1499,1067.1 1494.6,1068.6 1490.3,1070.1 1485.9,1071.5 1481.5,1072.8 1477.1,1074 1472.6,1075.2 1468.2,1076.2 1463.7,1077.2 1459.2,1078.2 1454.7,1079 1450.1,1079.8 1445.6,1080.4 1441.1,1081 1436.5,1081.6 1431.9,1082 1427.3,1082.4 1422.8,1082.6 1418.2,1082.8 1413.6,1083 1409,1083 1404.4,1083 1399.8,1082.8 1395.2,1082.6 1390.7,1082.4 1386.1,1082 1381.5,1081.6 1376.9,1081 1372.4,1080.4 1367.9,1079.8 1363.3,1079 1358.8,1078.2 1354.3,1077.2 1349.8,1076.2 1345.4,1075.2 1340.9,1074 1336.5,1072.8 1332.1,1071.5 1327.7,1070.1 1323.4,1068.6 1319,1067.1 1314.7,1065.5 1310.5,1063.8 1306.2,1062 1302,1060.2 1297.9,1058.3 1293.7,1056.3 1289.6,1054.3 1285.5,1052.1 1281.5,1049.9 1277.5,1047.7 1273.5,1045.3 1269.6,1042.9 1265.8,1040.5 1261.9,1037.9 1258.1,1035.3 1254.4,1032.6 1250.7,1029.9 1247.1,1027.1 1243.5,1024.2 1239.9,1021.3 1236.5,1018.3 1233,1015.3 1229.6,1012.2 1226.3,1009 1223,1005.8 1219.8,1002.5 1216.7,999.1 1213.6,995.7 1210.5,992.3 1207.5,988.8 1204.6,985.3 1201.8,981.6 1199,978 1196.2,974.3 1193.6,970.6 1191,966.8 1188.4,962.9 1186,959 1183.6,955.1 1181.2,951.1 1179,947.1 1176.8,943.1 1174.7,939 1172.6,934.9 1170.6,930.7 1168.7,926.6 1166.9,922.3 1165.2,918.1 1163.5,913.8 1161.9,909.5 1160.3,905.2 1158.9,900.8 1157.5,896.4 1156.2,892 1155,887.6 1153.8,883.1 1152.7,878.6 1151.7,874.1 1150.8,869.6 1150,865.1 1149.2,860.6 1148.6,856 1148,851.4 1147.4,846.9 1147,842.3 1146.6,837.7 1146.4,833.1 1146.2,828.5 1146.1,827.5 875,827.5Z" fill="none" stroke="url(#gPurpB)" stroke-width="21.0" stroke-linejoin="miter" clip-path="url(#cp_purp)"/>
<g mask="url(#ms_a1)"><path d="M1488.5,371 1496.6,372.5 1504.7,374.1 1512.7,375.9 1520.7,377.8 1528.7,379.9 1536.6,382.1 1544.5,384.5 1552.4,387 1560.2,389.7 1567.9,392.5 1575.6,395.4 1583.3,398.4 1590.9,401.7 1598.4,405 1605.8,408.5 1613.3,412.1 1620.6,415.8 1627.9,419.7 1635.1,423.7 1642.2,427.8 1649.2,432.1 1656.2,436.4 1663.1,441 1669.9,445.6 1676.6,450.3 1683.3,455.2 1689.8,460.2 1696.3,465.3 1702.7,470.5 1708.9,475.9 1707.8,482 1734,434.6 1796,625 1605.7,589 1646.8,554 1644.7,552.6 1640,548.5 1635.1,544.5 1630.2,540.5 1625.2,536.7 1620.2,532.9 1615.1,529.3 1609.9,525.7 1604.7,522.2 1599.4,518.8 1594,515.5 1588.6,512.3 1583.2,509.2 1577.7,506.2 1572.1,503.3 1566.5,500.5 1560.8,497.8 1555.1,495.2 1549.3,492.6 1543.5,490.2 1537.7,487.9 1531.8,485.7 1525.9,483.6 1519.9,481.6 1513.9,479.7 1507.9,477.9 1501.8,476.2 1495.8,474.7 1489.6,473.2 1483.5,471.8 1477.3,470.6 1471.2,469.4Z" fill="#1a2440" opacity="0.4" transform="translate(2,9)" filter="url(#arsh)"/></g>
<g mask="url(#mk_a1)">
<path d="M1488.5,371 1496.6,372.5 1504.7,374.1 1512.7,375.9 1520.7,377.8 1528.7,379.9 1536.6,382.1 1544.5,384.5 1552.4,387 1560.2,389.7 1567.9,392.5 1575.6,395.4 1583.3,398.4 1590.9,401.7 1598.4,405 1605.8,408.5 1613.3,412.1 1620.6,415.8 1627.9,419.7 1635.1,423.7 1642.2,427.8 1649.2,432.1 1656.2,436.4 1663.1,441 1669.9,445.6 1676.6,450.3 1683.3,455.2 1689.8,460.2 1696.3,465.3 1702.7,470.5 1708.9,475.9 1707.8,482 1734,434.6 1796,625 1679.1,516.2 1679.1,516.2 1673.6,511.4 1668.1,506.8 1662.4,502.3 1656.7,497.8 1651,493.5 1645.1,489.3 1639.2,485.1 1633.2,481.1 1627.1,477.2 1621,473.4 1614.8,469.7 1608.5,466.1 1602.2,462.6 1595.8,459.3 1589.3,456 1582.8,452.9 1576.3,449.9 1569.6,447 1563,444.2 1556.3,441.5 1549.5,439 1542.7,436.5 1535.9,434.2 1529,432 1522.1,430 1515.1,428 1508.1,426.2 1501.1,424.5 1494,423 1487,421.5 1479.8,420.2Z" fill="url(#ao_a1)"/>
<path d="M1479.8,420.2 1487,421.5 1494,423 1501.1,424.5 1508.1,426.2 1515.1,428 1522.1,430 1529,432 1535.9,434.2 1542.7,436.5 1549.5,439 1556.3,441.5 1563,444.2 1569.6,447 1576.3,449.9 1582.8,452.9 1589.3,456 1595.8,459.3 1602.2,462.6 1608.5,466.1 1614.8,469.7 1621,473.4 1627.1,477.2 1633.2,481.1 1639.2,485.1 1645.1,489.3 1651,493.5 1656.7,497.8 1662.4,502.3 1668.1,506.8 1673.6,511.4 1679.1,516.2 1679.1,516.2 1796,625 1605.7,589 1646.8,554 1644.7,552.6 1640,548.5 1635.1,544.5 1630.2,540.5 1625.2,536.7 1620.2,532.9 1615.1,529.3 1609.9,525.7 1604.7,522.2 1599.4,518.8 1594,515.5 1588.6,512.3 1583.2,509.2 1577.7,506.2 1572.1,503.3 1566.5,500.5 1560.8,497.8 1555.1,495.2 1549.3,492.6 1543.5,490.2 1537.7,487.9 1531.8,485.7 1525.9,483.6 1519.9,481.6 1513.9,479.7 1507.9,477.9 1501.8,476.2 1495.8,474.7 1489.6,473.2 1483.5,471.8 1477.3,470.6 1471.2,469.4Z" fill="url(#ai_a1)"/>
<path d="M1488.5,371 1496.6,372.5 1504.7,374.1 1512.7,375.9 1520.7,377.8 1528.7,379.9 1536.6,382.1 1544.5,384.5 1552.4,387 1560.2,389.7 1567.9,392.5 1575.6,395.4 1583.3,398.4 1590.9,401.7 1598.4,405 1605.8,408.5 1613.3,412.1 1620.6,415.8 1627.9,419.7 1635.1,423.7 1642.2,427.8 1649.2,432.1 1656.2,436.4 1663.1,441 1669.9,445.6 1676.6,450.3 1683.3,455.2 1689.8,460.2 1696.3,465.3 1702.7,470.5 1708.9,475.9 1707.8,482 1734,434.6 1796,625 1605.7,589 1646.8,554 1644.7,552.6 1640,548.5 1635.1,544.5 1630.2,540.5 1625.2,536.7 1620.2,532.9 1615.1,529.3 1609.9,525.7 1604.7,522.2 1599.4,518.8 1594,515.5 1588.6,512.3 1583.2,509.2 1577.7,506.2 1572.1,503.3 1566.5,500.5 1560.8,497.8 1555.1,495.2 1549.3,492.6 1543.5,490.2 1537.7,487.9 1531.8,485.7 1525.9,483.6 1519.9,481.6 1513.9,479.7 1507.9,477.9 1501.8,476.2 1495.8,474.7 1489.6,473.2 1483.5,471.8 1477.3,470.6 1471.2,469.4Z" fill="none" stroke="url(#ab_a1)" stroke-width="14.0" stroke-linejoin="miter" stroke-miterlimit="8" clip-path="url(#cpa_a1)"/>
</g>
<g mask="url(#ms_a2)"><path d="M1827.4,1008.3 1824.1,1015.6 1820.6,1022.9 1817,1030.1 1813.3,1037.3 1809.4,1044.3 1805.4,1051.4 1801.3,1058.3 1797.1,1065.2 1792.8,1072 1788.3,1078.7 1783.7,1085.3 1779.1,1091.9 1774.2,1098.3 1769.3,1104.7 1764.3,1111 1759.2,1117.2 1753.9,1123.3 1748.5,1129.4 1743.1,1135.3 1737.5,1141.1 1731.9,1146.9 1726.1,1152.5 1720.2,1158 1714.3,1163.4 1708.2,1168.8 1702.1,1174 1695.8,1179.1 1689.5,1184.1 1683.1,1188.9 1676.6,1193.7 1670,1198.4 1663.3,1202.9 1656.6,1207.3 1649.8,1211.6 1642.9,1215.8 1635.9,1219.8 1628.9,1223.8 1621.8,1227.6 1614.6,1231.3 1607.3,1234.8 1600.1,1238.2 1592.7,1241.5 1585.3,1244.7 1581.7,1244.4 1596,1289 1425,1247 1531.6,1094.3 1543.5,1149.6 1547.3,1152.2 1553.1,1149.7 1558.8,1147.2 1564.5,1144.5 1570.1,1141.7 1575.7,1138.8 1581.2,1135.8 1586.7,1132.8 1592.2,1129.6 1597.5,1126.3 1602.9,1123 1608.1,1119.5 1613.3,1116 1618.4,1112.3 1623.5,1108.6 1628.5,1104.8 1633.4,1100.9 1638.3,1096.9 1643.1,1092.8 1647.8,1088.7 1652.5,1084.5 1657,1080.1 1661.5,1075.7 1666,1071.3 1670.3,1066.7 1674.6,1062.1 1678.7,1057.4 1682.8,1052.6 1686.8,1047.8 1690.8,1042.9 1694.6,1037.9 1698.3,1032.8 1702,1027.7 1705.6,1022.5 1709,1017.3 1712.4,1012 1715.7,1006.6 1718.9,1001.2 1722,995.7 1725,990.2 1727.9,984.6 1730.7,979 1733.4,973.3 1736,967.6Z" fill="#1a2440" opacity="0.4" transform="translate(2,9)" filter="url(#arsh)"/></g>
<g mask="url(#mk_a2)">
<path d="M1827.4,1008.3 1824.1,1015.6 1820.6,1022.9 1817,1030.1 1813.3,1037.3 1809.4,1044.3 1805.4,1051.4 1801.3,1058.3 1797.1,1065.2 1792.8,1072 1788.3,1078.7 1783.7,1085.3 1779.1,1091.9 1774.2,1098.3 1769.3,1104.7 1764.3,1111 1759.2,1117.2 1753.9,1123.3 1748.5,1129.4 1743.1,1135.3 1737.5,1141.1 1731.9,1146.9 1726.1,1152.5 1720.2,1158 1714.3,1163.4 1708.2,1168.8 1702.1,1174 1695.8,1179.1 1689.5,1184.1 1683.1,1188.9 1676.6,1193.7 1670,1198.4 1663.3,1202.9 1656.6,1207.3 1649.8,1211.6 1642.9,1215.8 1635.9,1219.8 1628.9,1223.8 1621.8,1227.6 1614.6,1231.3 1607.3,1234.8 1600.1,1238.2 1592.7,1241.5 1585.3,1244.7 1581.7,1244.4 1596,1289 1425,1247 1563.7,1199.5 1563.7,1199.5 1570.4,1196.7 1577,1193.8 1583.6,1190.8 1590.1,1187.6 1596.5,1184.3 1602.9,1181 1609.3,1177.5 1615.5,1173.9 1621.8,1170.1 1627.9,1166.3 1634,1162.4 1640,1158.3 1645.9,1154.2 1651.8,1149.9 1657.5,1145.6 1663.3,1141.1 1668.9,1136.5 1674.4,1131.9 1679.9,1127.1 1685.2,1122.3 1690.5,1117.3 1695.7,1112.3 1700.8,1107.1 1705.8,1101.9 1710.8,1096.6 1715.6,1091.2 1720.3,1085.7 1724.9,1080.2 1729.5,1074.5 1733.9,1068.8 1738.2,1063 1742.5,1057.1 1746.6,1051.1 1750.6,1045.1 1754.5,1039 1758.3,1032.9 1762,1026.6 1765.6,1020.3 1769,1014 1772.4,1007.5 1775.6,1001.1 1778.7,994.5 1781.7,987.9Z" fill="url(#ao_a2)"/>
<path d="M1781.7,987.9 1778.7,994.5 1775.6,1001.1 1772.4,1007.5 1769,1014 1765.6,1020.3 1762,1026.6 1758.3,1032.9 1754.5,1039 1750.6,1045.1 1746.6,1051.1 1742.5,1057.1 1738.2,1063 1733.9,1068.8 1729.5,1074.5 1724.9,1080.2 1720.3,1085.7 1715.6,1091.2 1710.8,1096.6 1705.8,1101.9 1700.8,1107.1 1695.7,1112.3 1690.5,1117.3 1685.2,1122.3 1679.9,1127.1 1674.4,1131.9 1668.9,1136.5 1663.3,1141.1 1657.5,1145.6 1651.8,1149.9 1645.9,1154.2 1640,1158.3 1634,1162.4 1627.9,1166.3 1621.8,1170.1 1615.5,1173.9 1609.3,1177.5 1602.9,1181 1596.5,1184.3 1590.1,1187.6 1583.6,1190.8 1577,1193.8 1570.4,1196.7 1563.7,1199.5 1563.7,1199.5 1425,1247 1531.6,1094.3 1543.5,1149.6 1547.3,1152.2 1553.1,1149.7 1558.8,1147.2 1564.5,1144.5 1570.1,1141.7 1575.7,1138.8 1581.2,1135.8 1586.7,1132.8 1592.2,1129.6 1597.5,1126.3 1602.9,1123 1608.1,1119.5 1613.3,1116 1618.4,1112.3 1623.5,1108.6 1628.5,1104.8 1633.4,1100.9 1638.3,1096.9 1643.1,1092.8 1647.8,1088.7 1652.5,1084.5 1657,1080.1 1661.5,1075.7 1666,1071.3 1670.3,1066.7 1674.6,1062.1 1678.7,1057.4 1682.8,1052.6 1686.8,1047.8 1690.8,1042.9 1694.6,1037.9 1698.3,1032.8 1702,1027.7 1705.6,1022.5 1709,1017.3 1712.4,1012 1715.7,1006.6 1718.9,1001.2 1722,995.7 1725,990.2 1727.9,984.6 1730.7,979 1733.4,973.3 1736,967.6Z" fill="url(#ai_a2)"/>
<path d="M1827.4,1008.3 1824.1,1015.6 1820.6,1022.9 1817,1030.1 1813.3,1037.3 1809.4,1044.3 1805.4,1051.4 1801.3,1058.3 1797.1,1065.2 1792.8,1072 1788.3,1078.7 1783.7,1085.3 1779.1,1091.9 1774.2,1098.3 1769.3,1104.7 1764.3,1111 1759.2,1117.2 1753.9,1123.3 1748.5,1129.4 1743.1,1135.3 1737.5,1141.1 1731.9,1146.9 1726.1,1152.5 1720.2,1158 1714.3,1163.4 1708.2,1168.8 1702.1,1174 1695.8,1179.1 1689.5,1184.1 1683.1,1188.9 1676.6,1193.7 1670,1198.4 1663.3,1202.9 1656.6,1207.3 1649.8,1211.6 1642.9,1215.8 1635.9,1219.8 1628.9,1223.8 1621.8,1227.6 1614.6,1231.3 1607.3,1234.8 1600.1,1238.2 1592.7,1241.5 1585.3,1244.7 1581.7,1244.4 1596,1289 1425,1247 1531.6,1094.3 1543.5,1149.6 1547.3,1152.2 1553.1,1149.7 1558.8,1147.2 1564.5,1144.5 1570.1,1141.7 1575.7,1138.8 1581.2,1135.8 1586.7,1132.8 1592.2,1129.6 1597.5,1126.3 1602.9,1123 1608.1,1119.5 1613.3,1116 1618.4,1112.3 1623.5,1108.6 1628.5,1104.8 1633.4,1100.9 1638.3,1096.9 1643.1,1092.8 1647.8,1088.7 1652.5,1084.5 1657,1080.1 1661.5,1075.7 1666,1071.3 1670.3,1066.7 1674.6,1062.1 1678.7,1057.4 1682.8,1052.6 1686.8,1047.8 1690.8,1042.9 1694.6,1037.9 1698.3,1032.8 1702,1027.7 1705.6,1022.5 1709,1017.3 1712.4,1012 1715.7,1006.6 1718.9,1001.2 1722,995.7 1725,990.2 1727.9,984.6 1730.7,979 1733.4,973.3 1736,967.6Z" fill="none" stroke="url(#ab_a2)" stroke-width="14.0" stroke-linejoin="miter" stroke-miterlimit="8" clip-path="url(#cpa_a2)"/>
</g>
<g mask="url(#ms_a3)"><path d="M1008.4,1044 1004.6,1037 1000.9,1029.9 997.3,1022.7 993.9,1015.5 990.6,1008.2 987.4,1000.8 984.3,993.4 981.4,986 978.6,978.5 975.9,970.9 973.3,963.3 970.9,955.7 968.7,948 966.5,940.3 964.5,932.5 962.7,924.7 960.9,916.9 959.3,909 957.9,901.2 956.6,893.3 955.4,885.3 954.4,877.4 953.5,869.4 952.7,861.4 952.1,853.4 951.6,845.4 951.3,837.4 951.1,829.4 951,821.4 951.1,813.4 951.3,805.4 951.7,797.4 952.2,789.4 952.8,781.4 953.6,773.4 954.5,765.5 955.7,762.4 909.3,758 1041,604 1106.7,786.3 1054.4,774.4 1053.9,776.8 1053.1,783.1 1052.5,789.4 1052,795.6 1051.6,801.9 1051.3,808.2 1051.1,814.5 1051,820.8 1051,827.1 1051.2,833.3 1051.4,839.6 1051.8,845.9 1052.3,852.2 1052.9,858.4 1053.6,864.7 1054.4,870.9 1055.3,877.2 1056.3,883.4 1057.4,889.6 1058.7,895.7 1060,901.9 1061.5,908 1063,914.1 1064.7,920.1 1066.5,926.2 1068.4,932.2 1070.4,938.2 1072.5,944.1 1074.7,950 1077,955.8 1079.4,961.6 1081.9,967.4 1084.5,973.1 1087.2,978.8 1090,984.5 1092.9,990 1095.9,995.6Z" fill="#1a2440" opacity="0.4" transform="translate(2,9)" filter="url(#arsh)"/></g>
<g mask="url(#mk_a3)">
<path d="M1008.4,1044 1004.6,1037 1000.9,1029.9 997.3,1022.7 993.9,1015.5 990.6,1008.2 987.4,1000.8 984.3,993.4 981.4,986 978.6,978.5 975.9,970.9 973.3,963.3 970.9,955.7 968.7,948 966.5,940.3 964.5,932.5 962.7,924.7 960.9,916.9 959.3,909 957.9,901.2 956.6,893.3 955.4,885.3 954.4,877.4 953.5,869.4 952.7,861.4 952.1,853.4 951.6,845.4 951.3,837.4 951.1,829.4 951,821.4 951.1,813.4 951.3,805.4 951.7,797.4 952.2,789.4 952.8,781.4 953.6,773.4 954.5,765.5 955.7,762.4 909.3,758 1041,604 1004.6,768.3 1004.6,768.3 1003.7,775.4 1002.9,782.6 1002.3,789.8 1001.8,797.1 1001.4,804.3 1001.1,811.5 1001,818.7 1001,826 1001.2,833.2 1001.4,840.4 1001.8,847.7 1002.3,854.9 1003,862.1 1003.7,869.3 1004.6,876.4 1005.7,883.6 1006.8,890.7 1008.1,897.9 1009.5,905 1011.1,912 1012.7,919.1 1014.5,926.1 1016.4,933.1 1018.4,940 1020.6,946.9 1022.9,953.8 1025.3,960.6 1027.8,967.4 1030.4,974.1 1033.2,980.8 1036,987.4 1039,994 1042.1,1000.6 1045.4,1007 1048.7,1013.4 1052.2,1019.8Z" fill="url(#ao_a3)"/>
<path d="M1052.2,1019.8 1048.7,1013.4 1045.4,1007 1042.1,1000.6 1039,994 1036,987.4 1033.2,980.8 1030.4,974.1 1027.8,967.4 1025.3,960.6 1022.9,953.8 1020.6,946.9 1018.4,940 1016.4,933.1 1014.5,926.1 1012.7,919.1 1011.1,912 1009.5,905 1008.1,897.9 1006.8,890.7 1005.7,883.6 1004.6,876.4 1003.7,869.3 1003,862.1 1002.3,854.9 1001.8,847.7 1001.4,840.4 1001.2,833.2 1001,826 1001,818.7 1001.1,811.5 1001.4,804.3 1001.8,797.1 1002.3,789.8 1002.9,782.6 1003.7,775.4 1004.6,768.3 1004.6,768.3 1041,604 1106.7,786.3 1054.4,774.4 1053.9,776.8 1053.1,783.1 1052.5,789.4 1052,795.6 1051.6,801.9 1051.3,808.2 1051.1,814.5 1051,820.8 1051,827.1 1051.2,833.3 1051.4,839.6 1051.8,845.9 1052.3,852.2 1052.9,858.4 1053.6,864.7 1054.4,870.9 1055.3,877.2 1056.3,883.4 1057.4,889.6 1058.7,895.7 1060,901.9 1061.5,908 1063,914.1 1064.7,920.1 1066.5,926.2 1068.4,932.2 1070.4,938.2 1072.5,944.1 1074.7,950 1077,955.8 1079.4,961.6 1081.9,967.4 1084.5,973.1 1087.2,978.8 1090,984.5 1092.9,990 1095.9,995.6Z" fill="url(#ai_a3)"/>
<path d="M1008.4,1044 1004.6,1037 1000.9,1029.9 997.3,1022.7 993.9,1015.5 990.6,1008.2 987.4,1000.8 984.3,993.4 981.4,986 978.6,978.5 975.9,970.9 973.3,963.3 970.9,955.7 968.7,948 966.5,940.3 964.5,932.5 962.7,924.7 960.9,916.9 959.3,909 957.9,901.2 956.6,893.3 955.4,885.3 954.4,877.4 953.5,869.4 952.7,861.4 952.1,853.4 951.6,845.4 951.3,837.4 951.1,829.4 951,821.4 951.1,813.4 951.3,805.4 951.7,797.4 952.2,789.4 952.8,781.4 953.6,773.4 954.5,765.5 955.7,762.4 909.3,758 1041,604 1106.7,786.3 1054.4,774.4 1053.9,776.8 1053.1,783.1 1052.5,789.4 1052,795.6 1051.6,801.9 1051.3,808.2 1051.1,814.5 1051,820.8 1051,827.1 1051.2,833.3 1051.4,839.6 1051.8,845.9 1052.3,852.2 1052.9,858.4 1053.6,864.7 1054.4,870.9 1055.3,877.2 1056.3,883.4 1057.4,889.6 1058.7,895.7 1060,901.9 1061.5,908 1063,914.1 1064.7,920.1 1066.5,926.2 1068.4,932.2 1070.4,938.2 1072.5,944.1 1074.7,950 1077,955.8 1079.4,961.6 1081.9,967.4 1084.5,973.1 1087.2,978.8 1090,984.5 1092.9,990 1095.9,995.6Z" fill="none" stroke="url(#ab_a3)" stroke-width="14.0" stroke-linejoin="miter" stroke-miterlimit="8" clip-path="url(#cpa_a3)"/>
</g>
<path d="M1201.5 767.5 L1281 688 L1537 688 L1615.5 767.5 L1407 1017Z" fill="#ffd9a0" opacity="0.22" filter="url(#dglow)"/>
<path d="M1201.5 767.5 L1281 688 L1537 688 L1615.5 767.5 L1407 1017ZM1201.5 767.5 L1615.5 767.5M1281 688 L1318 767.5 L1407 688 L1500 767.5 L1537 688M1318 767.5 L1407 1017M1500 767.5 L1407 1017" fill="none" stroke="#ffb254" stroke-width="26" stroke-linejoin="round" opacity="0.42" filter="url(#dglow)"/>
<path d="M1201.5 767.5 L1281 688 L1537 688 L1615.5 767.5Z" fill="#fbe2c4" opacity="0.65" filter="url(#dglow2)"/>
<path d="M1201.5 767.5 L1281 688 L1537 688 L1615.5 767.5 L1407 1017ZM1201.5 767.5 L1615.5 767.5M1281 688 L1318 767.5 L1407 688 L1500 767.5 L1537 688M1318 767.5 L1407 1017M1500 767.5 L1407 1017" fill="none" stroke="#ffeeb4" stroke-width="23" stroke-linejoin="round" opacity="1" filter="url(#dglow2)"/>
<path d="M1226.8,757 1301.5,757 1277.8,706Z" fill="#fbdfc0" fill-opacity="0.55" stroke="#fff4c8" stroke-width="3.2" stroke-linejoin="round"/>
<path d="M1297.5,698.5 1321.6,750.2 1379.5,698.5Z" fill="#fbdfc0" fill-opacity="0.55" stroke="#fff4c8" stroke-width="3.2" stroke-linejoin="round"/>
<path d="M1345.5,757 1471.6,757 1407.2,701.9Z" fill="#fbdfc0" fill-opacity="0.55" stroke="#fff4c8" stroke-width="3.2" stroke-linejoin="round"/>
<path d="M1435.4,698.5 1496.3,750.5 1520.5,698.5Z" fill="#fbdfc0" fill-opacity="0.55" stroke="#fff4c8" stroke-width="3.2" stroke-linejoin="round"/>
<path d="M1540.1,706.1 1516.5,757 1590.4,757Z" fill="#fbdfc0" fill-opacity="0.55" stroke="#fff4c8" stroke-width="3.2" stroke-linejoin="round"/>
<path d="M1223.8,778 1376.9,964 1310.6,778Z" fill="none" stroke="#fff4c8" stroke-opacity="0.9" stroke-width="2.6" stroke-linejoin="round"/>
<path d="M1332.9,778 1407.2,986.4 1484.9,778Z" fill="none" stroke="#fff4c8" stroke-opacity="0.9" stroke-width="2.6" stroke-linejoin="round"/>
<path d="M1507.3,778 1438.2,963.2 1593,778Z" fill="none" stroke="#fff4c8" stroke-opacity="0.9" stroke-width="2.6" stroke-linejoin="round"/>
<path d="M1318 767.5 L1407 1017M1500 767.5 L1407 1017" fill="none" stroke="url(#gold)" stroke-width="9.5" stroke-linejoin="round"/>
<path d="M1201.5 767.5 L1615.5 767.5M1281 688 L1318 767.5 L1407 688 L1500 767.5 L1537 688" fill="none" stroke="url(#gold)" stroke-width="11" stroke-linejoin="round"/>
<path d="M1201.5 767.5 L1281 688 L1537 688 L1615.5 767.5 L1407 1017Z" fill="none" stroke="url(#gold)" stroke-width="12.5" stroke-linejoin="round"/>
<path d="M1362.5 906.5 L1393.5 879 L1409.5 896.5 L1436 871.5" fill="none" stroke="url(#gold2)" stroke-width="9.5" stroke-linejoin="miter"/>
<path d="M1451.5 853.5 L1422.5 860.5 L1446 883.5Z" fill="url(#gold2)"/>
<g transform="translate(1080,395) scale(0.12811)" fill="none" stroke="#eaf9ff" stroke-width="43" stroke-linejoin="round" stroke-linecap="round">
<path d="M398.8 430.4 L405.9 349.7 L544.1 349.7 L551.2 430.4 L615.3 456.9 L677.4 404.9 L775.1 502.6 L723.1 564.7 L749.6 628.8 L830.3 635.9 L830.3 774.1 L749.6 781.2 L723.1 845.3 L775.1 907.4 L677.4 1005.1 L615.3 953.1 L551.2 979.6 L544.1 1060.3 L405.9 1060.3 L398.8 979.6 L334.7 953.1 L272.6 1005.1 L174.9 907.4 L226.9 845.3 L200.4 781.2 L119.7 774.1 L119.7 635.9 L200.4 628.8 L226.9 564.7 L174.9 502.6 L272.6 404.9 L334.7 456.9Z"/>
<circle cx="475" cy="705" r="176"/>
<path d="M1007.1 160.4 L1011 103.9 L1109 103.9 L1112.9 160.4 L1153.1 177.1 L1195.8 139.9 L1265.1 209.2 L1227.9 251.9 L1244.6 292.1 L1301.1 296 L1301.1 394 L1244.6 397.9 L1227.9 438.1 L1265.1 480.8 L1195.8 550.1 L1153.1 512.9 L1112.9 529.6 L1109 586.1 L1011 586.1 L1007.1 529.6 L966.9 512.9 L924.2 550.1 L854.9 480.8 L892.1 438.1 L875.4 397.9 L818.9 394 L818.9 296 L875.4 292.1 L892.1 251.9 L854.9 209.2 L924.2 139.9 L966.9 177.1Z"/>
<circle cx="1060" cy="345" r="104"/>
<path d="M1320 615 C1160 650 940 840 850 1020 L944 1082 C1130 975 1305 770 1320 615Z"/>
<path d="M852 1022 L792 1102 M942 1080 L872 1150"/>
<path d="M792 1102 C700 1095 640 1170 625 1250 C615 1290 580 1305 548 1306 C600 1345 730 1345 800 1275 C850 1220 850 1180 872 1150Z"/>
</g>
<g transform="translate(1710,675) scale(0.12811)" fill="none" stroke="#0f250f" stroke-width="30" stroke-linejoin="round" stroke-linecap="butt">
<g mask="url(#mkMag)">
<rect x="107" y="110" width="1113" height="795" rx="28"/>
<path d="M107 240H1220M660 110V640"/>
<path d="M171 166h28v28h-28zM238 166h28v28h-28zM304 166h28v28h-28z" fill="#0f250f" stroke="none"/>
<path d="M175 680H585" stroke-width="32"/>
<path d="M217 668V577H253V668M318 668V507H357V668M413 668V557H452V668M508 668V462H552V668" stroke-width="25" stroke-linejoin="miter"/>
<path d="M225 490L325 395L415 465L545 345" stroke-linejoin="miter"/>
<path d="M190 755H515M190 820H385" stroke-width="28"/>
<path d="M925 365A150 150 0 1 0 1085 515H925Z"/>
<path d="M985 320A140 140 0 0 1 1125 460H985Z"/>
</g>
<circle cx="825" cy="835" r="215" fill="#ffffff" fill-opacity="0.10" stroke="#d8f5c0" stroke-opacity="0.35" stroke-width="40"/>
<circle cx="825" cy="835" r="240"/>
<circle cx="825" cy="835" r="176"/>
<path d="M685 855L745 810L790 900L860 760L925 850L965 830" stroke-width="28" stroke-linejoin="miter"/>
<path d="M990 1018L1030 1058M1012 996L1052 1036" stroke-width="22"/>
<path d="M1062 1070L1185 1193" stroke-width="104" stroke-linecap="round"/>
<path d="M1062 1070L1185 1193" stroke="#a4e05c" stroke-width="50" stroke-linecap="round"/>
<path d="M1010 1018L1062 1070" stroke-width="60" stroke-linecap="butt"/>
<path d="M1010 1018L1062 1070" stroke="#cfeeb0" stroke-width="16" stroke-linecap="butt"/>
</g>
<g transform="translate(1020,960) scale(0.11390)" fill="none" stroke="#f6e2fa" stroke-width="42" stroke-linejoin="round" stroke-linecap="round">
<path d="M625 1215V450C625 390 580 345 505 348C440 350 400 390 390 432C330 425 262 470 262 560C190 572 140 640 160 735C95 790 95 930 185 985C170 1060 215 1125 300 1140C330 1240 430 1300 520 1285C585 1275 625 1255 625 1215Z"/>
<path d="M392 432C450 440 500 500 500 585"/>
<path d="M265 562C330 565 375 620 370 700"/>
<path d="M200 722H262"/>
<path d="M380 776C470 780 530 730 575 668"/>
<path d="M335 900C345 960 320 1005 265 1012"/>
<path d="M452 905C500 930 530 975 535 1020"/>
<path d="M500 1085C430 1090 400 1150 420 1205"/>
<path d="M575 330C590 270 640 235 700 240C720 130 800 75 850 78C930 80 985 130 1000 195C1090 140 1200 200 1195 300C1280 320 1320 400 1290 480C1270 540 1220 572 1150 572H1040"/>
<path d="M700 572H830M700 690H905L930 665V535M700 800H1180M700 915H1010V1105H1125M700 1030H845V1175" stroke-linecap="butt" stroke-linejoin="miter"/>
<circle cx="930" cy="475" r="39" stroke-width="46"/>
<circle cx="1240" cy="800" r="39" stroke-width="46"/>
<circle cx="1185" cy="1105" r="39" stroke-width="46"/>
<circle cx="845" cy="1235" r="39" stroke-width="46"/>
</g>
<path d="M1716 795L1733 806" stroke="#ffffff" stroke-width="2.2" stroke-linecap="round" opacity="0.45"/>
<text x="705" y="149" font-size="86" font-weight="bold" fill="#0a0a0a" textLength="1404" lengthAdjust="spacingAndGlyphs" stroke="#0a0a0a" stroke-width="2.4" stroke-linejoin="round">PERFORMANS TASARIM SİSTEMİ</text>
<rect x="1200" y="806" width="404" height="42" fill="#ffffff" opacity="0.85" filter="url(#thalo)"/>
<text x="1192" y="843.3" font-size="48" font-weight="bold" fill="#0c0a08" textLength="421" lengthAdjust="spacingAndGlyphs" stroke="#0c0a08" stroke-width="1.1" stroke-linejoin="round">OPTİMİZASYON</text>
<text x="1278.5" y="440.7" font-size="49.4" font-weight="bold" fill="#eefaff" textLength="213" lengthAdjust="spacingAndGlyphs" stroke="#eefaff" stroke-width="1.1" stroke-linejoin="round">ÜRETİM</text>
<text x="1309.5" y="489.8" font-size="37.8" font-weight="normal" fill="#eefaff" textLength="150" lengthAdjust="spacingAndGlyphs" stroke="#eefaff" stroke-width="0.9">(Setler)</text>
<text x="1726" y="894.6" font-size="51.3" font-weight="bold" fill="#0d1f0d" textLength="133" lengthAdjust="spacingAndGlyphs" stroke="#0d1f0d" stroke-width="1.2" stroke-linejoin="round">TEST</text>
<text x="1671.5" y="944.7" font-size="39.7" font-weight="normal" fill="#0d1f0d" textLength="242.5" lengthAdjust="spacingAndGlyphs" stroke="#0d1f0d" stroke-width="0.9">(A/B Analiz)</text>
<text x="1108" y="1176.9" font-size="48" font-weight="bold" fill="#f6e4fa" textLength="264" lengthAdjust="spacingAndGlyphs" stroke="#f6e4fa" stroke-width="1.1" stroke-linejoin="round">ÖĞRENİM</text>
<text x="1185" y="1225.9" font-size="37.8" font-weight="normal" fill="#f6e4fa" textLength="110" lengthAdjust="spacingAndGlyphs" stroke="#f6e4fa" stroke-width="0.9">(Veri)</text></svg></body></html>
